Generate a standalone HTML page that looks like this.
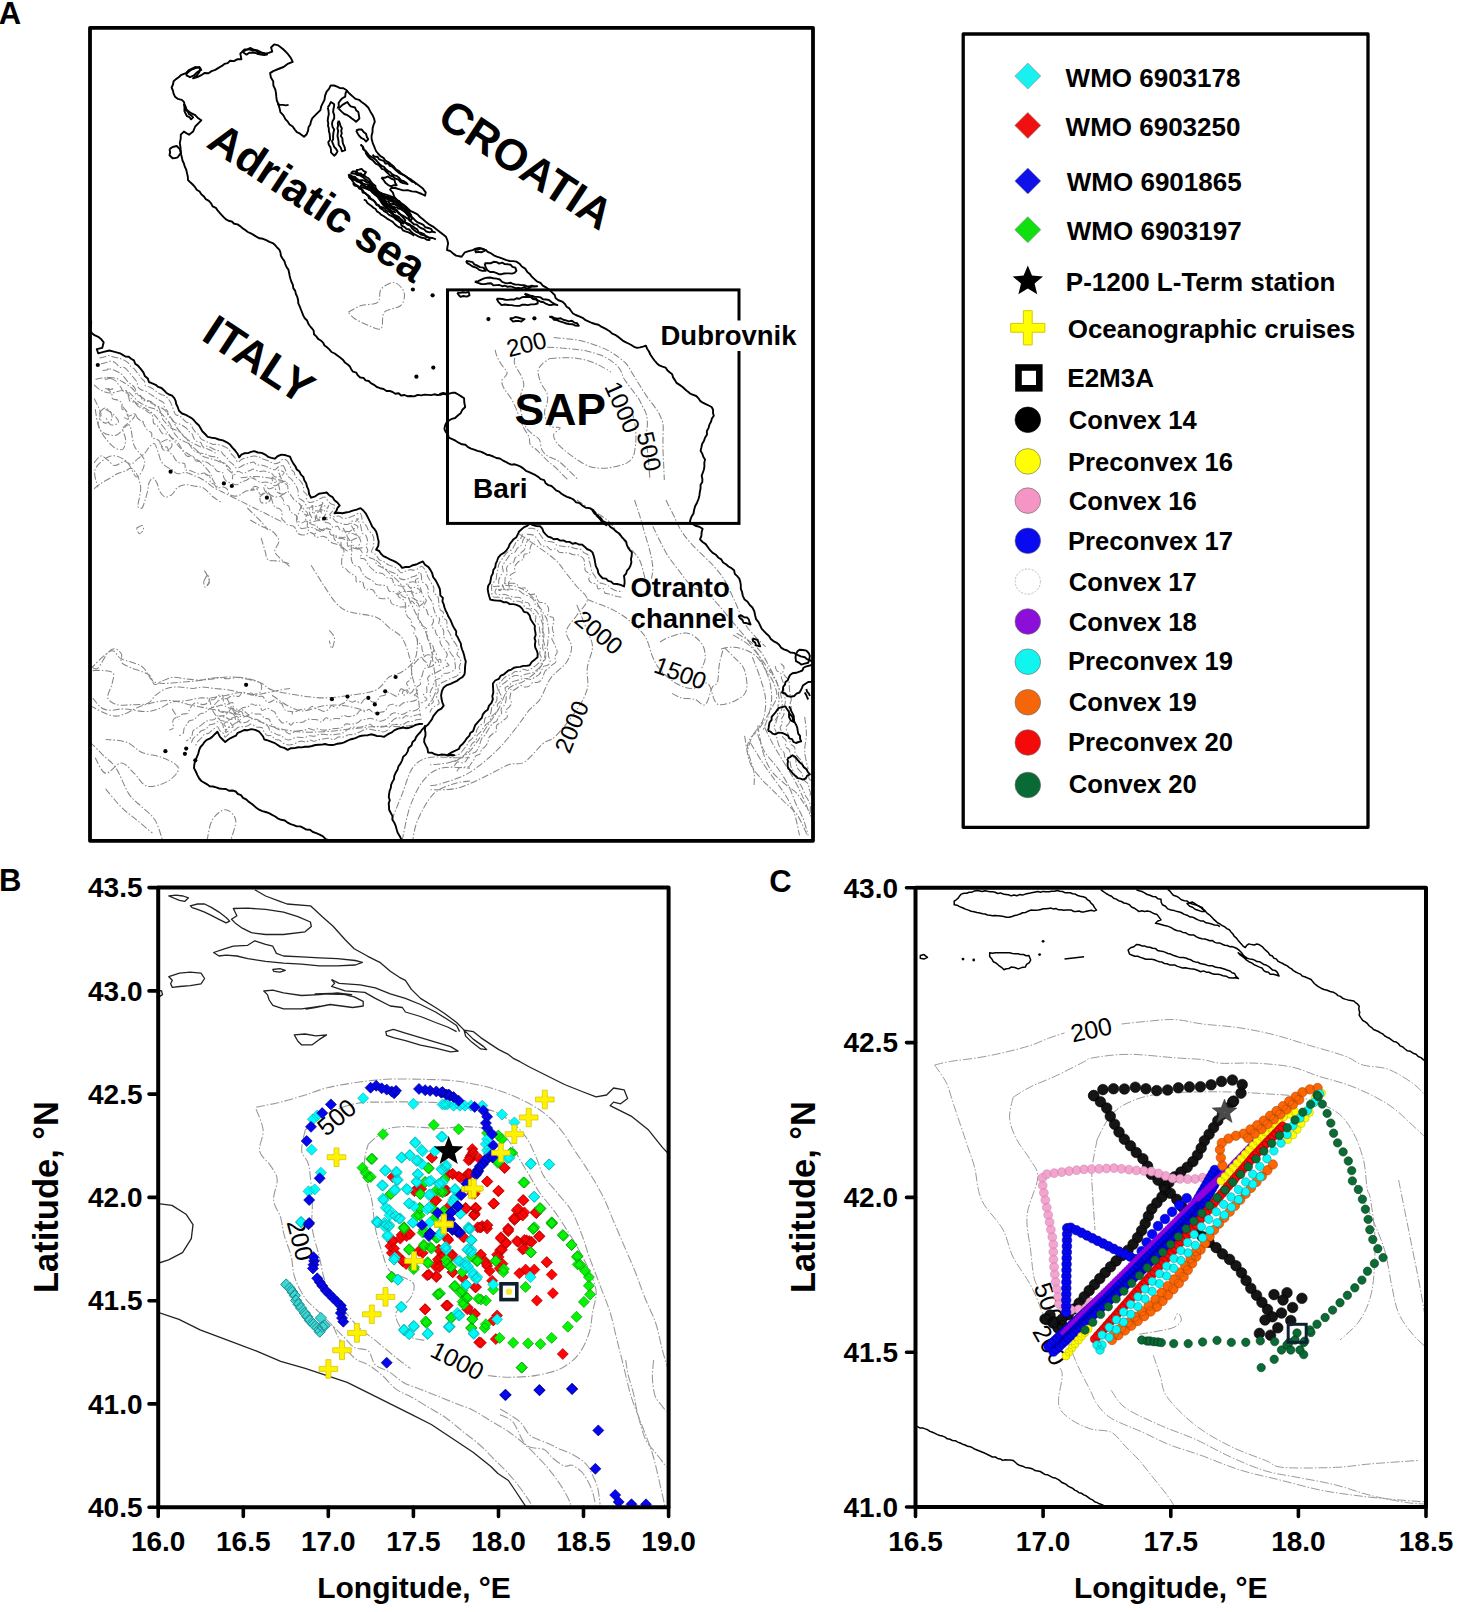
<!DOCTYPE html>
<html><head><meta charset="utf-8"><title>Figure</title>
<style>html,body{margin:0;padding:0;background:#fff;}svg{display:block;}</style>
</head><body>
<svg xmlns="http://www.w3.org/2000/svg" width="1461" height="1612" viewBox="0 0 1461 1612">
<rect width="1461" height="1612" fill="#fff"/>
<defs><clipPath id="clipA"><rect x="90" y="27.8" width="723" height="813"/></clipPath><clipPath id="clipB"><rect x="158.2" y="887.6" width="510.4" height="619.6"/></clipPath><clipPath id="clipC"><rect x="915.5" y="887.8" width="510.5" height="619.2"/></clipPath></defs>
<g clip-path="url(#clipA)"><g fill="none" stroke="#858585" stroke-width="1.05" stroke-dasharray="7,2,1.5,2" stroke-linejoin="round">
<path d="M348.3,312.1 C350.4,311 356.5,307.2 361.4,305.5 C366.3,303.9 374.5,305 377.8,302.3 C381.1,299.5 378.4,292.4 381.1,289.1 C383.8,285.8 390.4,282 394.3,282.5 C398.1,283.1 403,288.6 404.1,292.4 C405.2,296.2 404.1,302.3 400.8,305.5 C397.5,308.8 387.7,308.3 384.4,312.1 C381.1,315.9 383.8,326.4 381.1,328.5 C378.4,330.7 372.3,326.9 368,325.3 C363.6,323.6 358.1,320.9 354.8,318.7 C351.5,316.5 349.3,313.2 348.3,312.1"/>
<path d="M495.2,349.9 C495.4,350.8 495.6,352.9 496.5,355.1 C497.4,357.3 498.7,360.1 500.4,362.9 C502.1,365.7 506,369.9 506.9,372 C507.8,374.2 506.5,374.4 505.6,375.9 C504.7,377.4 501.9,379 501.7,381.1 C501.5,383.3 502.8,386.1 504.3,388.9 C505.8,391.7 508.9,394.8 510.8,398 C512.8,401.3 514.5,405 516,408.4 C517.5,411.9 518.6,415.6 519.9,418.8 C521.2,422.1 522.3,424.9 523.8,427.9 C525.3,431 527.9,434.2 529,437 C530.1,439.9 529,442.7 530.3,444.8 C531.6,447 534.9,448.3 536.8,450 C538.8,451.8 540.1,453.3 542,455.2 C544,457.2 546.4,459.8 548.5,461.8 C550.7,463.7 552.9,465 555,467 C557.2,468.9 559.4,471.3 561.5,473.5 C563.7,475.6 566.9,478.9 568,480"/>
<path d="M553.7,337.6 C556.1,337.8 563.5,338.3 568,338.9 C572.6,339.4 576.7,339.8 581,340.8 C585.4,341.8 589.7,343.2 594,344.7 C598.4,346.2 603.1,348 607,349.9 C610.9,351.9 614.2,354 617.4,356.4 C620.7,358.8 623.9,361.2 626.6,364.2 C629.2,367.3 630.9,371.2 633.1,374.6 C635.2,378.1 637.4,381.6 639.6,385 C641.7,388.5 643.7,392 646.1,395.4 C648.4,398.9 651.7,402.8 653.9,405.8 C656,408.9 657.5,410.6 659.1,413.6 C660.6,416.7 662.3,420.1 663,424 C663.6,427.9 663,432.7 663,437 C663,441.4 662.9,445.7 663,450 C663.1,454.4 663.4,458.1 663.6,463.1 C663.8,468 664.2,477.1 664.3,480"/>
<path d="M547.2,347.3 C549.6,347.4 557,347.6 561.5,348 C566.1,348.3 570.2,348.7 574.5,349.3 C578.9,349.8 583.2,350.2 587.5,351.2 C591.9,352.2 596.4,353.4 600.5,355.1 C604.7,356.8 609,359.2 612.2,361.6 C615.5,364 618.1,366.6 620,369.4 C622,372.2 622.2,375.5 623.9,378.5 C625.7,381.6 628.1,384.4 630.5,387.6 C632.8,390.9 636.3,395 638.3,398 C640.2,401.1 640.9,403.2 642.2,405.8 C643.5,408.4 645.2,410.6 646.1,413.6 C646.9,416.7 647.4,420.1 647.4,424 C647.4,427.9 646.1,432.7 646.1,437 C646.1,441.4 646.9,445.7 647.4,450 C647.8,454.4 648.2,458.1 648.7,463.1 C649.1,468 649.7,477.1 650,480"/>
<path d="M549.8,358.4 C552.9,358.3 562.8,357.6 568,357.7 C573.2,357.8 576.7,358.1 581,359 C585.4,359.9 590.1,361.4 594,362.9 C597.9,364.4 601.6,366.6 604.4,368.1 C607.3,369.6 609.9,371.4 610.9,372"/>
<path d="M631.8,411 C632.2,412.8 633.7,418.2 634.4,421.4 C635,424.7 635.4,426.9 635.7,430.5 C635.9,434.2 636.1,439.2 635.7,443.5 C635.2,447.9 634.6,453.3 633.1,456.6 C631.5,459.8 629.8,461.3 626.6,463.1 C623.3,464.8 617.9,466.1 613.5,467 C609.2,467.8 604.9,468.5 600.5,468.3 C596.2,468 591.9,467.4 587.5,465.7 C583.2,463.9 578.4,460.5 574.5,457.9 C570.6,455.2 567.2,452.6 564.1,450 C561.1,447.4 558.1,444.8 556.3,442.2 C554.6,439.6 553.1,436.8 553.7,434.4 C554.4,432.1 560.7,429.2 560.2,427.9 C559.8,426.6 553.5,428.2 551.1,426.6 C548.7,425.1 547,421.4 545.9,418.8 C544.8,416.2 544.4,413.6 544.6,411 C544.8,408.4 546.8,406 547.2,403.2 C547.7,400.4 548.1,397.2 547.2,394.1 C546.4,391.1 543.3,387.6 542,385 C540.7,382.4 540.1,380.9 539.4,378.5 C538.8,376.1 537.7,373.1 538.1,370.7 C538.6,368.3 540.1,366.3 542,364.2 C544,362.2 548.5,359.3 549.8,358.4"/>
<path d="M514.7,357.7 C514.7,358.8 513.6,361.2 514.7,364.2 C515.8,367.3 519.7,372.5 521.2,375.9 C522.7,379.4 523.8,382.2 523.8,385 C523.8,387.8 521.9,389.6 521.2,392.8 C520.6,396.1 519.7,400.4 519.9,404.5 C520.1,408.6 521.4,413.6 522.5,417.5 C523.6,421.4 524.7,425.1 526.4,427.9 C528.1,430.8 530.7,432.5 532.9,434.4 C535.1,436.4 537.9,437 539.4,439.6 C540.9,442.2 540.5,447.2 542,450 C543.5,452.9 545.9,454.8 548.5,456.6 C551.1,458.3 554.4,458.3 557.6,460.5 C560.9,462.6 564.6,466.3 568,469.6 C571.5,472.8 576.7,478.2 578.4,480"/>
<path d="M576.8,500 C579.4,501.7 587.3,507 592.5,510.5 C597.8,514 603.9,517 608.3,521 C612.6,524.9 615.3,529.7 618.7,534.1 C622.2,538.4 625.7,542.8 629.2,547.2 C632.7,551.6 637.1,555.1 639.7,560.3 C642.3,565.5 644.1,575.6 645,578.6"/>
<path d="M634.5,500 C635.4,502.6 638,510 639.7,515.7 C641.5,521.4 643.2,528 645,534.1 C646.7,540.2 648.9,546.7 650.2,552.4 C651.5,558.1 652.6,563.8 652.8,568.2 C653,572.5 651.7,576.9 651.5,578.6"/>
<path d="M665.9,500 C667.2,502.6 671.2,510.5 673.8,515.7 C676.4,521 678.6,526.7 681.7,531.5 C684.7,536.3 688.2,540.2 692.1,544.6 C696.1,548.9 701.8,554.2 705.3,557.7 C708.8,561.2 710.1,562 713.1,565.5 C716.2,569 720.1,573 723.6,578.6 C727.1,584.3 730.6,592.2 734.1,599.6 C737.6,607 741.1,617.1 744.6,623.2 C748.1,629.3 751.6,632.4 755.1,636.3 C758.6,640.2 763.8,645.1 765.6,646.8"/>
<path d="M652.8,526.2 C655,530.6 661.6,545 665.9,552.4 C670.3,559.9 674.7,565.1 679,570.8 C683.4,576.5 687.3,582.6 692.1,586.5 C697,590.4 703.5,591.3 707.9,594.4 C712.2,597.4 714.4,600.5 718.4,604.9 C722.3,609.2 727.1,615.3 731.5,620.6 C735.8,625.8 739.8,630.2 744.6,636.3 C749.4,642.4 755.9,651.2 760.3,657.3 C764.7,663.4 769,670.4 770.8,673"/>
<path d="M492.9,586.5 C496.8,586.5 509.5,584.3 516.5,586.5 C523.5,588.7 530.5,594.4 534.9,599.6 C539.2,604.9 541.4,611.9 542.7,618 C544,624.1 542.3,630.6 542.7,636.3 C543.2,642 545.8,646.8 545.3,652 C544.9,657.3 543.6,663 540.1,667.8 C536.6,672.6 529.6,677.4 524.4,680.9 C519.1,684.4 513,683.9 508.6,688.7 C504.3,693.6 501.7,703.6 498.2,709.7 C494.7,715.8 492.5,718.5 487.7,725.4 C482.9,732.4 475.4,745.5 469.3,751.7 C463.2,757.8 457.5,760 451,762.1 C444.4,764.3 433.5,764.3 430,764.8"/>
<path d="M519.1,534.1 C521.8,535.8 528.7,540.2 534.9,544.6 C541,548.9 550.6,555.5 555.8,560.3 C561.1,565.1 562.8,569 566.3,573.4 C569.8,577.8 573.3,582.1 576.8,586.5 C580.3,590.9 587.3,594.8 587.3,599.6 C587.3,604.4 580.3,610.1 576.8,615.3 C573.3,620.6 567.2,625.8 566.3,631.1 C565.4,636.3 571.6,641.6 571.6,646.8 C571.6,652 569.8,657.3 566.3,662.5 C562.8,667.8 555,672.1 550.6,678.3 C546.2,684.4 543.6,694 540.1,699.2 C536.6,704.5 534,704.5 529.6,709.7 C525.2,715 519.6,723.7 513.9,730.7 C508.2,737.7 503,744.7 495.5,751.7 C488.1,758.7 478.1,767.4 469.3,772.6 C460.6,777.9 449.7,780.9 443.1,783.1 C436.6,785.3 432.2,785.3 430,785.7"/>
<path d="M576.8,604.9 C578.6,609.2 584.7,624.1 587.3,631.1 C589.9,638.1 592.5,640.7 592.5,646.8 C592.5,652.9 588.2,660.8 587.3,667.8 C586.4,674.8 589,681.8 587.3,688.7 C585.5,695.7 582,701.9 576.8,709.7 C571.6,717.6 561.5,730.3 555.8,735.9 C550.2,741.6 548,739.4 542.7,743.8 C537.5,748.2 530.1,758.7 524.4,762.1 C518.7,765.6 515.6,762.1 508.6,764.8 C501.7,767.4 491.2,773.9 482.4,777.9 C473.7,781.8 465,786.4 456.2,788.4 C447.5,790.3 434.4,789.5 430,789.7"/>
<path d="M587.3,599.6 C591.7,601.4 606.5,606.6 613.5,610.1 C620.5,613.6 624,616.2 629.2,620.6 C634.5,625 641,630.2 645,636.3 C648.9,642.4 650.2,651.6 652.8,657.3 C655.4,663 656.8,666 660.7,670.4 C664.6,674.8 671.2,680.4 676.4,683.5 C681.7,686.6 686.9,688.7 692.1,688.7 C697.4,688.7 703.5,680.9 707.9,683.5 C712.2,686.1 712.2,702.7 718.4,704.5 C724.5,706.2 740.2,699.7 744.6,694 C748.9,688.3 746.3,676.5 744.6,670.4 C742.8,664.3 737.6,661.2 734.1,657.3 C730.6,653.4 725.4,648.6 723.6,646.8"/>
<path d="M744.6,735.9 C745.5,740.3 747.2,755.2 749.8,762.1 C752.4,769.1 756.8,773.5 760.3,777.9 C763.8,782.2 766.9,784.4 770.8,788.4 C774.7,792.3 779.5,797.1 783.9,801.5 C788.3,805.8 793.1,808.9 797,814.6 C800.9,820.3 805.7,832.1 807.5,835.6"/>
<path d="M757.7,725.4 C758.6,729.8 760.7,744.2 762.9,751.7 C765.1,759.1 767.3,764.8 770.8,770 C774.3,775.3 779.5,779.2 783.9,783.1 C788.3,787.1 793.1,789.2 797,793.6 C800.9,798 805.7,806.7 807.5,809.3"/>
<path d="M752.4,657.3 C753.8,660.8 758.1,671.3 760.3,678.3 C762.5,685.3 765.1,692.2 765.6,699.2 C766,706.2 765.1,714.1 762.9,720.2 C760.7,726.3 755.1,730.7 752.4,735.9 C749.8,741.2 748.1,749 747.2,751.7"/>
<path d="M95.2,409.2 C96.1,412.7 96.9,425.7 100.4,430 C103.9,434.4 111.2,436.1 116,435.2 C120.8,434.4 126,423.1 129,424.8 C132,426.6 131.6,439.6 134.2,445.7 C136.8,451.7 144.2,456.1 144.6,461.3 C145.1,466.5 139.9,476.9 136.8,476.9 C133.8,476.9 130.7,464.7 126.4,461.3 C122.1,457.8 116,454.8 110.8,456.1 C105.6,457.4 97.4,463.9 95.2,469.1 C93,474.3 97.4,484.2 97.8,487.3"/>
<path d="M105.6,409.2 C106.9,410.1 111.2,412.3 113.4,414.4 C115.6,416.6 119,420.5 118.6,422.2 C118.2,424 113,425.7 110.8,424.8 C108.6,424 106.5,418.3 105.6,417"/>
<path d="M90,669.2 C93.5,666.2 105.6,652.8 110.8,651 C116,649.3 116,656.2 121.2,658.8 C126.4,661.4 136.4,662.7 142,666.6 C147.7,670.5 148.5,679.6 155,682.2 C161.5,684.8 172.4,682.7 181,682.2 C189.7,681.8 198.4,680.5 207,679.6 C215.7,678.8 224.4,676.6 233.1,677 C241.7,677.5 252.6,680.1 259.1,682.2 C265.6,684.4 265.6,687.9 272.1,690 C278.6,692.2 289.4,693.9 298.1,695.2 C306.7,696.6 315.4,697.9 324.1,697.9 C332.8,697.9 341.4,696.6 350.1,695.2 C358.8,693.9 369.6,693.1 376.1,690 C382.6,687 384.8,680.1 389.1,677 C393.4,674 397.8,674.9 402.1,671.8 C406.4,668.8 412.5,664.5 415.1,658.8 C417.7,653.2 417.3,641.5 417.7,638"/>
<path d="M90,705.7 C94.3,707.4 107.3,716.1 116,716.1 C124.7,716.1 133.3,708.3 142,705.7 C150.7,703.1 159.4,700.5 168,700.5 C176.7,700.5 185.4,703.9 194,705.7 C202.7,707.4 211.4,709.1 220,710.9 C228.7,712.6 237.4,713.5 246.1,716.1 C254.7,718.7 263.4,723.9 272.1,726.5 C280.7,729.1 289.4,730.8 298.1,731.7 C306.7,732.5 315.4,732.1 324.1,731.7 C332.8,731.2 341.4,729.9 350.1,729.1 C358.8,728.2 367.4,726.9 376.1,726.5 C384.8,726 395.2,726.9 402.1,726.5 C409.1,726 415.1,724.3 417.7,723.9"/>
<path d="M311.1,565.2 C313.2,568.7 319.8,579.5 324.1,586 C328.4,592.5 332.8,599.9 337.1,604.2 C341.4,608.6 343.6,609.9 350.1,612 C356.6,614.2 369.6,614.6 376.1,617.2 C382.6,619.8 384.8,624.2 389.1,627.6 C393.4,631.1 398.6,632.8 402.1,638 C405.6,643.2 408.2,652.3 409.9,658.8 C411.7,665.3 411.2,671 412.5,677 C413.8,683.1 416.4,688.7 417.7,695.2 C419,701.8 419.9,712.6 420.3,716.1"/>
<path d="M376.1,560 C378.3,562.2 384.8,568.7 389.1,573 C393.4,577.3 397.8,579.5 402.1,586 C406.4,592.5 410.8,603.3 415.1,612 C419.5,620.7 425.1,629.4 428.1,638 C431.2,646.7 432,655.4 433.3,664 C434.6,672.7 436.8,683.1 435.9,690 C435.1,697 429.4,703.1 428.1,705.7"/>
<path d="M391.7,820.1 C393.4,815.8 398.6,802.8 402.1,794.1 C405.6,785.4 408.2,774.1 412.5,768.1 C416.9,762 421.2,759.4 428.1,757.7 C435.1,755.9 447.2,757.7 454.1,757.7 C461.1,757.7 467.4,757.7 470,757.7"/>
<path d="M402.1,840.9 C403.4,835.3 406.4,817.1 409.9,807.1 C413.4,797.1 417.7,787.6 422.9,781.1 C428.1,774.6 433.3,770.2 441.1,768.1 C449,765.9 465.2,768.1 470,768.1"/>
<path d="M470,781.1 C467.4,781.5 460.2,781.5 454.1,783.7 C448,785.8 439.4,788 433.3,794.1 C427.3,800.2 421.2,812.3 417.7,820.1 C414.3,827.9 413.4,837.4 412.5,840.9"/>
<path d="M90,742.1 C92.2,744.2 98.7,750.7 103,755.1 C107.3,759.4 111.7,761.6 116,768.1 C120.3,774.6 124.7,787.6 129,794.1 C133.3,800.6 137.7,802.8 142,807.1 C146.4,811.4 151.6,814.5 155,820.1 C158.5,825.7 161.5,837.4 162.8,840.9"/>
<path d="M105.6,788.9 C108.2,791.9 116,801.9 121.2,807.1 C126.4,812.3 131.6,815.8 136.8,820.1 C142,824.4 149.8,830.9 152.4,833.1"/>
<path d="M95.2,757.7 C96.9,760.3 101.3,772.4 105.6,773.3 C109.9,774.1 116.4,762.9 121.2,762.9 C126,762.9 129.9,769.4 134.2,773.3 C138.6,777.2 141.6,785 147.2,786.3 C152.9,787.6 162.8,784.1 168,781.1 C173.2,778 179.3,772 178.4,768.1 C177.6,764.2 168.9,760.3 162.8,757.7 C156.8,755.1 148.1,755.1 142,752.5 C136,749.9 132.5,744.2 126.4,742.1 C120.3,739.9 109.1,739.9 105.6,739.5"/>
<path d="M207,840.9 C207.9,837.4 209.2,825.3 212.2,820.1 C215.3,814.9 221.3,809.7 225.2,809.7 C229.2,809.7 234.8,814.9 235.7,820.1 C236.5,825.3 231.3,837.4 230.5,840.9"/>
<path d="M272.1,695.2 C274.7,697 282.5,703.1 287.7,705.7 C292.9,708.3 297.2,710.9 303.3,710.9 C309.3,710.9 317.2,706.5 324.1,705.7 C331,704.8 338,704.8 344.9,705.7 C351.8,706.5 362.2,710 365.7,710.9"/>
<path d="M204.4,570.4 C205.3,572.1 209.2,578.2 209.6,580.8 C210.1,583.4 207.5,585.1 207,586"/>
<path d="M329.3,630.2 C330.2,631.5 334.1,635 334.5,638 C334.9,641.1 332.8,648 331.9,648.4 C331,648.9 329.7,641.9 329.3,640.6"/>
<path d="M94.1,384.8 C95.2,385.7 98.2,388.9 101,390.2 C103.7,391.6 106.7,393 110.5,393 C114.4,393 120.8,390 124.2,390.2 C127.6,390.5 128.8,392.5 131.1,394.3 C133.3,396.2 135.2,399.1 137.9,401.2 C140.7,403.2 144.5,405.3 147.5,406.7 C150.5,408 153.2,408 155.7,409.4 C158.2,410.8 160.3,412.6 162.6,414.9 C164.8,417.2 167.3,419.9 169.4,423.1 C171.5,426.3 173,431.3 174.9,434 C176.7,436.8 178.1,437.9 180.3,439.5 C182.6,441.1 185.8,441.8 188.6,443.6 C191.3,445.4 194.5,448.4 196.8,450.5 C199.1,452.5 200,454.6 202.3,455.9 C204.5,457.3 207.7,457.8 210.5,458.7 C213.2,459.6 215.9,460.3 218.7,461.4 C221.4,462.6 224.6,463.7 226.9,465.5 C229.2,467.3 231.5,470.1 232.4,472.4 C233.3,474.6 232.4,478.1 232.4,479.2"/>
<path d="M95.5,379.3 C96.8,379.1 100.5,378.1 103.7,377.9 C106.9,377.7 111.4,377.2 114.6,377.9 C117.8,378.6 120.1,380.4 122.9,382 C125.6,383.6 128.6,385.4 131.1,387.5 C133.6,389.5 135.2,392.1 137.9,394.3 C140.7,396.6 144.5,399.4 147.5,401.2 C150.5,403 153,403.9 155.7,405.3 C158.4,406.7 161.4,407.3 163.9,409.4 C166.4,411.5 168.5,414.4 170.8,417.6 C173,420.8 175.3,425.4 177.6,428.6 C179.9,431.8 182.2,434.5 184.5,436.8 C186.7,439.1 188.8,440.7 191.3,442.3 C193.8,443.8 196.8,445.2 199.5,446.4 C202.3,447.5 205,448 207.7,449.1 C210.5,450.2 214.6,452.5 215.9,453.2"/>
<path d="M125.6,390.2 C127,392.1 130.6,398.2 133.8,401.2 C137,404.2 141.3,405.7 144.8,408 C148.2,410.3 151.4,411.9 154.3,414.9 C157.3,417.8 159.8,422.2 162.6,425.8 C165.3,429.5 168.3,433.6 170.8,436.8 C173.3,440 175.6,442.7 177.6,445 C179.7,447.3 180.8,448.6 183.1,450.5 C185.4,452.3 188.6,454.1 191.3,455.9 C194,457.8 197.2,459.6 199.5,461.4 C201.8,463.2 203.2,464.8 205,466.9 C206.8,468.9 209.1,471.5 210.5,473.7 C211.8,476 211.8,478.1 213.2,480.6 C214.6,483.1 217.8,487.4 218.7,488.8"/>
<path d="M94.1,398.4 C94.8,399.8 97.1,403.9 98.2,406.7 C99.4,409.4 101,412.1 101,414.9 C101,417.6 98.2,420.3 98.2,423.1 C98.2,425.8 99.6,428.6 101,431.3 C102.3,434 104.1,436.8 106.4,439.5 C108.7,442.3 111.9,446.1 114.6,447.7 C117.4,449.3 121,450.5 122.9,449.1 C124.7,447.7 125.6,442.9 125.6,439.5 C125.6,436.1 122.4,431.3 122.9,428.6 C123.3,425.8 126.5,424.9 128.3,423.1 C130.2,421.3 132.4,419.4 133.8,417.6 C135.2,415.8 136.1,413 136.5,412.1"/>
<path d="M94.1,462.8 C95.2,461.6 98.7,456.4 101,455.9 C103.2,455.5 105.5,458.5 107.8,460 C110.1,461.6 111.9,465.3 114.6,465.5 C117.4,465.8 121.5,461.6 124.2,461.4 C127,461.2 128.8,464.6 131.1,464.2 C133.3,463.7 135.6,460.5 137.9,458.7 C140.2,456.9 142.9,455 144.8,453.2 C146.6,451.4 147.3,449.3 148.9,447.7 C150.5,446.1 152.7,442.7 154.3,443.6 C155.9,444.5 157.3,450.2 158.4,453.2 C159.6,456.2 159.8,459.1 161.2,461.4 C162.6,463.7 164.8,465.5 166.7,466.9 C168.5,468.3 170.3,468.5 172.1,469.6 C174,470.8 175.3,473.3 177.6,473.7 C179.9,474.2 183.3,472.1 185.8,472.4 C188.3,472.6 190.4,474.2 192.7,475.1 C195,476 197.2,476.7 199.5,477.8 C201.8,479 204.1,480.4 206.4,482 C208.6,483.5 210.7,485.8 213.2,487.4 C215.7,489 219.1,490.4 221.4,491.5 C223.7,492.7 223.7,492.7 226.9,494.3 C230.1,495.9 236,498.8 240.6,501.1 C245.1,503.4 249.7,505.7 254.3,508 C258.8,510.2 263.4,512.5 268,514.8 C272.5,517.1 279.4,520.5 281.6,521.6"/>
<path d="M94.1,488.8 C95.2,487.9 98.2,485.1 101,483.3 C103.7,481.5 107.8,479.4 110.5,477.8 C113.3,476.2 114.9,474.9 117.4,473.7 C119.9,472.6 123.3,471.9 125.6,471 C127.9,470.1 129.2,467.8 131.1,468.3 C132.9,468.7 135.2,471.7 136.5,473.7 C137.9,475.8 138.6,478.1 139.3,480.6 C140,483.1 140.7,485.8 140.7,488.8 C140.7,491.8 139.7,495.4 139.3,498.4 C138.8,501.3 137.5,505 137.9,506.6 C138.4,508.2 140.9,508.9 142,508 C143.2,507 143.8,503.9 144.8,501.1 C145.7,498.4 146.8,494.5 147.5,491.5 C148.2,488.6 148,485.6 148.9,483.3 C149.8,481 151.6,477.8 153,477.8 C154.3,477.8 155.9,481 157.1,483.3 C158.2,485.6 158.4,489.3 159.8,491.5 C161.2,493.8 163.2,496.6 165.3,497 C167.3,497.5 170.1,495.9 172.1,494.3 C174.2,492.7 175.3,489 177.6,487.4 C179.9,485.8 183.1,484.9 185.8,484.7 C188.6,484.5 191.3,485.6 194,486.1 C196.8,486.5 200,486.5 202.3,487.4 C204.5,488.3 205.9,489.9 207.7,491.5 C209.6,493.1 210.9,495.2 213.2,497 C215.5,498.8 220,501.6 221.4,502.5"/>
<path d="M240.6,477.8 C242.9,477.6 249.7,476.5 254.3,476.5 C258.8,476.5 263.4,477.2 268,477.8 C272.5,478.5 278,479.4 281.6,480.6 C285.3,481.7 288.6,484 290,484.7"/>
<path d="M99.6,412.1 C100.5,411.5 103.2,408 105.1,408 C106.9,408 109.4,410.3 110.5,412.1 C111.7,414 112.6,417.2 111.9,419 C111.2,420.8 108.3,422.9 106.4,423.1 C104.6,423.3 102.1,422.2 101,420.3 C99.8,418.5 99.8,413.5 99.6,412.1"/>
<path d="M122.9,406.7 C123.5,407.6 126,410.1 127,412.1 C127.9,414.2 128.8,418.1 128.3,419 C127.9,419.9 124.9,417.8 124.2,417.6"/>
<path d="M161.2,442.3 C162.3,441.8 166.2,439.1 168,439.5 C169.9,440 172.1,443.2 172.1,445 C172.1,446.8 169.6,449.8 168,450.5 C166.4,451.1 163.7,450.5 162.6,449.1 C161.4,447.7 161.4,443.4 161.2,442.3"/>
<path d="M259.7,497 C260.7,496.3 263.4,492.9 265.2,492.9 C267,492.9 270.2,495.4 270.7,497 C271.2,498.6 269.6,501.6 268,502.5 C266.4,503.4 262.5,503.4 261.1,502.5 C259.7,501.6 260,497.9 259.7,497"/>
<path d="M247.4,508 C248.6,509.1 252,512.5 254.3,514.8 C256.6,517.1 258.8,519.1 261.1,521.6 C263.4,524.2 266.8,528.6 268,530"/>
<path d="M92.7,667.8 C93.7,667.8 95.7,670.4 98.2,667.8 C100.7,665.3 105.1,656 107.8,652.8 C110.5,649.6 112.4,648.5 114.6,648.7 C116.9,648.9 120.3,651.9 121.5,654.2 C122.6,656.4 119.9,660.1 121.5,662.4 C123.1,664.6 126.5,665.8 131.1,667.8 C135.6,669.9 145,672 148.9,674.7 C152.7,677.4 152.3,683.1 154.3,684.3 C156.4,685.4 158.2,682.7 161.2,681.5 C164.2,680.4 168,677.9 172.1,677.4 C176.2,677 181.3,678.3 185.8,678.8 C190.4,679.3 195.9,680.2 199.5,680.2 C203.2,680.2 204.3,679.3 207.7,678.8 C211.1,678.3 216.9,677.4 220,677.4 C223.2,677.4 223.5,678.8 226.9,678.8 C230.3,678.8 236,677.2 240.6,677.4 C245.1,677.7 250.8,679 254.3,680.2 C257.7,681.3 260.2,682.2 261.1,684.3 C262,686.3 261.8,690.7 259.7,692.5 C257.7,694.3 250.6,694.8 248.8,695.2"/>
<path d="M92.7,670.6 C94.6,670.6 100.3,670.1 103.7,670.6 C107.1,671 111.9,671 113.3,673.3 C114.6,675.6 112.8,680.2 111.9,684.3 C111,688.4 106.9,694.5 107.8,698 C108.7,701.4 113.5,703.7 117.4,704.8 C121.3,705.9 126,705 131.1,704.8 C136.1,704.6 143.4,705 147.5,703.4 C151.6,701.8 152.5,697.7 155.7,695.2 C158.9,692.7 162.8,689.7 166.7,688.4 C170.5,687 174.6,687 179,687 C183.3,687 188.8,688.4 192.7,688.4 C196.5,688.4 198.8,687 202.3,687 C205.7,687 209.1,687.9 213.2,688.4 C217.3,688.8 222.3,689.1 226.9,689.7 C231.5,690.4 238.3,692 240.6,692.5"/>
<path d="M92.7,698 C94.1,699.6 98,705.5 101,707.5 C103.9,709.6 106.7,710.1 110.5,710.3 C114.4,710.5 118.5,708.7 124.2,708.9 C129.9,709.1 139.1,711.6 144.8,711.6 C150.5,711.6 153.9,710.5 158.4,708.9 C163,707.3 167.6,703.4 172.1,702.1 C176.7,700.7 181.3,701.4 185.8,700.7 C190.4,700 195.4,698.4 199.5,698 C203.6,697.5 205.9,698.4 210.5,698 C215,697.5 221.9,696.1 226.9,695.2 C231.9,694.3 236,692.5 240.6,692.5 C245.1,692.5 249.7,695.2 254.3,695.2 C258.8,695.2 263.4,693.4 268,692.5 C272.5,691.6 278,690.4 281.6,689.7 C285.3,689.1 288.6,688.6 290,688.4"/>
<path d="M250.2,520 C252.2,521.1 258.8,525 262.5,526.8 C266.1,528.7 269.3,528.7 272.1,531 C274.8,533.2 278.5,537.1 278.9,540.5 C279.4,544 274.3,548.3 274.8,551.5 C275.3,554.7 279.1,557.2 281.6,559.7 C284.2,562.2 288.6,565.4 290,566.5"/>
<path d="M261.1,537.8 C261.8,540.1 264.1,547.8 265.2,551.5 C266.4,555.1 265.7,558.1 268,559.7 C270.2,561.3 275.2,560.4 278.9,561.1 C282.6,561.8 288.2,563.3 290,563.8"/>
<path d="M136.5,528.2 C137.5,527.8 140.9,525.2 142,525.5 C143.2,525.7 143.8,528.2 143.4,529.6 C142.9,531 140.4,533.9 139.3,533.7 C138.1,533.5 137,529.1 136.5,528.2"/>
<path d="M203.6,581.6 C204.3,580.5 206.8,574.8 207.7,574.8 C208.6,574.8 209.6,579.5 209.1,581.6 C208.6,583.7 205.9,587.1 205,587.1 C204.1,587.1 203.8,582.5 203.6,581.6"/>
<path d="M209.1,698 C209.8,700.2 211.4,708 213.2,711.6 C215,715.3 218.9,718.6 220,720"/>
<path d="M226.9,698 C228,700.2 231.5,708 233.7,711.6 C236,715.3 239.4,718.6 240.6,720"/>
<path d="M172.1,708.9 L179,720"/>
<path d="M660,641.9 C661.7,641.1 665.8,638.2 670.5,636.7 C675.1,635.2 682.7,632.1 687.9,633.2 C693.1,634.4 698.9,639.6 701.8,643.7 C704.7,647.7 705.3,653.6 705.3,657.6 C705.3,661.7 702.4,666.3 701.8,668.1"/>
<path d="M721,648.9 C723,648.6 728.9,646.9 733.2,647.2 C737.6,647.4 743.1,648.9 747.2,650.6 C751.2,652.4 754.7,654.7 757.6,657.6 C760.5,660.5 762,664 764.6,668.1 C767.2,672.1 771.3,677.4 773.3,682 C775.3,686.7 777.1,691.6 776.8,696 C776.5,700.3 773.6,704.1 771.6,708.2 C769.5,712.2 766.9,716.6 764.6,720.4 C762.3,724.1 759.9,727.9 757.6,730.8 C755.3,733.7 752.4,734.9 750.6,737.8 C748.9,740.7 747.2,744.5 747.2,748.3 C747.2,752 749.5,756.4 750.6,760.5 C751.8,764.5 753.6,768.6 754.1,772.7 C754.7,776.7 754.1,782.8 754.1,784.9"/>
<path d="M722.8,650.6 C722.2,653 720.1,659.4 719.3,664.6 C718.4,669.8 718.7,678.2 717.5,682 C716.4,685.8 714.3,683.5 712.3,687.3 C710.3,691 708.2,702.6 705.3,704.7 C702.4,706.7 698.9,700.6 694.9,699.5 C690.8,698.3 685,698.9 680.9,697.7 C676.9,696.5 672.2,693.4 670.5,692.5"/>
<path d="M733.2,635 C735.5,636.4 743.1,640.5 747.2,643.7 C751.2,646.9 754.7,650.1 757.6,654.1 C760.5,658.2 762.6,663.4 764.6,668.1 C766.6,672.7 768.7,676.8 769.8,682 C771,687.3 771.9,693.6 771.6,699.5 C771.3,705.3 769.5,711.7 768.1,716.9 C766.6,722.1 763.7,728.5 762.8,730.8"/>
<path d="M757.6,734.3 C758.8,737.2 761.1,745.9 764.6,751.7 C768.1,757.6 774.5,763.4 778.5,769.2 C782.6,775 786.1,780.8 789,786.6 C791.9,792.4 793.6,798.8 796,804 C798.3,809.3 800.9,812.8 802.9,818 C805,823.2 807.3,832.5 808.2,835.4"/>
<path d="M750.6,743 C752.4,745.9 757.3,754.7 761.1,760.5 C764.9,766.3 769.2,772.1 773.3,777.9 C777.4,783.7 782,789.5 785.5,795.3 C789,801.1 791.9,806.1 794.2,812.8 C796.5,819.4 798.6,831.6 799.5,835.4"/>
<path d="M764.6,727.3 C766,730.3 770.1,739 773.3,744.8 C776.5,750.6 780.3,756.4 783.8,762.2 C787.3,768 791,773.8 794.2,779.6 C797.4,785.5 800.3,791.3 802.9,797.1 C805.6,802.9 808.8,811.6 809.9,814.5"/>
<path d="M736.7,633.2 C739,634.7 746.6,638.7 750.6,641.9 C754.7,645.1 758.2,648.6 761.1,652.4 C764,656.2 765.8,660.2 768.1,664.6 C770.4,668.9 773,673.9 775,678.5 C777.1,683.2 779.1,687.5 780.3,692.5 C781.4,697.4 782.9,703.5 782,708.2 C781.2,712.8 776.2,718.3 775,720.4"/>
<path d="M804.7,716.9 C805,719.8 806.4,728.5 806.4,734.3 C806.4,740.1 804.4,745.9 804.7,751.7 C805,757.6 807.6,766.3 808.2,769.2"/>
<path d="M450.1,757.9 C450.7,757.5 452.5,756.2 453.8,755.7 C455.1,755.1 456.8,755.4 458.1,754.8 C459.4,754.2 460.4,753.1 461.5,752.1 C462.5,751 463.3,749.7 464.2,748.6 C465.1,747.4 466.1,746.3 466.9,745.1 C467.8,743.8 468.3,742.3 469.2,741.2 C470.2,740.1 471.5,739.4 472.6,738.2 C473.7,737 474.9,735.6 475.6,734.1 C476.4,732.6 476.4,730.6 477.2,729.1 C478,727.6 479.3,726.2 480.5,725.1 C481.6,724 483.4,723.8 484.2,722.7 C484.9,721.5 484.3,719.2 485.2,718.1 C486,717 488.4,717.1 489.4,716.1 C490.4,715 490.6,713.4 491,711.9 C491.4,710.5 491.3,708.8 491.9,707.5 C492.5,706.1 493.9,705.2 494.8,703.9 C495.6,702.7 496.5,701.5 496.8,700 C497.2,698.5 496.7,696.6 496.9,694.9 C497.1,693.2 498.1,691.5 498.1,689.8 C498,688.1 496.3,686 496.7,684.8 C497.1,683.6 499.5,683.5 500.6,682.5 C501.7,681.5 502.1,679.9 503.2,678.8 C504.2,677.7 505.5,676.7 506.9,675.9 C508.3,675.2 510,675 511.4,674.3 C512.8,673.6 513.9,671.9 515.3,671.5 C516.6,671.1 518.1,672.3 519.4,671.9 C520.7,671.5 521.8,669.5 523.1,669.2 C524.4,669 526,670.5 527.4,670.4 C528.8,670.3 529.9,669.6 531.2,668.8 C532.6,668.1 534,666.9 535.3,665.9 C536.5,664.9 537.9,664 539,662.7 C540,661.4 541.2,659.8 541.4,658.3 C541.5,656.7 539.9,655.2 539.7,653.6 C539.6,652 540.5,650.2 540.4,648.5 C540.2,646.9 539.1,645.4 538.8,643.8 C538.6,642.3 538.5,640.7 538.7,639.2 C538.9,637.6 540,636 540.1,634.5 C540.3,632.9 539.8,631.4 539.6,629.8 C539.4,628.2 539.5,626.5 538.8,625.1 C538.1,623.7 536,623.1 535.5,621.6 C535,620.1 536.3,617.8 535.8,616.3 C535.3,614.8 533.7,613.9 532.6,612.7 C531.6,611.5 530.9,610 529.6,609.1 C528.4,608.3 526.2,608.5 525.1,607.5 C523.9,606.5 523.8,604.1 522.7,603.1 C521.6,602.1 519.9,601.6 518.3,601.3 C516.7,601 514.9,601.8 513.4,601.2 C511.9,600.7 510.7,598.6 509.2,598.1 C507.6,597.6 506,598.5 504.2,598.3 C502.4,598.2 500.5,597.5 498.6,597.2 C496.7,596.9 494,597.8 492.9,596.5 C491.7,595.3 491.8,591.6 491.7,589.5 C491.5,587.5 491.3,585.7 492,584.1 C492.7,582.5 495.1,581.5 495.9,579.9 C496.7,578.3 496.4,576.4 496.7,574.7 C497,572.9 497.5,571.2 497.8,569.5 C498.2,567.8 498.2,566 498.8,564.3 C499.4,562.7 500.7,561.2 501.6,559.7 C502.5,558.3 503.3,557 504.3,555.7 C505.3,554.4 506.3,553.2 507.5,552.2 C508.8,551.2 510.6,550.8 511.8,549.7 C512.9,548.6 513.5,547 514.3,545.6 C515.1,544.2 515.5,542.5 516.6,541.3 C517.7,540.1 519.8,539.6 520.8,538.3 C521.8,537.1 522.2,534.5 522.5,533.7"/>
<path d="M451.9,761.4 C452.7,761.3 455.3,761.4 456.7,760.7 C458.1,760 458.9,758.2 460.1,757.3 C461.3,756.4 462.9,756 464.1,755.1 C465.3,754.1 466.2,752.8 467.2,751.5 C468.2,750.3 469.1,749.1 469.9,747.7 C470.7,746.4 471.1,744.7 472.1,743.5 C473.1,742.3 475,741.9 475.9,740.5 C476.7,739.2 476.3,736.8 477.2,735.4 C478,733.9 479.7,732.9 480.8,731.6 C481.9,730.3 482.8,728.7 483.7,727.4 C484.7,726.2 485.4,725.1 486.4,724.1 C487.4,723.1 488.9,722.5 489.8,721.4 C490.6,720.2 490.5,718.3 491.3,717.1 C492,715.9 493.2,715.3 494.3,714.2 C495.4,713 497.4,712 497.9,710.4 C498.4,708.8 497,706.3 497.4,704.7 C497.9,703.1 500.1,702.3 500.8,700.8 C501.4,699.3 501.5,697.5 501.2,695.9 C500.9,694.2 499.1,692.6 499,691 C498.9,689.3 499.4,687.5 500.5,686 C501.6,684.5 504.2,683.2 505.6,682 C507,680.9 507.7,679.9 508.8,679 C509.9,678.1 511,677.1 512.3,676.5 C513.6,675.9 515.2,675.3 516.6,675.3 C518.1,675.2 519.6,676.3 521,676.2 C522.3,676 523.5,674.9 524.8,674.5 C526.2,674 527.5,673.7 528.8,673.4 C530.2,673 531.5,673 532.9,672.5 C534.2,671.9 535.6,670.9 536.8,670 C538.1,669.1 539.3,668.2 540.2,666.9 C541,665.6 541,663.5 541.8,662.3 C542.7,661 544.6,660.6 545.2,659.2 C545.9,657.8 546,655.5 545.6,653.8 C545.3,652.1 543.4,650.6 542.9,648.9 C542.5,647.1 542.7,645.2 542.8,643.5 C542.9,641.8 543.3,640.3 543.5,638.7 C543.7,637.1 544.1,635.5 543.9,634 C543.7,632.4 542.5,630.8 542.3,629.2 C542.2,627.6 543,626 542.7,624.4 C542.5,622.8 541.5,621 540.8,619.4 C540.2,617.7 539.6,616.1 538.7,614.5 C537.8,613 536.9,611.2 535.6,610.1 C534.3,609 532.1,609.2 530.9,608.1 C529.7,606.9 529.7,604.3 528.4,603.2 C527.2,602.1 524.7,602.5 523.3,601.6 C522,600.7 521.5,598.4 520.1,597.7 C518.7,597 516.6,597.5 514.9,597.3 C513.2,597.1 511.5,596.8 509.8,596.3 C508.2,595.9 506.6,594.7 505,594.4 C503.4,594.1 501.7,594.8 500.1,594.7 C498.5,594.5 496.2,594.3 495.4,593.5 C494.7,592.7 495.1,591.2 495.6,589.9 C496.2,588.6 498.2,587.3 498.7,585.8 C499.2,584.2 498.4,582.2 498.7,580.5 C499,578.9 499.8,577.4 500.5,575.9 C501.3,574.4 502.8,573.2 503.2,571.6 C503.5,569.9 502,567.8 502.4,566.1 C502.7,564.5 504.1,563.1 505,561.8 C505.9,560.4 506.8,559.2 507.7,558 C508.6,556.7 509.3,555.2 510.5,554.2 C511.7,553.2 513.7,553.2 514.9,552.2 C516.1,551.2 516.4,549.3 517.5,548.1 C518.7,546.8 520.7,546.2 521.6,544.9 C522.5,543.5 522.4,541.5 523.1,540 C523.8,538.5 525.3,536.6 525.8,535.9"/>
<path d="M454.2,765.9 C454.8,765.2 456.1,762.4 457.7,761.9 C459.3,761.4 462.2,763.3 463.9,762.8 C465.5,762.3 466.4,760.3 467.4,758.8 C468.4,757.4 468.3,755.3 469.6,754.2 C470.9,753.1 473.8,753.3 475.2,752.3 C476.6,751.4 477.4,749.9 478.2,748.4 C479,746.9 479.4,745 480,743.4 C480.6,741.7 480.9,740 481.8,738.5 C482.7,737.1 484.3,736.1 485.3,734.7 C486.3,733.3 487,731.6 487.8,730.3 C488.7,728.9 489.3,727.8 490.2,726.7 C491,725.5 491.8,724.3 492.9,723.4 C494,722.4 495.8,722.1 496.7,721 C497.7,719.9 497.7,718.1 498.5,716.9 C499.3,715.7 501,715 501.5,713.7 C501.9,712.4 500.8,710.3 501.2,708.9 C501.6,707.6 503.3,706.8 504,705.6 C504.8,704.5 505.3,703.2 505.7,701.8 C506,700.3 506.2,698.6 506.3,697 C506.3,695.5 505.9,693.9 505.8,692.3 C505.6,690.8 504.8,688.7 505.2,687.6 C505.7,686.6 507.3,687 508.6,686 C509.8,685.1 511,682.8 512.7,681.7 C514.3,680.7 516.7,680.5 518.3,680 C520,679.5 521,679.1 522.4,678.8 C523.8,678.6 525.2,678.4 526.6,678.5 C528.1,678.6 529.7,679.7 531.1,679.4 C532.4,679.2 533.6,677.8 534.9,677 C536.2,676.2 537.8,675.6 538.9,674.6 C540,673.5 540.7,672.2 541.5,670.9 C542.2,669.5 542.2,667.5 543.4,666.5 C544.5,665.5 547.2,665.9 548.3,664.9 C549.5,663.9 550.1,661.9 550.1,660.4 C550.1,659 548.8,657.7 548.5,656.2 C548.2,654.8 548.6,653.3 548.3,651.9 C548.1,650.4 547.1,649.1 547,647.6 C547,646.2 547.6,644.7 547.8,643.1 C548,641.5 547.9,639.8 548.1,638.2 C548.3,636.6 548.8,634.9 548.9,633.3 C549,631.7 548.7,630 548.5,628.4 C548.3,626.8 547.9,625.1 547.6,623.5 C547.4,621.9 547.3,620.2 546.7,618.8 C546.2,617.3 545,616.1 544.2,614.8 C543.5,613.4 542.8,612 542,610.7 C541.2,609.4 540.5,607.8 539.4,606.8 C538.3,605.8 536.3,606 535.4,604.8 C534.4,603.7 534.5,601.2 533.7,599.9 C532.9,598.7 531.6,597.9 530.4,597.1 C529.1,596.3 527.7,595.9 526.3,595.2 C525,594.6 523.6,594 522.3,593.2 C521,592.4 520,590.9 518.7,590.4 C517.4,589.8 515.9,590.1 514.5,589.9 C513.1,589.6 511.8,589 510.4,589 C509,588.9 507.9,589.4 506,589.5 C504,589.6 499.5,589.5 498.6,589.6 C497.7,589.8 499.9,591 500.6,590.4 C501.4,589.9 502.4,587.8 503.1,586.5 C503.8,585.1 504.5,583.7 504.9,582.2 C505.2,580.7 504.8,579 505.2,577.5 C505.7,576 507.1,574.9 507.3,573.4 C507.5,571.8 506.2,569.8 506.5,568.3 C506.9,566.8 508.2,565.4 509.3,564.4 C510.4,563.4 512.4,563.4 513.4,562.3 C514.4,561.2 514.3,559.1 515.2,557.9 C516.1,556.7 517.8,556.2 518.8,555.3 C519.8,554.4 520.5,553.3 521.5,552.3 C522.5,551.3 523.9,550.7 524.6,549.5 C525.2,548.4 525.1,546.7 525.5,545.3 C525.9,544 526.2,542.6 527,541.5 C527.7,540.4 529.4,539.1 529.9,538.7"/>
<path d="M456.8,771.3 C457.3,770.7 458.5,768.5 459.6,767.8 C460.8,767.1 462.5,767.2 463.9,767 C465.4,766.8 467.3,767.4 468.5,766.8 C469.7,766.2 470.5,764.5 471.3,763.3 C472.2,762.2 473.1,761.1 473.9,759.9 C474.6,758.7 474.8,756.9 475.8,755.9 C476.8,755 479.1,755 480.1,753.9 C481,752.9 480.7,750.7 481.5,749.6 C482.3,748.4 483.8,748 484.9,746.8 C485.9,745.7 487.2,744.2 487.8,742.7 C488.5,741.1 488.2,738.9 489,737.4 C489.9,736 491.5,734.8 492.8,733.7 C494,732.7 495.8,732.4 496.4,731.1 C497,729.8 495.9,727 496.5,725.7 C497.1,724.3 498.9,723.9 500,723 C501.2,722.1 502.3,721.3 503.5,720.3 C504.7,719.2 506.9,718.4 507.3,716.8 C507.7,715.2 505.5,712.4 505.8,710.8 C506.1,709.2 508.1,708.4 509.1,707.1 C510,705.8 511.4,704.4 511.5,703 C511.7,701.5 510,700 509.9,698.5 C509.7,697.1 510.4,695.5 510.6,694 C510.8,692.5 510.7,690 510.9,689.5 C511.2,689 511.3,691 512.2,690.8 C513.1,690.7 515.1,689.4 516.4,688.5 C517.8,687.6 519,685.9 520.4,685.6 C521.8,685.4 523.5,686.9 525,686.9 C526.5,687 527.9,686.9 529.2,686.1 C530.6,685.4 531.6,683 532.9,682.4 C534.3,681.8 535.9,682.9 537.3,682.5 C538.7,682.1 540.3,681.1 541.4,679.9 C542.4,678.7 542.7,677 543.4,675.5 C544,674 544.3,672.2 545.2,671 C546.2,669.7 547.8,669.1 548.9,668 C550.1,667 551,665.8 552.2,664.8 C553.3,663.7 555.5,663.2 555.9,661.9 C556.4,660.6 554.7,658.8 554.9,657.1 C555.1,655.5 557,653.6 557.2,652 C557.3,650.4 556.3,648.8 555.7,647.3 C555.2,645.7 554.4,644.1 553.8,642.6 C553.1,641.2 551.8,639.9 551.9,638.6 C551.9,637.2 553.9,635.9 554.1,634.5 C554.2,633.2 552.9,631.9 552.7,630.5 C552.4,629.2 552.3,627.8 552.5,626.5 C552.6,625.1 553.4,623.9 553.6,622.4 C553.7,621 554.1,618.9 553.2,617.7 C552.2,616.6 548.6,616.7 547.9,615.5 C547.1,614.2 548.8,611.8 548.8,610.2 C548.7,608.6 548.3,607.2 547.5,606 C546.7,604.7 545.3,603.5 543.9,602.8 C542.6,602.2 540.5,602.9 539.3,602.2 C538.2,601.5 537.7,599.9 537,598.6 C536.3,597.3 536.5,595 535.3,594.3 C534.1,593.6 531.3,595.1 530,594.5 C528.7,593.9 528.6,592 527.8,590.9 C526.9,589.7 526.3,588.3 525,587.9 C523.8,587.4 521.7,588.7 520.2,588 C518.8,587.4 517.9,584.8 516.5,584 C515.1,583.2 513.5,583.3 511.9,583.3 C510.4,583.2 508.7,583.3 507.1,583.6 C505.5,583.9 502.5,583.8 502.5,585 C502.4,586.3 505.5,590.6 506.6,591 C507.7,591.4 508.9,588.9 509.2,587.6 C509.5,586.2 508.2,584.3 508.5,582.9 C508.8,581.5 510.6,580.7 510.9,579.4 C511.3,578.1 509.7,576.2 510.4,574.9 C511.1,573.7 514.4,573.2 515.1,572 C515.8,570.7 514.2,568.8 514.5,567.4 C514.7,566.1 515.7,564.8 516.6,563.7 C517.4,562.6 518.4,561.7 519.6,560.9 C520.7,560.1 522.7,560.1 523.5,559.1 C524.2,558 523.2,555.5 524.1,554.6 C525.1,553.6 528.3,554.1 529.3,553.1 C530.3,552.1 529.8,550.1 530.1,548.7 C530.5,547.3 530.6,545.7 531.4,544.6 C532.2,543.5 534.3,542.4 534.9,542"/>
<path d="M528.4,528.4 C529.2,528.4 531.5,528.1 533,528.4 C534.5,528.7 536.1,529.4 537.2,530.3 C538.3,531.2 538.9,532.7 539.8,534 C540.6,535.2 541.4,536.5 542.3,537.7 C543.3,538.8 544.2,540.3 545.4,541 C546.6,541.6 548.2,541.3 549.5,541.5 C550.9,541.8 552.3,541.8 553.6,542.4 C554.8,543 555.8,544.7 557,545.3 C558.3,545.9 559.8,545.7 561.1,546 C562.5,546.2 563.7,546.7 565.2,546.8 C566.7,546.9 568.7,546.4 570.3,546.7 C572,547 573.5,548.2 575.2,548.6 C576.8,549 578.7,548.5 580.2,549.2 C581.7,549.9 582.6,551.7 584,552.7 C585.4,553.8 587.7,554.1 588.5,555.3 C589.3,556.6 588.5,558.5 588.8,560 C589.2,561.6 590,563.1 590.4,564.5 C590.8,565.9 590.8,567.3 591.1,568.6 C591.4,569.9 591.7,571.2 592.3,572.4 C592.9,573.6 593.8,574.7 594.6,575.8 C595.3,577 595.8,578.2 596.6,579.3 C597.5,580.5 598.4,582.1 599.6,582.8 C600.8,583.6 602.6,583.4 604.1,583.9 C605.5,584.3 606.9,584.8 608.1,585.6 C609.4,586.3 610,587.5 611.5,588.5 C612.9,589.4 614.9,590.7 616.8,591.1 C618.7,591.6 621.8,591.3 622.8,591.4"/>
<path d="M526.9,534.3 C528.1,534.4 532.1,534.4 533.7,535.2 C535.3,535.9 535.8,537.4 536.8,538.7 C537.7,539.9 538.4,541.3 539.4,542.5 C540.3,543.8 541,545.5 542.3,546.1 C543.6,546.8 545.6,545.7 546.9,546.3 C548.3,546.9 549.2,549.2 550.6,549.7 C552.1,550.1 554.1,548.6 555.5,549 C557,549.4 557.9,551.5 559.3,552.2 C560.7,552.8 562.3,552.5 563.8,552.7 C565.4,552.8 567.1,552.6 568.6,552.9 C570.2,553.3 571.6,554.4 573.2,554.7 C574.7,555 576.2,554.1 578,554.8 C579.7,555.5 582.5,556.9 583.6,558.8 C584.7,560.8 584.4,564.4 584.7,566.4 C585.1,568.4 584.7,569.7 585.6,571 C586.5,572.3 589.5,572.7 590,574.1 C590.5,575.6 588.4,578.2 588.8,579.7 C589.1,581.2 590.8,582.6 592.1,583.3 C593.4,584 595.4,583.1 596.4,584 C597.4,584.9 597,588.1 598.1,588.8 C599.2,589.5 602,587.6 603.1,588.3 C604.3,589 603.9,592 604.9,593 C605.9,593.9 607.7,593.5 609,593.9 C610.4,594.3 611.7,594.9 613.1,595.3 C614.4,595.7 615.8,596.1 617.1,596.5 C618.5,596.8 620.6,597.1 621.3,597.2"/>
<path d="M99.4,358.1 C100.3,357.9 103.3,357.2 104.9,356.8 C106.5,356.3 107.3,355.5 108.7,355.5 C110.2,355.6 111.9,356.7 113.5,357.1 C115.1,357.5 116.7,357.5 118.4,358 C120,358.4 121.9,359.1 123.6,359.9 C125.2,360.7 127,361.8 128.2,362.9 C129.4,363.9 129.8,365.3 130.8,366.3 C131.8,367.3 133.2,368 134.2,368.9 C135.2,369.9 135.8,371.1 136.7,372.1 C137.5,373.2 138.4,374.1 139.2,375.2 C140,376.3 140.6,377.5 141.5,378.5 C142.3,379.6 143.9,380.2 144.5,381.4 C145.2,382.5 144.5,384.6 145.3,385.6 C146.1,386.5 148.1,386.4 149.5,387 C150.8,387.6 152.1,388.3 153.3,389.1 C154.6,390 155.7,391.2 157,392.1 C158.3,393 159.8,393.8 161.1,394.4 C162.5,395 164,395.2 165.2,395.9 C166.4,396.7 167.3,397.6 168.3,398.9 C169.3,400.2 170.3,402 171.1,403.6 C171.9,405.3 172.3,406.9 173.1,408.7 C173.8,410.5 174.3,413.1 175.4,414.3 C176.6,415.5 178.5,415.2 179.8,416 C181,416.7 182,418.1 183.1,419.1 C184.2,420.1 185.2,421.3 186.4,422.1 C187.6,422.9 189.5,422.9 190.5,423.9 C191.5,424.8 191.8,426.6 192.5,427.9 C193.3,429.1 194,430.4 195,431.6 C196,432.7 197.4,433.3 198.4,434.5 C199.4,435.7 199.9,437.6 201.1,438.8 C202.3,439.9 204.1,440.6 205.5,441.2 C206.9,441.9 208,442.4 209.3,442.9 C210.5,443.4 211.8,444.1 213.1,444.4 C214.4,444.6 215.5,444 217.3,444.3 C219.1,444.7 222.2,445.6 224.1,446.4 C226,447.2 227.5,447.9 228.7,449.1 C229.8,450.3 230.2,452.2 231.2,453.6 C232.3,455.1 233.8,456.2 234.9,457.6 C236,459 236.7,461.8 237.8,462.1 C239,462.4 240.4,460 241.9,459.3 C243.3,458.6 244.6,458.4 246.6,457.8 C248.6,457.3 251.9,456.3 253.9,456.1 C256,456 257.4,456.5 259,457 C260.5,457.5 262.1,458.7 263.5,459.3 C264.9,459.8 266.1,460 267.4,460.4 C268.6,460.9 269.8,461.7 271,462.2 C272.3,462.8 273.5,463.6 274.8,463.7 C276.1,463.7 277.8,463.2 279.1,462.5 C280.3,461.8 281,459.9 282.3,459.5 C283.6,459.2 285.5,459.6 286.7,460.4 C287.9,461.3 288.7,463.1 289.5,464.6 C290.3,466 290.5,467.9 291.3,469.2 C292.1,470.5 293.5,471.1 294.2,472.3 C294.9,473.5 294.7,475.5 295.5,476.6 C296.2,477.8 297.8,478.2 298.9,479.3 C300,480.3 301,481.6 301.8,482.9 C302.6,484.2 303.2,485.5 303.5,487 C303.8,488.4 303.2,490.4 303.8,491.6 C304.4,492.9 306.4,493.3 306.9,494.6 C307.4,495.8 306.3,497.9 306.7,499.2 C307.1,500.5 307.9,502 309.3,502.4 C310.7,502.7 313.3,501.8 315.2,501.2 C317,500.5 318.9,499.2 320.5,498.5 C322.1,497.8 323.6,496.7 324.8,497.1 C326,497.4 326.6,499.5 327.6,500.6 C328.7,501.8 329.8,503 331,503.8 C332.1,504.6 334.4,504.3 334.7,505.5 C335,506.6 333.8,509 333,510.6 C332.2,512.1 329.6,513.8 329.7,514.9 C329.9,515.9 332.5,516.5 334,516.7 C335.5,516.9 337.3,515.8 338.8,516.1 C340.3,516.3 341.4,518 343,518.2 C344.6,518.5 346.9,518.2 348.7,517.7 C350.6,517.2 352.3,516.3 354.1,515.5 C355.9,514.7 358.3,512.9 359.5,513 C360.8,513.1 361,514.6 361.5,516.1 C362.1,517.5 361.9,520.1 362.7,521.8 C363.5,523.5 365.6,524.7 366.6,526.2 C367.5,527.6 367.5,529.1 368.3,530.3 C369.1,531.5 370.6,532.3 371.5,533.5 C372.4,534.6 373.3,536 373.6,537.4 C374,538.8 373.8,540.3 373.7,541.9 C373.7,543.5 373.6,545.4 373.3,547 C372.9,548.7 371.2,550.7 371.6,551.9 C372.1,553.2 374.9,553.5 376.1,554.7 C377.3,556 377.7,558.3 379,559.4 C380.3,560.6 382.2,560.8 383.9,561.7 C385.5,562.7 387,564.1 388.7,564.9 C390.4,565.8 392.6,566.1 394.1,566.9 C395.7,567.6 396.7,568.7 397.9,569.6 C399.1,570.6 400,572.6 401.3,572.8 C402.5,573.1 404,571.8 405.4,571.3 C406.8,570.8 408.1,569.9 409.5,569.7 C410.9,569.5 412.6,570.2 414,570.1 C415.4,569.9 416.8,569.4 418.1,568.7 C419.4,568.1 420.5,566.1 421.6,566.2 C422.7,566.3 423.8,568.1 424.6,569.2 C425.5,570.4 425.9,571.8 426.5,573.1 C427.1,574.4 427.4,575.7 428,577 C428.6,578.2 429.4,579.3 430,580.5 C430.7,581.7 431.2,583 431.9,584.2 C432.5,585.4 433.5,586.4 433.9,587.8 C434.2,589.2 433.2,591.3 433.8,592.7 C434.4,594.2 436.9,595.1 437.7,596.5 C438.5,597.9 438.5,599.5 438.7,601.1 C438.9,602.7 438.8,604.5 439,605.9 C439.3,607.3 439.5,608.6 440.3,609.7 C441.1,610.9 443.2,611.4 443.5,612.7 C443.9,614 442.2,616.2 442.7,617.5 C443.1,618.7 445.7,619.1 446.5,620.2 C447.2,621.4 446.8,622.9 446.9,624.4 C447.1,625.9 447,627.9 447.5,629.5 C448,631 449.4,632.2 450.1,633.7 C450.8,635.1 451.1,636.8 451.8,638.2 C452.6,639.7 453.8,641.1 454.6,642.4 C455.5,643.6 456.2,644.8 456.9,646 C457.5,647.3 458.3,648.5 458.3,649.9 C458.3,651.4 456.7,653.3 457,654.7 C457.3,656.1 459.3,656.9 460,658.1 C460.6,659.4 461,660.7 460.9,662.2 C460.8,663.7 459.3,665.4 459.2,667 C459.1,668.6 460.6,670.5 460.2,672 C459.7,673.5 458,675.1 456.6,676.1 C455.1,677.1 453,677.4 451.5,678 C450,678.6 449,679.3 447.7,679.9 C446.4,680.5 445.1,681 443.8,681.7 C442.6,682.3 441.1,682.9 440.2,683.9 C439.2,684.9 438.5,686.1 438.1,687.4 C437.8,688.7 438.4,690.4 438.1,691.7 C437.7,693 436.1,694 436.1,695.2 C436.1,696.5 437.5,698 438,699.4 C438.5,700.9 439.5,702.8 439,703.9 C438.6,705 436.3,705.1 435.1,705.9 C433.9,706.7 432.8,707.5 431.9,708.6 C431,709.7 430.1,711.9 429.8,712.5"/>
<path d="M100.9,363.9 C101.8,363.7 105.1,363 106.4,362.6 C107.6,362.2 107.2,361.7 108.3,361.5 C109.3,361.3 111.2,361.1 112.5,361.4 C113.9,361.8 115.1,362.6 116.3,363.6 C117.5,364.5 118.3,366.5 119.8,367.2 C121.2,367.9 123.1,366.8 124.8,367.8 C126.5,368.7 128.2,371.2 129.7,373 C131.3,374.7 133,377 134.2,378.5 C135.4,380 136.4,380.7 137,382 C137.6,383.4 137.2,385.3 137.8,386.6 C138.5,387.9 139.7,389 141.1,389.8 C142.5,390.6 144.6,390.6 146.1,391.3 C147.7,392.1 149.1,393.5 150.4,394.4 C151.8,395.3 153,395.9 154.3,396.7 C155.5,397.5 156.3,398.4 157.8,399.4 C159.4,400.4 162.6,401.4 163.7,402.8 C164.8,404.1 163.8,406.1 164.4,407.5 C165.1,409 167,409.9 167.6,411.2 C168.2,412.5 167.4,414.3 168,415.6 C168.6,416.8 170.1,417.4 171.2,418.5 C172.3,419.7 173.3,421.6 174.8,422.6 C176.2,423.5 178,423.2 179.9,424.2 C181.8,425.1 184.7,426.9 186.3,428.1 C187.8,429.3 188,430.4 189,431.4 C190,432.4 191.5,433.1 192.3,434.2 C193.1,435.4 193.1,437.2 193.8,438.3 C194.5,439.5 195.5,440.5 196.6,441.3 C197.8,442 199.8,441.8 200.8,442.7 C201.9,443.6 201.7,446 202.8,446.6 C203.9,447.2 206.1,445.9 207.5,446.2 C209,446.4 210.3,447.4 211.6,448 C213,448.7 214.1,449.5 215.7,450.1 C217.2,450.7 219.5,450.6 220.8,451.4 C222.1,452.2 222.4,453.7 223.4,454.7 C224.3,455.7 225.6,456.3 226.6,457.4 C227.6,458.5 228.2,460.2 229.3,461.4 C230.4,462.5 231.9,463.3 233.1,464.3 C234.2,465.4 234.9,467.5 236.2,467.9 C237.4,468.3 239.2,467.3 240.6,466.8 C241.9,466.2 243.1,465.2 244.5,464.6 C245.9,464 247.4,463.8 248.9,463.4 C250.4,463 252.2,461.9 253.5,462.1 C254.9,462.4 255.7,464.5 257,465 C258.3,465.4 259.9,464.7 261.4,464.9 C262.9,465.1 264.5,465.8 265.9,466.4 C267.4,466.9 268.8,467.7 270.3,468.3 C271.8,468.8 273.4,469.9 274.8,469.7 C276.2,469.4 277.2,467.4 278.5,466.7 C279.9,466 282.4,465.8 283.1,465.5 C283.8,465.2 282.5,464.4 282.8,465 C283.1,465.5 284.3,467.3 284.9,468.6 C285.5,469.8 285.8,471.2 286.3,472.5 C286.8,473.8 287.1,475.2 288,476.3 C288.8,477.4 290.2,478 291.2,479 C292.1,480 292.9,481.1 293.7,482.2 C294.5,483.3 295.3,484.5 295.9,485.7 C296.6,487 297.4,488.1 297.8,489.5 C298.1,490.8 298,492.3 298.2,493.7 C298.4,495.2 298.3,497 299,498.2 C299.8,499.3 301.8,499.8 302.9,500.7 C304,501.7 304.8,502.9 305.5,504.1 C306.2,505.3 306.1,507.5 307.2,508 C308.4,508.4 310.6,507 312.3,506.7 C314,506.4 315.8,506.6 317.5,506.2 C319.2,505.8 321.5,504.8 322.4,504.2 C323.2,503.6 321.7,502 322.5,502.6 C323.2,503.3 325.7,507.6 326.7,508.1 C327.8,508.5 328.6,505.3 328.7,505.5 C328.8,505.7 327.6,508 327.2,509.3 C326.8,510.6 326.9,512.1 326.4,513.3 C325.9,514.6 323.8,516 324.1,516.8 C324.4,517.5 326.8,517.5 328.2,517.7 C329.6,518 331.2,517.6 332.5,518.3 C333.8,518.9 334.6,520.7 335.8,521.5 C337,522.2 338.5,522.4 339.8,522.9 C341.1,523.3 342.5,523.9 343.8,524.2 C345.2,524.4 346.8,524.9 348.1,524.4 C349.4,524 350.3,521.9 351.5,521.3 C352.8,520.8 354.6,521.7 355.7,521.3 C356.9,520.8 358.2,519.2 358.3,518.9 C358.5,518.6 356.3,518.6 356.5,519.4 C356.8,520.2 359.3,522.1 360.1,523.7 C360.9,525.3 360.9,527.5 361.4,529.1 C361.8,530.7 361.7,532.2 362.5,533.3 C363.3,534.4 365.1,534.4 366,535.8 C366.9,537.3 367.7,540.2 367.7,541.9 C367.7,543.6 366.2,544.6 366.2,546 C366.2,547.4 367.8,549.1 367.8,550.5 C367.8,551.9 365.9,553.4 366.3,554.6 C366.6,555.8 368.5,556.9 369.8,557.7 C371.2,558.6 373.3,558.5 374.4,559.6 C375.5,560.7 375.6,563.1 376.6,564.3 C377.6,565.5 379.2,566 380.7,566.8 C382.2,567.6 384.1,568.4 385.8,569.3 C387.5,570.1 389,571 390.8,571.8 C392.6,572.7 394.8,573 396.4,574.1 C398,575.3 398.7,577.8 400.3,578.7 C401.9,579.7 404.1,579.7 405.8,579.5 C407.5,579.3 409.1,578 410.8,577.4 C412.4,576.8 414.3,576.7 415.8,575.8 C417.3,574.9 419,571.9 420,572 C420.9,572.1 421.1,574.7 421.4,576.3 C421.8,577.9 421.2,580.2 422.1,581.6 C423,583.1 425.6,583.7 426.6,585.1 C427.6,586.5 428,588.3 428.3,590 C428.5,591.6 427.7,593.4 428,594.9 C428.4,596.4 429.6,597.7 430.4,599.1 C431.2,600.4 432.4,601.7 432.9,603.2 C433.4,604.7 433.1,606.5 433.4,607.9 C433.7,609.4 434.3,610.5 434.7,611.8 C435.2,613.1 435.3,614.5 436.1,615.6 C437,616.8 439.2,617.3 439.6,618.6 C440.1,619.9 438.5,622.1 438.8,623.4 C439.1,624.8 440.6,625.5 441.4,626.8 C442.2,628 443.3,629.4 443.7,631 C444.1,632.6 443.3,634.7 443.6,636.3 C444,637.8 445.1,639.1 446,640.5 C446.9,641.8 448.5,642.9 449,644.4 C449.5,645.9 448.5,648 448.9,649.6 C449.3,651.2 450.4,652.5 451.3,654 C452.2,655.4 453.7,656.7 454.3,658.2 C454.9,659.7 454.9,661.3 455,663.1 C455.1,664.9 456.1,667.4 455,669 C453.8,670.7 450.2,672.1 448.3,672.9 C446.4,673.7 444.7,672.8 443.4,673.7 C442,674.5 441.6,677 440.4,678 C439.1,679 437.1,678.8 436,679.7 C434.9,680.6 434.3,682 433.8,683.3 C433.2,684.6 433.2,686 432.7,687.3 C432.1,688.6 431,689.7 430.6,691 C430.1,692.3 429.7,693.4 430.1,695.2 C430.6,697.1 433.5,700.2 433.4,701.8 C433.3,703.4 430.8,703.9 429.5,705 C428.1,706.1 426.2,707.7 425.5,708.3"/>
<path d="M102.6,370.7 C103.5,370.5 107.2,369.7 108.1,369.4 C108.9,369 106.7,368.3 107.7,368.5 C108.6,368.6 111.6,369.3 113.8,370.1 C116,371 119,372.3 120.8,373.5 C122.6,374.8 123.3,376.2 124.5,377.6 C125.8,379.1 127.1,381.1 128.4,382.4 C129.8,383.7 131.5,384.3 132.7,385.5 C133.9,386.6 134.9,387.9 135.5,389.4 C136.1,391 135.3,393.7 136.1,394.7 C137,395.8 139.4,394.6 140.4,395.5 C141.5,396.4 141.5,399.4 142.6,400.2 C143.7,401.1 145.6,400.3 147.1,400.6 C148.5,400.8 150.1,401 151.3,401.8 C152.4,402.5 152.8,404.3 153.9,405.2 C155.1,406.1 157.1,405.7 158.3,407.2 C159.5,408.7 160.5,412.1 161.2,414.1 C162,416.1 162,417.7 162.8,419.3 C163.7,420.9 165,422.1 166.3,423.5 C167.5,424.9 168.9,426.7 170.5,427.8 C172.2,428.9 174.4,429.2 176.2,430.1 C178,430.9 180.1,432 181.3,433.1 C182.6,434.1 182.7,435.4 183.7,436.3 C184.7,437.3 186.4,437.6 187.2,438.7 C188,439.8 187.8,441.4 188.4,442.8 C189.1,444.2 190.2,445.8 191.2,447.2 C192.3,448.6 193.1,450.2 194.5,451.1 C195.9,452.1 198,452.4 199.7,452.9 C201.3,453.3 202.9,453.3 204.5,453.8 C206,454.3 207.5,455.2 209,455.7 C210.5,456.2 212.4,456.6 213.7,456.8 C215.1,457.1 215.7,456.4 216.9,457.2 C218.1,458.1 219.7,460.8 221.2,461.9 C222.6,463 224.7,462.6 225.7,463.8 C226.7,465 226.3,467.5 227.2,468.8 C228,470.1 229.4,470.8 230.6,471.8 C231.8,472.8 233,474.7 234.3,474.6 C235.5,474.5 236.5,471.5 238,471.3 C239.5,471.1 241.7,473.4 243.2,473.4 C244.8,473.4 245.9,472.1 247.3,471.5 C248.7,470.9 250.5,470.3 251.5,469.9 C252.5,469.5 251.8,468.8 253.1,469.1 C254.3,469.4 257.3,471.2 259,471.5 C260.8,471.8 262.1,470.9 263.6,471 C265,471.1 266.3,471.6 267.6,472 C268.9,472.4 270.4,472.4 271.6,473.2 C272.8,474 273.4,476.2 274.8,476.7 C276.3,477.2 278.7,477.1 280.3,476.4 C281.8,475.7 284.4,473.4 284.1,472.4 C283.7,471.4 278.9,469.6 278.3,470.3 C277.7,470.9 279.7,474.4 280.4,476.3 C281.2,478.3 281.7,480.3 282.9,481.8 C284.1,483.4 286.7,484 287.5,485.6 C288.4,487.2 287.5,489.7 288.2,491.4 C288.9,493.2 290.6,494.8 291.6,496.2 C292.6,497.6 293.1,498.8 294.2,499.9 C295.3,500.9 297,501.6 298.1,502.6 C299.3,503.6 300.4,504.7 301.1,506 C301.8,507.4 301.7,509.3 302.3,510.8 C302.9,512.2 303.6,513.8 304.8,514.5 C305.9,515.2 307.7,515.4 309,515.1 C310.3,514.7 311.4,513.2 312.6,512.5 C313.8,511.8 315,511 316.4,510.8 C317.7,510.6 319.2,511.3 320.6,511.3 C321.9,511.3 324.7,511.2 324.6,510.8 C324.4,510.5 320.2,508.7 319.8,509.1 C319.3,509.4 321.4,513.6 321.8,513 C322.1,512.4 322,506 321.7,505.5 C321.4,505 320.9,508.5 320.1,509.9 C319.4,511.3 317.4,512.4 317,513.9 C316.5,515.4 316.6,518.1 317.4,519 C318.2,519.9 320.6,518.9 321.9,519.4 C323.2,519.9 324.1,521.5 325.4,522.2 C326.6,522.8 328.3,522.6 329.5,523.4 C330.7,524.2 331.2,526.6 332.6,527.1 C333.9,527.6 336.3,525.8 337.6,526.3 C338.9,526.9 339.3,529.6 340.5,530.4 C341.7,531.2 343.3,530.9 344.8,531.1 C346.3,531.3 348,531.8 349.5,531.5 C350.9,531.1 352,529.6 353.4,529 C354.7,528.4 357,528.5 357.6,528 C358.2,527.4 358.1,526.5 357,525.7 C355.8,524.9 351.4,522.9 350.7,523.3 C350,523.6 352,526.5 352.8,528 C353.5,529.6 354.1,530.9 355.3,532.6 C356.4,534.4 358.7,537 359.6,538.6 C360.5,540.1 360.9,540.5 360.7,541.9 C360.5,543.3 358.2,545.3 358.5,547.1 C358.7,548.9 361.9,550.8 362.2,552.5 C362.4,554.3 359.6,556.6 360,557.7 C360.4,558.8 363.6,558.2 364.8,559.1 C366,560 366.4,561.9 367.3,563.2 C368.1,564.5 369,565.9 370,567 C371,568.1 372.2,569 373.4,570 C374.6,570.9 375.4,572.2 377,572.8 C378.5,573.4 381.1,572.7 382.8,573.6 C384.4,574.4 385.4,576.8 386.9,577.7 C388.5,578.5 390.9,577.5 392.1,578.6 C393.3,579.8 392.9,583.4 394.1,584.5 C395.2,585.7 397.5,585.4 399.2,585.7 C400.8,585.9 402.5,586.7 404.1,586.2 C405.6,585.8 406.8,583.7 408.3,582.9 C409.8,582.1 411.3,581.8 412.9,581.7 C414.5,581.6 417,583 417.9,582.5 C418.7,582 418.5,579.1 418.1,578.7 C417.7,578.3 415.7,579.1 415.5,580 C415.3,581 416.1,583.2 416.9,584.5 C417.8,585.8 419.6,586.6 420.4,587.9 C421.2,589.3 421.2,591 421.7,592.5 C422.3,593.9 422.9,595.3 423.7,596.7 C424.5,598.1 426.4,599.2 426.3,600.8 C426.3,602.4 423.4,604.8 423.5,606.4 C423.6,608 426,609 426.8,610.3 C427.5,611.6 427.1,613.2 428,614.3 C428.9,615.4 431.2,616 432.1,617.1 C433,618.2 433.5,619.5 433.5,621.1 C433.4,622.6 431.4,625 431.7,626.4 C431.9,627.8 434.2,628.2 435,629.5 C435.7,630.8 435.4,632.7 436.2,634.1 C437,635.5 439,636.3 439.7,637.7 C440.4,639.2 439.8,641.1 440.2,642.6 C440.7,644.2 441.6,645.5 442.4,646.8 C443.3,648.2 444.4,649.4 445.2,650.7 C446,652.1 447.3,653.2 447.3,654.8 C447.3,656.4 445.1,658.7 445.3,660.3 C445.4,661.8 447.4,663.3 448,664.2 C448.6,665.1 449.4,665.1 448.8,665.6 C448.3,666.1 446,666.2 444.6,667 C443.2,667.8 441.9,669.4 440.5,670.3 C439,671.2 437.4,671.9 435.8,672.7 C434.2,673.4 432.4,673.8 431,674.7 C429.7,675.6 428.1,676.7 427.7,678.2 C427.4,679.6 429,681.8 428.8,683.3 C428.6,684.8 427.1,685.8 426.8,687.2 C426.5,688.7 427.4,690.6 426.8,692 C426.2,693.3 423.1,694 423.1,695.2 C423.1,696.5 427.3,698 426.9,699.3 C426.5,700.7 421.6,702.7 420.6,703.3"/>
<path d="M104.8,379.5 C105.7,379.2 109.9,378.4 110.2,378.1 C110.6,377.8 106.9,377.4 106.9,377.4 C107,377.5 109.2,378 110.6,378.6 C112.1,379.1 114.5,380.1 115.7,380.9 C116.9,381.8 117,382.6 117.8,383.7 C118.7,384.7 120.1,386.2 120.9,387.4 C121.8,388.6 121.9,390 122.9,391 C123.9,392 125.9,392.3 126.8,393.3 C127.8,394.3 128.2,395.7 128.7,397 C129.2,398.3 128.8,400.2 129.8,401.1 C130.8,402 133.3,401.6 134.7,402.5 C136.1,403.4 136.9,405.5 138.2,406.4 C139.5,407.4 141,407.4 142.8,408.5 C144.6,409.5 147.5,411.9 148.9,412.7 C150.4,413.5 150.7,412.1 151.4,413 C152.1,413.8 152.7,416.2 153,417.8 C153.4,419.5 152.8,421.5 153.5,422.9 C154.3,424.2 156.4,424.8 157.5,425.9 C158.5,427.1 159,428.5 159.9,429.9 C160.8,431.2 161.4,433.1 162.8,433.8 C164.2,434.5 166.7,433.5 168.1,434.2 C169.5,434.8 170.2,436.8 171.3,437.7 C172.5,438.5 173.7,438.4 174.9,439.4 C176.2,440.5 177.5,442.2 178.6,443.8 C179.7,445.3 180.6,447.1 181.5,448.6 C182.4,450.1 183.2,451.4 184.1,452.7 C185.1,454 185.8,455.6 187.3,456.2 C188.8,456.9 192,455.6 193.4,456.4 C194.8,457.2 194.6,460.2 195.7,460.9 C196.7,461.7 198.5,460.9 199.9,461 C201.3,461 202.7,461 204,461.3 C205.3,461.6 206.6,462.1 207.8,462.8 C209,463.5 210.6,465.2 211.3,465.5 C211.9,465.8 211.4,464.4 211.9,464.7 C212.4,465.1 213.3,466.5 214.2,467.6 C215.1,468.7 215.8,470.5 217.2,471.3 C218.6,472.1 221.4,471.3 222.5,472.4 C223.6,473.5 223.2,476.3 224,477.9 C224.7,479.4 225.7,480.6 227,481.5 C228.3,482.4 230.1,482.7 231.8,483.3 C233.5,483.8 235.4,485 237,484.8 C238.5,484.6 239.8,482.8 241.2,482.1 C242.7,481.4 244.3,481.2 245.7,480.6 C247.2,479.9 248.5,478.5 250.1,478.1 C251.6,477.8 254.5,478.2 254.9,478.2 C255.3,478.2 252.3,477.8 252.5,478.1 C252.6,478.4 254.6,479.2 255.9,479.9 C257.2,480.6 258.7,482 260.3,482.3 C262,482.7 263.9,482 265.6,482.1 C267.3,482.2 268.9,482.5 270.4,483.1 C272,483.7 273.2,485.6 274.8,485.7 C276.4,485.7 278.2,484.1 280,483.4 C281.7,482.6 285.2,481.5 285.3,481.3 C285.3,481.1 281.8,482.2 280.3,482.1 C278.7,482 277.2,481.7 275.9,480.9 C274.6,480.1 272.9,477 272.4,477.1 C271.9,477.2 271.9,480.1 272.9,481.3 C273.9,482.5 277,482.8 278.1,484.2 C279.2,485.7 279.4,488.1 279.7,490 C280,491.8 279.3,493.7 279.9,495.2 C280.5,496.8 282.5,497.9 283.2,499.4 C283.9,500.8 283.1,503.1 284,504.2 C284.8,505.3 287.6,505 288.6,506 C289.6,507 289.3,509.1 289.9,510.4 C290.6,511.6 291.6,512.7 292.7,513.6 C293.8,514.6 295.9,514.7 296.7,515.9 C297.6,517.1 296.8,519.4 297.6,520.6 C298.5,521.8 300.3,522.9 301.6,523 C302.9,523 304.3,521.2 305.7,521.1 C307.2,521 308.8,522.3 310.3,522.3 C311.7,522.3 313.1,521.5 314.5,521.2 C315.9,520.9 317.4,520.8 318.8,520.5 C320.2,520.3 321.7,520 323.1,519.8 C324.5,519.6 327.6,519.8 327.4,519.4 C327.2,519 323.9,517.9 322,517.6 C320.2,517.2 317.4,517.1 316.3,517.4 C315.2,517.7 315.6,519.8 315.4,519.4 C315.2,518.9 315.5,516.2 315,514.6 C314.6,513.1 313.2,511.8 312.8,510.3 C312.4,508.7 313.3,505.7 312.7,505.5 C312.1,505.3 309.9,507.7 309.4,509 C308.9,510.3 309.2,511.8 309.6,513.4 C310,514.9 311.9,516.8 311.8,518.2 C311.7,519.6 308.8,520.7 308.9,521.8 C308.9,522.9 310.9,524 312.1,524.6 C313.4,525.2 315.2,524.6 316.3,525.4 C317.5,526.2 317.7,529 318.9,529.6 C320.1,530.3 322.2,529.3 323.8,529.1 C325.4,529 327.4,528 328.5,528.9 C329.6,529.7 329.5,533.1 330.5,534.3 C331.4,535.4 333.2,535 334.4,535.7 C335.6,536.4 336.3,538 337.7,538.4 C339,538.9 340.9,538.2 342.3,538.4 C343.7,538.7 344.6,539.7 346.1,540 C347.6,540.3 349.6,540.7 351.1,540.4 C352.7,540.1 354.1,539 355.6,538.4 C357.1,537.8 360.2,537.3 360.1,536.6 C360,536 356.7,535.1 355.2,534.6 C353.7,534 352.4,533.4 350.9,533.1 C349.3,532.8 347.3,533.5 346,532.7 C344.7,531.8 343.2,528.3 343.2,528.3 C343.2,528.2 345.4,530.8 346.1,532.3 C346.8,533.8 346.6,535.4 347.5,537.1 C348.3,538.7 350.6,541.3 351.3,542.1 C352,542.9 351.7,541.1 351.7,541.9 C351.7,542.7 351.2,545.2 351.3,546.9 C351.3,548.5 352,550.2 351.9,551.8 C351.9,553.5 351.2,555.1 351.2,556.8 C351.2,558.5 351.4,560.3 352,561.8 C352.6,563.2 353.5,564.6 354.7,565.5 C356,566.4 358.4,566.1 359.5,567.1 C360.6,568.1 360.7,570.3 361.5,571.7 C362.3,573.1 363.2,574.4 364.2,575.5 C365.2,576.7 366.5,577.6 367.8,578.4 C369.1,579.2 370.8,579.4 372.2,580.4 C373.6,581.4 374.6,583.6 376.3,584.4 C377.9,585.2 380.2,584.9 381.9,585.2 C383.7,585.5 385.5,585.2 386.7,586.1 C387.9,587.1 387.9,590.1 389.1,591 C390.3,591.9 392.6,591.1 394,591.7 C395.4,592.3 396.4,594.5 397.7,594.5 C399,594.5 400.4,592.2 401.9,591.7 C403.4,591.2 405,591.6 406.6,591.6 C408.1,591.5 409.7,591.2 411.3,591.5 C412.9,591.8 414.7,593.3 416.2,593.3 C417.8,593.2 420.7,592 420.6,591.1 C420.5,590.1 417.2,587.8 415.6,587.4 C414,587 412.2,589.1 411,588.6 C409.7,588.2 407.9,585 407.9,584.9 C408,584.7 410.6,586.5 411.2,587.7 C411.8,589 411.1,590.8 411.5,592.1 C411.8,593.4 412.8,594.4 413.3,595.7 C413.9,597 414,598.7 414.8,600 C415.6,601.4 417.4,602.5 418.2,603.8 C419,605.2 419.3,606.7 419.3,608.3 C419.4,609.8 418.5,611.7 418.3,613.3 C418.1,614.9 417.9,616.6 418.1,618 C418.3,619.5 418.9,620.8 419.6,622.1 C420.3,623.3 421.2,624.5 422.3,625.6 C423.4,626.7 425.6,627.3 426.4,628.5 C427.1,629.8 426.6,631.5 426.7,633.1 C426.9,634.6 426.8,636.3 427.3,637.8 C427.7,639.3 428.4,640.7 429.3,642 C430.2,643.2 431.9,644.2 432.6,645.5 C433.4,646.8 433.4,648.6 434,649.9 C434.6,651.3 436,652.1 436.3,653.5 C436.6,654.8 435.4,656.7 435.8,658 C436.1,659.3 437.9,660.2 438.5,661.4 C439.1,662.7 438.7,665.6 439.2,665.5 C439.6,665.5 440.9,662.2 441,661.2 C441.1,660.2 440.6,659.2 439.8,659.3 C439,659.5 437.3,660.8 436.2,661.8 C435.1,662.8 434.4,664.6 433.2,665.5 C432.1,666.4 430.6,666.8 429.1,667.3 C427.7,667.8 425.7,667.5 424.6,668.4 C423.6,669.2 423.5,670.9 423,672.2 C422.6,673.5 422.4,674.9 421.9,676.1 C421.4,677.4 420.3,678.5 420,679.8 C419.8,681.2 421,683.2 420.4,684.4 C419.9,685.7 417,686 416.6,687.3 C416.1,688.6 418,690.9 417.6,692.2 C417.2,693.5 414,694.6 414.1,695.2 C414.3,695.9 418.4,695.9 418.4,696.2 C418.5,696.5 414.9,696.8 414.2,697"/>
<path d="M107.4,390.1 C108.3,389.9 113.1,389.1 112.9,388.8 C112.7,388.5 107,388.4 106,388.4 C105,388.4 106.2,388.6 106.8,388.9 C107.3,389.1 109,389.6 109.4,390 C109.9,390.4 109.3,390.4 109.7,391 C110.1,391.6 111.3,392.3 111.8,393.5 C112.2,394.8 111.4,397.5 112.5,398.6 C113.6,399.7 116.7,399.5 118.3,400.3 C119.9,401.1 121.3,402 121.9,403.4 C122.5,404.8 121.3,407.7 122,408.9 C122.7,410.1 125.1,409.6 126.1,410.8 C127.1,412.1 126.6,415.8 128.1,416.3 C129.5,416.8 133.3,413.4 134.9,413.7 C136.4,414 136.2,416.8 137.5,418.1 C138.8,419.5 141.9,421.5 142.8,421.9 C143.7,422.2 142.9,419.9 142.9,420 C143,420.1 142.7,421.3 143,422.4 C143.4,423.4 144.3,425.1 145,426.4 C145.7,427.7 146.3,429.1 147.4,430.1 C148.4,431.2 150.7,431.6 151.5,432.9 C152.3,434.1 151.3,436.6 152.1,437.6 C152.9,438.7 154.9,438.4 156.1,438.9 C157.4,439.5 158.7,440 159.5,441.2 C160.4,442.4 160.1,445 161.1,446 C162.1,446.9 164.4,446.7 165.4,446.9 C166.4,447.1 166.5,446.4 167.2,447.2 C167.8,448 168.5,450.5 169.4,451.9 C170.4,453.3 172,454.3 173.1,455.6 C174.1,457 174.5,458.7 175.6,459.9 C176.6,461.1 177.7,462.1 179.2,462.7 C180.7,463.3 183.6,462.4 184.6,463.6 C185.7,464.7 184.6,468.4 185.6,469.6 C186.6,470.8 189.2,470.3 190.7,470.8 C192.3,471.3 193.5,472 195,472.6 C196.4,473.1 197.7,474 199.3,474.1 C200.8,474.2 202.8,472.8 204.3,473.1 C205.8,473.5 208,475.9 208.2,476.1 C208.5,476.2 206.2,474.1 205.8,473.9 C205.4,473.6 205,474.1 205.7,474.5 C206.4,474.9 209.1,475 209.8,476.3 C210.6,477.6 209.7,480.9 210.4,482.3 C211.2,483.6 213.2,483.4 214.3,484.3 C215.4,485.2 215.5,487.3 217,487.8 C218.5,488.2 221.6,486.8 223.3,487 C224.9,487.3 226.2,487.9 227.2,489.1 C228.1,490.2 227.7,492.7 228.8,493.8 C229.9,495 232.1,495.7 233.6,496 C235.2,496.3 236.6,496.1 238,495.7 C239.5,495.2 240.8,494.3 242.1,493.5 C243.5,492.7 244.7,491.4 246.1,490.9 C247.5,490.4 249.2,491.2 250.5,490.5 C251.9,489.7 252.8,486.8 254.3,486.4 C255.7,486.1 259.5,487.9 259.1,488.4 C258.7,488.8 252.9,488.8 251.7,489.1 C250.6,489.4 251.2,490.2 252.1,490.2 C253.1,490.3 255.8,488.9 257.2,489.6 C258.6,490.4 259.1,494.5 260.7,494.8 C262.2,495 265,491.1 266.6,491.1 C268.2,491.2 269,494.1 270.4,495 C271.8,495.9 273.3,496.4 274.8,496.7 C276.3,497 278,497.1 279.3,496.7 C280.7,496.3 281.8,495.2 283,494.4 C284.3,493.7 287,492.3 286.7,492.2 C286.5,492.2 283,494 281.4,494 C279.9,494 278.5,493.3 277.3,492.2 C276,491.2 275.4,488.2 274,487.6 C272.6,487.1 270.4,489.2 268.9,488.8 C267.4,488.4 266.1,485.7 265.2,485.4 C264.4,485.2 263.6,486.2 263.7,487.3 C263.8,488.4 264.8,490.8 265.9,492.1 C267,493.4 269.1,494.1 270.1,495.3 C271,496.5 271.2,497.9 271.7,499.2 C272.1,500.5 272.3,501.9 272.9,503.2 C273.5,504.5 273.9,506.1 275,507.1 C276.1,508 278.4,508.1 279.6,508.9 C280.8,509.8 281.8,510.8 282.2,512.4 C282.5,514 281.3,516.9 281.7,518.4 C282.1,520 283.6,520.6 284.5,521.7 C285.5,522.8 286,524.2 287.4,524.9 C288.8,525.6 291.6,525.2 293,525.9 C294.5,526.6 295.3,527.8 296,529 C296.8,530.3 296.7,532.3 297.7,533.3 C298.7,534.2 300.7,534.7 302.1,534.9 C303.5,535.1 304.9,534.8 306.2,534.4 C307.6,533.9 308.8,532.5 310.2,532.4 C311.6,532.4 313.3,534.8 314.6,534.1 C315.9,533.4 316.8,529 318.2,528.4 C319.5,527.9 321.2,530.8 322.6,530.7 C324,530.7 325.1,528.1 326.5,528 C327.9,527.8 330.9,529.7 330.9,529.8 C330.9,530 327.9,528.5 326.2,528.8 C324.6,529.1 322.7,531.5 321.1,531.6 C319.5,531.7 318.1,530.1 316.6,529.4 C315.1,528.8 313.6,527.9 312.1,527.5 C310.6,527.2 308.4,528 307.6,527.1 C306.8,526.3 307.7,524 307.3,522.6 C306.9,521.1 305.5,520 305.5,518.4 C305.5,516.8 307.7,514.7 307.4,513.2 C307.2,511.7 305,510.8 304.1,509.5 C303.1,508.2 302.3,505.5 301.7,505.5 C301,505.4 300.6,508 300.1,509.3 C299.6,510.6 299.3,511.9 298.7,513.1 C298.2,514.4 297.2,515.6 296.8,516.9 C296.5,518.2 296.4,519.5 296.7,520.9 C296.9,522.3 297.6,524 298.4,525.3 C299.3,526.6 300.2,528.1 301.6,528.6 C302.9,529 305.3,527.5 306.6,528.1 C307.9,528.6 308.3,530.9 309.5,531.8 C310.6,532.8 312.3,532.6 313.4,533.6 C314.5,534.5 314.8,536.9 316.2,537.4 C317.6,537.8 320,536.2 321.7,536.2 C323.3,536.1 324.7,536.5 325.9,537.2 C327.1,538 327.9,539.7 329,540.6 C330.1,541.6 331.2,542.4 332.5,543 C333.8,543.7 335.3,543.8 336.7,544.3 C338.1,544.7 339.6,544.9 340.8,545.6 C342,546.3 342.9,547.7 344.1,548.6 C345.2,549.4 346.3,551 347.7,550.9 C349.1,550.8 350.7,548.2 352.4,547.9 C354.2,547.6 356.3,549.2 358.1,549.1 C359.9,549 363.2,547.3 363.1,547.2 C363.1,547.1 359.4,548.7 357.7,548.4 C356,548.1 354.7,545.8 353,545.3 C351.4,544.9 348.6,547.1 347.7,545.9 C346.7,544.7 348,539.5 347.1,538 C346.3,536.6 344,537.6 342.5,537.4 C340.9,537.2 339,537.5 337.6,537 C336.2,536.5 334.6,534 334.1,534.4 C333.5,534.7 333.8,537.8 334.4,539.2 C335,540.6 336.8,541.3 337.9,542.5 C339,543.7 340.7,546.6 341.2,546.5 C341.6,546.3 340.9,542 340.7,541.9 C340.5,541.8 339.5,544.7 340,546.1 C340.5,547.4 343.3,548.7 343.8,550 C344.4,551.4 343.6,552.8 343.3,554.2 C343,555.6 342.2,557 341.9,558.4 C341.6,559.8 341.6,561.2 341.7,562.6 C341.7,563.9 341.4,565.6 342.1,566.7 C342.8,567.7 344.8,567.9 345.9,568.8 C347,569.7 347.6,571 348.7,571.9 C349.8,572.8 351.1,573.4 352.3,574.2 C353.5,575 355.1,575.3 355.8,576.6 C356.5,577.9 355.4,581 356.5,581.9 C357.6,582.7 361.2,581 362.4,581.8 C363.6,582.5 363.2,585 363.8,586.3 C364.5,587.6 365,589.2 366.4,589.7 C367.8,590.3 370.7,588.8 372.3,589.6 C373.9,590.3 374.7,592.9 375.8,594.3 C377,595.7 377.7,597.3 379,598 C380.4,598.8 382.1,598.7 383.8,598.8 C385.5,598.9 387.9,597.6 389.2,598.4 C390.6,599.2 390.6,602.4 391.7,603.5 C392.8,604.7 394.5,604.8 395.9,605.4 C397.3,605.9 398.8,606.6 400.1,606.9 C401.5,607.1 402.9,606.9 404.2,606.8 C405.6,606.7 407,607.4 408.2,606.5 C409.5,605.5 410.2,601.3 411.6,601.1 C412.9,601 414.8,604.9 416.3,605.6 C417.7,606.4 419,606.2 420.3,605.5 C421.6,604.8 424.3,602.3 423.9,601.6 C423.4,600.8 419.7,601.6 417.9,601 C416,600.4 414.5,598.5 412.7,598 C410.8,597.5 408.5,598.5 406.7,598.1 C404.9,597.7 403.3,597.1 401.9,595.8 C400.6,594.6 399.2,590.7 398.6,590.8 C398,590.8 397.7,594.9 398.4,596.4 C399.2,597.9 401.9,598.4 403.1,599.7 C404.2,600.9 405.1,602.2 405.4,603.7 C405.8,605.1 405.1,606.9 405.2,608.4 C405.3,609.9 405.5,611.4 406,612.9 C406.4,614.3 407.1,615.7 407.9,617 C408.8,618.2 410.7,619 411.3,620.4 C411.9,621.7 410.8,623.8 411.4,625.1 C412,626.5 414.5,627.1 414.9,628.5 C415.3,629.9 413.6,632.3 413.9,633.7 C414.2,635.2 416,636 416.6,637.4 C417.2,638.7 416.7,640.6 417.5,641.8 C418.3,643.1 420.7,643.7 421.4,645 C422.2,646.3 421.7,648.1 422.1,649.6 C422.4,651 423.5,652.1 423.7,653.7 C423.8,655.3 422.3,657.5 422.8,659 C423.3,660.5 425.7,661.4 426.7,662.7 C427.6,664.1 427.6,667.4 428.3,667.2 C429,667.1 430.3,663.7 430.8,661.8 C431.3,659.9 430.9,657.8 431.4,655.8 C432,653.9 433.8,650.2 434,650 C434.1,649.9 433.4,654.2 432.3,655 C431.2,655.7 428.8,654.4 427.4,654.7 C426,655 425.2,656.2 423.9,656.7 C422.7,657.3 421.2,657.3 420,658 C418.8,658.6 417.8,659.6 416.9,660.6 C415.9,661.6 414.9,662.8 414.1,663.9 C413.2,665.1 412,666.1 411.6,667.4 C411.2,668.7 411.6,670.4 411.6,671.9 C411.6,673.4 411.8,674.9 411.5,676.3 C411.2,677.7 410.7,678.9 409.8,680.1 C409,681.2 406.6,681.8 406.5,683.2 C406.4,684.6 409.6,687.4 409.1,688.7 C408.6,690 404.3,689.8 403.3,690.9 C402.3,691.9 402.3,695 403.1,695.2 C403.9,695.5 407.6,693.3 408.1,692.3 C408.7,691.3 406.7,689.7 406.5,689.2"/>
<path d="M421.7,719 C420.8,719.1 418.2,719.4 416.5,719.8 C414.8,720.3 413.1,721.2 411.5,721.6 C410,721.9 408.7,721.3 407.4,721.8 C406.1,722.3 404.9,723.9 403.6,724.3 C402.3,724.8 400.9,724.7 399.5,724.7 C398.1,724.7 396.7,724.2 395.2,724.4 C393.7,724.5 391.7,724.7 390.4,725.7 C389.1,726.7 388.7,729.2 387.5,730.2 C386.3,731.3 384.4,731.9 382.9,732 C381.5,732 380.3,730.8 378.9,730.5 C377.5,730.2 376,730.6 374.6,730.3 C373.2,730.1 372,729.5 370.5,729.3 C369.1,729.1 367.3,728.7 365.8,729 C364.3,729.3 363,730.2 361.7,730.9 C360.3,731.5 359,732.4 357.6,733 C356.2,733.6 354.8,734.3 353.3,734.6 C351.9,734.9 350.3,734.3 348.7,734.7 C347.1,735 345.6,736.5 343.9,736.9 C342.1,737.3 340,736.6 338.3,737 C336.6,737.5 335.3,739.5 333.7,739.7 C332,739.9 330.3,738.4 328.6,738.2 C326.9,738.1 325.3,738.7 323.6,738.9 C321.9,739.1 320.1,739.3 318.5,739.7 C317,740.1 315.8,741.1 314.4,741.2 C313,741.3 311.4,740 309.9,740.1 C308.5,740.2 307.3,741.9 305.9,742 C304.4,742.1 302.8,740.9 301.4,740.9 C300,741 298.7,741.8 297.3,742.3 C295.8,742.9 294.5,743.8 293,744.3 C291.5,744.7 289.9,745.1 288.3,744.9 C286.7,744.7 284.9,744.1 283.4,743.3 C281.9,742.5 280.7,740.7 279.3,740.1 C277.9,739.5 276.2,740.1 274.9,739.4 C273.6,738.7 273,736.5 271.7,735.8 C270.4,735.1 268.4,736 267.2,735.4 C265.9,734.8 264.9,733.3 264,732 C263.2,730.7 263.5,728.6 262.2,727.8 C260.9,726.9 258.2,727.6 256.4,727 C254.5,726.4 252.8,724.2 251.3,724.1 C249.8,723.9 248.7,725.7 247.4,726.1 C246,726.5 244.6,726.5 243.1,726.6 C241.7,726.8 240.3,726.5 238.9,727.1 C237.5,727.6 236.1,729.1 234.7,730 C233.2,731 231.8,731.5 230.3,732.7 C228.7,733.9 226.3,736.9 225.2,737.1 C224.2,737.3 224.9,734.9 224,733.9 C223.2,732.8 221.2,732.1 220.1,730.9 C219,729.7 218.6,726.9 217.4,726.7 C216.3,726.4 214.4,728.4 213,729.5 C211.7,730.5 210.6,732.1 209.1,733 C207.6,733.8 205.5,733.6 204.2,734.5 C202.8,735.4 202.1,737.2 200.9,738.5 C199.7,739.8 198.2,740.8 197.2,742.3 C196.2,743.7 195.4,746.3 195.1,747.1"/>
<path d="M420.5,714.2 C419.7,714.3 417.1,714.8 415.5,715.2 C413.8,715.6 412.1,716.6 410.6,716.7 C409,716.7 407.4,715.4 406,715.7 C404.6,716 403.5,718.1 402.1,718.4 C400.7,718.7 399,717.4 397.5,717.6 C396.1,717.8 394.7,718.8 393.5,719.7 C392.3,720.6 391.4,722.1 390.2,723.1 C389.1,724.1 387.9,725 386.5,725.7 C385.1,726.4 383.4,726.9 381.9,727.1 C380.5,727.2 379.3,726.7 377.9,726.7 C376.5,726.6 375,727.3 373.7,726.9 C372.4,726.5 371.5,724.5 370.1,724.3 C368.8,724.1 367.1,725.2 365.6,725.6 C364.1,726 362.6,726.6 361.1,726.9 C359.6,727.2 358,727.3 356.4,727.4 C354.8,727.4 353.1,726.9 351.6,727.3 C350.1,727.8 348.8,728.9 347.3,729.9 C345.9,730.8 344.5,732.1 342.9,732.8 C341.4,733.5 339.7,733.8 338,734.1 C336.3,734.4 334.5,734.7 332.8,734.8 C331.2,734.9 329.6,734.8 328,734.8 C326.3,734.7 324.7,734.3 323.1,734.3 C321.4,734.3 319.7,734.4 318.2,734.7 C316.7,735 315.4,736.1 314,736.3 C312.5,736.5 310.9,735.5 309.5,735.7 C308,735.9 306.7,737 305.3,737.3 C303.8,737.6 302.3,737.4 300.9,737.4 C299.4,737.5 298.4,737 296.4,737.4 C294.4,737.8 290.9,739.7 288.9,739.9 C286.9,740.2 285.8,739.4 284.6,738.7 C283.3,738 282.5,736.2 281.3,735.5 C280.1,734.9 278.6,735.3 277.3,734.8 C276.1,734.4 275,733.3 273.8,732.7 C272.6,732.2 271,732.3 270.1,731.3 C269.2,730.4 269.3,728.3 268.5,727.1 C267.7,725.9 266.6,724.8 265.3,723.9 C264.1,722.9 262.4,722.2 260.9,721.4 C259.4,720.7 258,719.7 256.4,719.3 C254.8,718.9 252.8,718.6 251.3,719.1 C249.7,719.5 248.4,721.3 246.9,721.9 C245.4,722.6 243.7,722.7 242,722.8 C240.4,722.9 238.6,722 236.9,722.5 C235.3,722.9 233.8,724.5 232.2,725.5 C230.7,726.5 228.7,727.5 227.5,728.5 C226.3,729.6 225.2,731.7 225.2,732.1 C225.3,732.5 228.3,731.5 228,730.9 C227.8,730.3 224.9,729.8 223.9,728.5 C222.9,727.3 223.2,724.5 222.1,723.4 C221.1,722.2 218.9,721.5 217.4,721.7 C216,721.8 215,723.5 213.6,724.1 C212.2,724.7 210.2,724.4 208.9,725.2 C207.7,726.1 207.3,728.1 206,729.1 C204.7,730 202.4,730 201,731 C199.6,732 198.7,733.7 197.4,735 C196,736.3 194.1,737.3 193,738.9 C192,740.4 191.3,743.4 190.9,744.3"/>
<path d="M419,708.3 C418.3,708.8 416.1,710.4 414.5,710.8 C412.9,711.2 410.9,710.4 409.4,710.8 C407.8,711.2 406.6,712.6 405.2,713.2 C403.8,713.9 402.4,714.6 400.8,714.5 C399.2,714.4 397.4,712.7 395.8,712.7 C394.3,712.6 392.7,713.2 391.4,714 C390.2,714.8 389.6,716.4 388.5,717.4 C387.5,718.3 386.3,719.2 385,719.8 C383.7,720.5 382.4,721.2 380.8,721.2 C379.1,721.1 377.1,720 375.3,719.5 C373.4,719.1 371.3,718.3 369.7,718.3 C368.1,718.3 367.1,719.3 365.7,719.5 C364.4,719.7 362.8,719.2 361.5,719.7 C360.3,720.2 359.3,721.9 358,722.5 C356.8,723.2 355.4,723.5 354.1,723.8 C352.7,724.1 351.4,724.2 350,724.2 C348.6,724.2 347.1,723.5 345.7,724.1 C344.3,724.7 343.2,726.9 341.8,727.6 C340.3,728.3 338.5,728.1 336.8,728.4 C335.2,728.6 333.5,728.6 331.9,728.9 C330.2,729.1 328.7,729.7 327.1,729.9 C325.6,730.1 324,730.2 322.4,730 C320.9,729.8 319.3,728.7 317.7,728.7 C316.2,728.7 314.9,730 313.4,729.9 C311.9,729.9 310.2,728.4 308.7,728.5 C307.2,728.5 305.8,729.9 304.4,730.3 C302.9,730.7 301.4,730.4 299.9,730.6 C298.4,730.8 297.1,730.9 295.4,731.5 C293.7,732 291.6,734.2 289.7,734 C287.7,733.8 285.7,730.8 283.8,730 C281.9,729.3 280,730 278.3,729.4 C276.6,728.8 274.8,727.5 273.6,726.4 C272.3,725.4 271.5,724.4 270.7,723.2 C270,722 270.1,720 269.1,719.2 C268,718.3 265.8,718.9 264.5,718.1 C263.1,717.3 262.2,714.9 260.8,714.3 C259.4,713.6 257.5,714.3 255.9,714.1 C254.3,713.9 252.7,712.8 251.3,713.1 C249.8,713.3 248.7,714.9 247.4,715.5 C246.1,716.2 244.8,716.8 243.3,716.9 C241.9,717 240.3,716.2 238.8,716.2 C237.3,716.2 235.9,716.5 234.6,717 C233.2,717.4 232,718 230.8,718.7 C229.7,719.4 228.7,720.4 227.6,721.2 C226.5,722 224.6,722.7 224.2,723.6 C223.8,724.4 223.8,725.4 225.2,726.1 C226.7,726.7 232,727.8 232.8,727.3 C233.7,726.7 231.5,723.8 230.2,722.8 C228.9,721.8 226.9,721.8 225.3,721.3 C223.6,720.9 221.4,721.1 220.1,720.1 C218.8,719.2 218.4,715.8 217.4,715.7 C216.5,715.5 215.8,718.6 214.5,719.4 C213.3,720.1 211.4,719.8 209.9,720.1 C208.4,720.5 206.9,720.8 205.7,721.5 C204.4,722.2 203.6,723.4 202.2,724.4 C200.9,725.4 199.3,726.6 197.7,727.6 C196.2,728.7 194.1,729.5 193.1,730.8 C192.2,732 192.7,733.8 192.1,735.1 C191.5,736.4 190.8,737.6 189.8,738.6 C188.8,739.6 186.6,740.6 185.9,741"/>
<path d="M416.9,699.6 C416.1,699.9 413.9,700.9 412.4,701.2 C410.8,701.6 409.2,701.6 407.6,701.9 C406,702.3 404.4,702.6 402.9,703.3 C401.4,704 400.1,706.2 398.5,706.3 C396.8,706.5 394.8,704.3 393.1,704.2 C391.4,704.1 389.7,704.4 388.4,705.6 C387,706.7 386.7,709.8 385.1,710.9 C383.6,712.1 380.9,712.1 379,712.4 C377.1,712.6 375.1,713.1 373.5,712.6 C371.8,712.1 370.4,709.5 369,709.3 C367.6,709.2 366.5,711.5 365,711.7 C363.5,711.8 361.6,710 360.2,710.4 C358.8,710.9 357.9,713.6 356.6,714.5 C355.3,715.4 353.8,715.6 352.4,715.9 C351,716.2 349.6,716.7 348,716.6 C346.5,716.5 344.7,715.1 343.2,715.4 C341.8,715.7 340.9,718 339.5,718.5 C338.1,719 336.2,718.2 334.7,718.5 C333.1,718.7 331.8,720.1 330.4,720 C328.9,719.9 327.5,717.3 326,717.7 C324.5,718 323,721.7 321.5,722 C320,722.3 318.6,720.1 317.1,719.7 C315.6,719.3 314,719.6 312.4,719.5 C310.8,719.4 309.2,718.9 307.7,719.3 C306.1,719.7 304.8,721.5 303.3,722 C301.8,722.6 300.2,722.4 298.7,722.5 C297.1,722.6 295.3,722.2 294,722.6 C292.7,723 291.9,725.2 290.8,725.1 C289.7,724.9 288.8,722.2 287.4,721.8 C286,721.5 283.8,723.3 282.4,722.9 C280.9,722.4 279.8,720.3 278.8,719.1 C277.8,717.9 277.2,716.9 276.5,715.8 C275.8,714.6 275.6,713.1 274.7,712.1 C273.8,711.2 272.3,710.7 271,710.1 C269.8,709.4 268.8,708.2 267.3,708.3 C265.8,708.3 263.4,711 262.2,710.4 C260.9,709.9 260.8,705.9 259.7,705 C258.5,704.1 256.7,705.3 255.2,705.2 C253.8,705 252.5,703.8 251.3,704.1 C250,704.4 249,706.4 247.7,707 C246.4,707.5 244.8,707 243.5,707.4 C242.2,707.8 241.1,709.2 239.7,709.4 C238.3,709.7 236.8,709 235.3,708.9 C233.9,708.8 232.2,708 231,708.7 C229.8,709.3 229.2,711.7 228.1,712.8 C227,713.9 225.8,714.9 224.3,715.4 C222.8,716 219,715.8 219.2,716.1 C219.3,716.3 223.5,716.5 225.2,717.1 C227,717.6 228.1,719.4 229.9,719.5 C231.7,719.6 234.2,717.4 235.9,717.8 C237.6,718.2 240.1,721.5 240,721.9 C240,722.2 236.8,721.2 235.8,720 C234.8,718.8 235,715.8 234,714.6 C233,713.4 231.3,713.1 229.7,712.8 C228.1,712.5 226,712.9 224.3,712.7 C222.7,712.5 220.9,712.4 219.7,711.4 C218.6,710.4 218.6,707.3 217.4,706.7 C216.3,706 214.1,706.9 212.6,707.4 C211.1,707.9 209.7,708.6 208.4,709.5 C207.1,710.4 206.2,712 204.8,712.8 C203.4,713.5 201.5,713.2 200.1,713.9 C198.8,714.7 197.7,716.4 196.6,717.3 C195.5,718.3 194.7,719.2 193.4,719.8 C192.2,720.4 190.4,720.2 189.3,720.9 C188.2,721.7 187.6,723.2 186.8,724.4 C185.9,725.6 184.8,726.9 184.1,728.4 C183.5,729.9 184,732.2 183.1,733.5 C182.1,734.7 179.2,735.6 178.4,736"/>
<path d="M414.2,688.9 C413.6,689.6 412.1,692.8 410.6,693.1 C409.2,693.5 407.1,691.8 405.5,691.2 C403.8,690.5 402,688.2 400.7,689 C399.4,689.8 399,695 397.7,696 C396.5,697 394.7,695.4 393.2,694.8 C391.6,694.2 389.8,692.3 388.4,692.4 C387,692.5 386.1,694.5 384.6,695.2 C383.1,696 380.7,695.7 379.4,696.8 C378.1,697.8 378.1,700.7 376.8,701.6 C375.6,702.4 373.3,702.2 371.9,701.7 C370.4,701.2 369.4,698.8 368.1,698.4 C366.9,698 365.4,698.6 364.2,699.4 C363,700.2 362.2,703.2 360.9,703.4 C359.6,703.7 357.6,701.2 356.1,700.9 C354.7,700.7 353.6,702.3 352.2,702.2 C350.8,702.1 348.9,700 347.5,700.1 C346.1,700.3 345.2,702.3 344,703 C342.8,703.8 341.4,704 340.2,704.9 C339,705.7 338.4,707.9 337,708 C335.5,708.1 333,705.3 331.6,705.5 C330.2,705.7 329.8,708.2 328.6,709.2 C327.4,710.1 325.8,711.2 324.4,711.4 C323,711.5 321.7,710.5 320.4,710.1 C319,709.6 317.7,709.4 316.3,708.8 C314.9,708.2 313.3,706.3 311.9,706.4 C310.6,706.5 309.5,709.1 308.2,709.5 C306.9,709.9 305.4,709 304.1,709 C302.7,709 301.4,709.3 300.1,709.7 C298.8,710.1 297.5,711.1 296.2,711.4 C294.9,711.8 292.8,711.3 292.2,711.8 C291.5,712.2 292.2,714.1 292.1,714.1 C292.1,714.1 293,712.4 291.9,711.8 C290.7,711.1 286.9,711.5 285.2,710.2 C283.5,708.8 282.8,704.8 281.6,703.6 C280.3,702.3 278.8,703.2 277.6,702.6 C276.4,702.1 275.7,700 274.3,700 C272.9,700 270.6,702.4 269.2,702.5 C267.7,702.6 266.7,701.5 265.6,700.5 C264.6,699.5 264,697.2 262.8,696.5 C261.6,695.8 259.9,696.6 258.6,696.4 C257.2,696.2 255.9,696 254.7,695.4 C253.5,694.8 252.5,693.3 251.3,693.1 C250,692.8 248.6,694 247.1,693.8 C245.7,693.7 243.8,691.8 242.5,692.2 C241.1,692.6 240.4,695.6 239.1,696.2 C237.8,696.8 236.1,695.9 234.7,695.9 C233.3,696 231.9,696.2 230.5,696.6 C229.2,697.1 228.3,698.2 226.7,698.6 C225,699 222.4,698.4 220.7,699.1 C219.1,699.7 217.9,701.2 216.6,702.5 C215.3,703.8 213,706.3 213.1,706.9 C213.2,707.5 215.8,706.6 217.1,706.3 C218.5,706 219.7,705.1 221.1,705 C222.5,705 223.9,705.6 225.2,706.1 C226.6,706.5 227.7,707.4 229.1,707.9 C230.4,708.3 232.1,707.9 233.3,708.8 C234.4,709.6 234.8,712.6 236.1,713 C237.5,713.5 240,710.9 241.3,711.4 C242.6,711.8 242.8,715.3 244,716 C245.3,716.6 248.6,715.9 248.8,715.3 C249.1,714.7 246.8,713.4 245.7,712.5 C244.7,711.6 244,710.1 242.5,709.9 C241,709.7 238.3,711.4 236.8,711.2 C235.3,711.1 234.2,710.2 233.5,708.7 C232.8,707.3 233.8,703.2 232.6,702.5 C231.4,701.8 227.9,704.9 226.4,704.7 C224.9,704.5 224.2,703 223.5,701.4 C222.9,699.9 223.5,696.4 222.5,695.4 C221.4,694.5 218.8,695 217.4,695.7 C216.1,696.3 215.7,698.7 214.4,699.4 C213.1,700.2 211.1,699.2 209.8,699.9 C208.5,700.6 207.9,702.7 206.6,703.5 C205.4,704.3 204,704.7 202.3,704.6 C200.6,704.4 198.2,702.8 196.6,702.8 C195,702.8 193.8,703.8 192.7,704.7 C191.6,705.7 190.6,707.3 189.8,708.8 C188.9,710.2 188.7,712.4 187.6,713.3 C186.4,714.2 184.1,713.6 182.7,714.1 C181.2,714.7 180.4,715.9 179,716.6 C177.6,717.3 175.5,717.4 174.4,718.4 C173.4,719.3 172.8,720.6 172.6,722.2 C172.5,723.8 174,726.6 173.5,727.9 C172.9,729.2 170,729.6 169.3,729.9"/>
<path d="M770,668.9 C770.3,669.5 771.4,671.3 771.9,672.5 C772.4,673.8 772.4,675.4 773.1,676.6 C773.7,677.8 775.1,678.7 775.8,679.9 C776.5,681 776.8,682.2 777.3,683.7 C777.8,685.2 778.7,687.1 778.9,688.8 C779.1,690.6 778.4,692.5 778.5,694.2 C778.5,696 779.4,697.8 779.3,699.5 C779.2,701.1 778.2,702.7 778.1,704.4 C777.9,706.1 778.4,707.8 778.3,709.5 C778.2,711.2 777.7,712.9 777.5,714.5 C777.2,716.1 777.3,717.5 777,719 C776.7,720.4 776.2,721.8 775.7,723.2 C775.2,724.6 774.1,726 774.1,727.3 C774.1,728.7 775.5,729.8 775.8,731.1 C776.2,732.4 776,733.9 776.2,735.2 C776.4,736.6 776.8,737.7 777.2,739.2 C777.6,740.7 777.9,742.5 778.5,744.1 C779,745.7 779.6,747.3 780.5,748.7 C781.4,750.1 783.1,751 783.9,752.6 C784.7,754.1 784.1,756.3 785.1,757.8 C786,759.2 788.8,759.8 789.8,761.2 C790.7,762.7 790.3,764.8 790.9,766.5 C791.4,768.1 792.5,769.5 793.2,771.1 C793.9,772.7 794.2,774.5 794.9,776.1 C795.7,777.6 796.9,779 797.8,780.4 C798.8,781.9 799.7,783.5 800.6,785 C801.5,786.5 802.4,788 803.1,789.6 C803.9,791.3 804.2,793.1 805,794.7 C805.7,796.3 806.8,797.7 807.7,799.2 C808.5,800.7 809.5,802.2 810,803.8 C810.4,805.5 810.4,807.5 810.4,809.2 C810.4,811 809.9,812.8 810.2,814.5 C810.5,816.1 811.4,817.6 812.1,819.2 C812.7,820.7 813.8,822.3 814.1,823.9 C814.4,825.5 813.8,827.1 813.8,828.7 C813.9,830.3 814.1,831.9 814.4,833.5 C814.8,835.1 815.6,837.4 815.9,838.2"/>
<path d="M775.3,666.2 C775.5,666.9 775.7,669.3 776.6,670.5 C777.5,671.6 779.9,672.1 780.7,673.3 C781.5,674.5 781.1,676.4 781.4,677.8 C781.8,679.3 782.6,680.5 783,681.9 C783.4,683.3 783.8,684.8 783.9,686.3 C784,687.7 783.7,689.3 783.7,690.8 C783.7,692.2 783.8,693.7 784.1,695.2 C784.4,696.6 785.1,698.1 785.3,699.5 C785.5,700.9 785.4,702.2 785.1,703.5 C784.8,704.9 783.7,706.1 783.5,707.4 C783.4,708.8 784.3,710.3 784.3,711.6 C784.3,713 783.8,714.3 783.4,715.6 C782.9,716.9 781.6,717.9 781.4,719.3 C781.2,720.6 782.5,722.4 782.3,723.7 C782.1,725.1 780.2,726 780.1,727.3 C780,728.7 781.3,730.5 781.8,732.1 C782.2,733.7 782.1,735.6 782.8,737.1 C783.5,738.5 785.7,739.2 786.1,740.8 C786.6,742.3 784.9,744.9 785.5,746.4 C786,748 788.4,748.4 789.3,749.9 C790.1,751.3 789.5,753.6 790.5,755.1 C791.5,756.5 794.4,757 795.3,758.5 C796.3,759.9 795.8,762.1 796.2,763.8 C796.7,765.5 797,767.3 797.9,768.8 C798.8,770.3 800.5,771.4 801.4,772.8 C802.3,774.3 802.6,776.3 803.2,777.8 C803.8,779.2 804.3,780.2 805.2,781.3 C806.1,782.4 807.9,783 808.5,784.2 C809.2,785.4 808.5,787.2 808.9,788.5 C809.2,789.9 810.2,790.9 810.4,792.3 C810.7,793.6 809.6,795.5 810.4,796.6 C811.1,797.8 814.1,798.1 814.8,799.3 C815.5,800.4 814.5,802.3 814.7,803.7 C814.9,805 815.6,806 816.1,807.4 C816.7,808.9 817.3,810.8 818,812.4 C818.6,814 819.7,815.6 820.1,817.3 C820.4,819 820,821 820,822.8 C819.9,824.5 819.8,826.1 819.9,827.7 C820,829.4 820.2,831 820.5,832.6 C820.8,834.2 821.6,836.6 821.8,837.4"/>
<path d="M780.7,663.5 C781.2,664.1 783.6,665.5 784,667 C784.4,668.6 782.7,671.1 783,672.7 C783.3,674.2 784.6,675.3 785.5,676.6 C786.5,677.8 788.1,678.7 788.7,680.1 C789.4,681.5 789.1,683.4 789.2,685 C789.3,686.6 789.4,688.2 789.5,689.9 C789.7,691.5 789.9,693.1 790.2,694.7 C790.5,696.3 791.3,698 791.3,699.5 C791.3,701 790.2,702.2 790.2,703.7 C790.3,705.2 791.8,706.8 791.6,708.2 C791.3,709.7 789.1,710.9 788.7,712.3 C788.3,713.7 789.1,715 789.3,716.7 C789.4,718.4 789.9,720.8 789.4,722.5 C788.8,724.3 786.2,725.3 786.1,727.3 C785.9,729.4 787.8,733 788.4,735 C789,737 789.4,737.9 789.8,739.4 C790.2,740.9 790,742.7 790.8,744 C791.6,745.3 793.9,745.7 794.6,747.2 C795.4,748.6 794.6,751.1 795.1,752.7 C795.7,754.4 797.1,755.7 798.1,757.1 C799.2,758.5 800.7,759.6 801.6,761.1 C802.5,762.6 802.5,764.5 803.5,766 C804.5,767.4 806.7,768.3 807.6,769.8 C808.4,771.3 808.3,773.5 808.6,775.1 C808.9,776.7 808.6,778.1 809.4,779.3 C810.3,780.4 813,780.6 813.5,781.9 C813.9,783.2 811.8,785.8 812.2,787.1 C812.7,788.4 815.1,788.7 815.9,789.9 C816.7,791 816.6,792.6 817.1,793.9 C817.5,795.3 817.6,796.8 818.5,797.9 C819.4,799.1 821.9,799.6 822.5,800.9 C823.1,802.2 821.8,804.2 821.9,805.6 C821.9,807.1 822.9,808.2 822.9,809.6 C822.9,811 821.6,812.8 821.9,814.1 C822.2,815.5 824.2,816.4 824.9,817.6 C825.5,818.9 825.5,820.2 825.9,821.6 C826.2,823.1 826.8,824.9 827.1,826.6 C827.4,828.2 827.5,829.9 827.6,831.6 C827.7,833.3 827.7,835.8 827.8,836.7"/>
</g>
<g fill="none" stroke="#000" stroke-width="1.9" stroke-linejoin="round">
<path d="M90,318 L91.2,321.9 91,326 90.6,329.4 91.4,332.7 94.5,335.2 98.2,336.8 101.3,339.3 103.7,342.3 102.3,347.8 96.8,349.2 98.2,353.3 103.7,351.9 109.2,350.5 112.8,351.4 116.5,352.3 120.1,353.3 122.7,354.9 125.4,356.5 128.7,356.7 131.1,358.7 133.9,360.4 135.2,363.7 137.9,365.6 140.7,368.9 143.4,372.4 144.8,375.9 147.8,378.4 148.9,382 152.3,383.3 155.7,384.8 158.2,386.9 161.5,388 163.9,390.2 166.2,392.7 169,394.5 172.1,395.7 174.3,398.1 175.6,400.8 176.2,404 177.6,406.7 179,410.8 182,413.5 185.8,414.9 188.7,416.5 191.6,418.1 194,420.3 196.2,423 198.8,425.3 200.6,428.3 202.3,431.3 205.1,434 207.7,436.8 211.4,437.7 215.1,438.1 218.7,439.5 222.9,440.4 226.9,442.3 230,444.6 232.4,447.7 235.1,450.5 237.5,453.7 239.2,457.3 241.4,454.6 244.7,453.2 248,453.1 251.1,451.9 254.3,451.1 257.8,452.5 261.7,452.9 265.2,454.6 268.1,456.8 271.4,457.9 274.8,458.7 277.9,456 281.6,454.6 285.9,455.3 290,456.6 291.5,460.1 293.3,463.4 295.5,466.5 296.8,469.5 299.5,471.6 300.9,474.6 303.3,476.9 304.3,480.2 306.2,483.2 307,486.7 308.5,489.9 309.1,494 311.1,497.7 315.3,496.3 318.9,493.8 322.8,493.1 326.7,492.5 329.2,495.2 332.5,497.1 334.5,500.3 337.4,502.5 339.7,505.5 337.5,507.8 336.4,510.8 334.5,513.3 338.4,512.7 342.3,513.3 345.8,512.5 349.3,511.9 352.7,510.7 356.7,509.7 360.5,508.1 363.3,510.5 365.7,513.3 367.5,516.7 369.2,520.2 370.9,523.7 372.2,526.6 374.3,528.9 376.1,531.5 377.2,534.9 377.9,538.4 378.7,541.9 378.2,546.1 376.1,549.7 379.2,551 381.1,553.9 383.4,556.2 386.5,557.5 389.9,559.4 393.5,560.8 396.9,562.7 399.9,564.9 402.1,567.9 405.6,567 409.3,567 412.5,565.3 416.2,564.5 419.5,562.8 422.9,561.4 425,564.8 428.5,567.1 430.7,570.4 432.3,573.5 433.1,577 435.3,579.8 437,582.9 438.5,586 439.8,588.9 440.2,592.1 440.3,595.3 442.9,597.9 442.4,601.3 443.7,604.2 444.5,607.5 445.7,610.6 447.2,613.5 448.4,616.6 450.2,619.4 451.5,622.4 452.7,625.5 454.3,628.4 456.2,631.2 456.1,634.8 457.9,637.6 459.3,640.6 460.8,643.4 461.2,646.6 462.1,649.5 463.3,652.4 464.2,655.4 464.8,658.5 465.8,661.4 465.3,664.7 465,667.9 464.9,671.2 464.5,674.4 462.4,677.1 459.6,678.7 457.1,680.8 454.1,682.2 450.6,683.8 446.9,685.1 443.7,687.4 441.9,691.2 441.1,695.2 441.5,698.8 442.3,702.3 443.7,705.7 441.4,708.6 438.1,710.4 435.7,713.2 433.3,716.1 432,719.1 430.1,721.8 428.2,724.4 425.5,726.5 424.8,729.5 425.5,732.7 425.4,735.9 424.3,738.9 424.2,742.1 425.8,745.4 427.5,748.7 428.1,752.5 431.7,752.7 435,754.3 438.5,755.1 441.6,754.5 444.8,754.7 447.9,755.5 451,755 454.1,755.1 448.4,754.3 451.7,752.3 455.3,750.7 458.8,749 460.3,745.9 462.9,743.7 465,741.1 466.8,738.2 469.3,735.9 470.3,733 473.1,731.1 474.1,728.1 475.2,725.2 477.2,722.8 479.4,720.3 481.8,717.9 482.8,714.4 484.9,711.8 487.7,709.7 488.9,705.9 491.5,702.9 492.9,699.2 492.3,696.1 493.3,692.9 493.2,689.8 493,686.7 492.9,683.5 495.2,680.5 498.8,678.9 500.8,675.6 503.7,674.5 506,672.5 508.4,670.5 511.4,669.6 513.9,667.8 517,667.1 520.2,666.9 523.3,665.9 526.5,665.9 529.6,665.2 531.7,662 534.6,659.7 537.5,657.3 537.7,653.8 536.8,650.6 535.2,647.5 534.9,644.2 535.5,641.1 534.5,638.1 535.7,635 535.3,631.9 534.7,628.9 534.9,625.8 532.7,622.5 530.6,619.2 529.6,615.3 527.4,612.7 523.9,611.8 522.1,608.6 519.7,606.3 516.5,604.9 513.3,604.1 509.8,604.1 506.8,602.2 503.4,602.2 500.3,600.7 496.9,600.6 493.6,600.3 490.3,599.6 489.2,596.2 488.3,592.7 487.7,589.1 488.2,585.8 490.1,582.9 490.7,579.7 491.3,576.4 492.9,573.4 493.3,570 495.3,567.2 495.7,563.8 497.1,560.8 498.2,557.7 500.6,554.8 503.9,552.9 506.5,550.3 508.6,547.2 509.7,544.1 511.7,541.6 513.6,539.2 516.4,537.2 517.8,534.4 519.1,531.5 521.6,529.3 524.1,527.1 527.2,525.8 529.6,523.6 533,525.1 536.4,526.1 540.1,526.2 542.3,528.7 543.5,531.9 545.7,534.3 548,536.7 551,537.5 553.8,539.3 557.3,538.9 560.1,540.6 563.5,540.4 566.3,541.9 569.6,541.9 572.5,543.7 575.8,543 578.8,544.5 582,544.6 584.6,546.7 586.9,549 590.1,550.3 592.5,552.4 593.7,555.9 594.6,559.3 595.2,562.9 595.9,566.4 597.6,569.5 598.3,573.1 600.4,576 602.7,578.2 606,578.6 608.2,580.8 611.2,581.7 613.5,583.9 617.2,584 620.7,584.9 624,586.5 624.6,583 624.5,579.5 624,576 626.1,573.7 627,570.6 629.1,568.3 630.5,565.5 631.4,562.3 631,559 631.7,555.7 631.9,552.4 629.9,550.1 628.1,547.6 626.8,544.8 626.2,541.6 624,539.3 621.5,536.6 619.3,533.5 616.1,531.5 613.5,528.8 610.6,527.2 608.6,524.5 606,522.5 603,521 599.8,519 598,515.5 594.6,513.6 592.5,510.5 595.4,512.5 596.7,515.9 600.1,517.3 602.2,520 603.5,523.4 606.5,525.3 604.2,523.2 601.6,521.4 599.9,518.7 597.2,516.2 595.1,513.2 593.3,510 589.8,508.1 585.8,507.7 582.4,505.6 579.7,503.2 576.1,502.3 573.6,499.6 570.5,498 567,496.8 564.2,495.4 561.5,493.7 559.1,491.6 556.1,490.4 553.9,488.1 551.5,486 548.3,485.1 545.7,483.3 544.2,480.1 540.9,479.2 538.6,477.1 535.6,475.2 532.4,473.7 529.2,472.2 525.9,470.8 523.2,468.4 520.6,466.6 517.7,465.4 514.8,464.3 511.3,464.6 508.4,463.4 505.7,461.8 502.7,460.3 499.8,458.5 496.4,458 493.3,456.5 490.2,455.3 486.8,454.7 483.8,453 480.7,451.7 477.4,450.9 474.2,449.7 471,448.7 468,447.1 465.4,444.7 461.9,444.3 458.6,442.7 455.5,440.7 452.2,439.1 448.8,437.7 448,434.4 445.7,431.9 444.4,428.9 445.1,425.5 446.6,422.4 449.1,420.5 451.9,418.8 455.1,418 457.5,415.8 460.6,413.3 462.4,409.7 465.2,407 464.3,402.7 464.1,398.3 461.2,396.4 458.3,394.5 455.3,392.8 452.3,392.8 449.2,393.7 446.2,394.3 443.1,394.1 440,393.9 443.1,393 446.3,393.6 443.3,393.8 440.3,394.8 437.3,395 434.2,394.3 431.2,395.1 428.1,394.9 424.6,394.6 421.2,395.4 417.7,394.9 414.3,396.4 410.8,396 407.3,396.2 404.5,395 401.2,395.5 398.6,393.2 395.3,393.8 392.6,392 389.7,390.9 386.5,391 383.6,389 380.1,388.2 376.8,387 374,384.8 370.9,383.2 368.7,381 365.5,380.4 363.5,377.9 360.2,377.5 357.9,375.4 356.3,372.7 353,371.7 351.2,369.2 349.7,366.2 347.4,364.2 344.9,362.4 342.8,359.7 340.1,357.6 337.4,355.6 334.7,353.5 331.5,352 329.3,349.4 327,347.3 324.5,345.5 323.1,342.6 320.8,340.5 318.1,338.9 316.3,336.4 314,334.2 313.7,330.8 311.9,328.3 309.9,326 308.2,323.4 307.1,320.5 304.8,318.3 303.3,315.6 302.1,312.5 300.9,309.5 299.7,306.4 298.3,303.4 298.1,300 297.3,296.9 295.9,294 295.2,290.9 293.3,288.1 292.9,284.9 291.5,282 290.5,279 289.7,275.9 289.1,272.7 288.4,269.6 286.5,267 285.3,264.1 284.4,261.1 282.5,258.5 280.9,255.8 280.5,252.5 279.3,249.7 277.1,247.5 275.1,245.1 272.7,243.1 269.4,241.9 266.2,240.2 263,238.8 259.4,238.3 256.3,236.6 253.5,234.9 250.8,233.3 247.8,232 245.2,230.1 242.6,228.2 240.2,226.1 237.5,224.4 234.2,223.8 231.8,221.5 228.5,220.8 225.7,219.1 223.4,216.8 220.6,213.8 217.8,210.7 215.9,207.9 212.6,206.4 211.1,203.3 208.9,200.8 205.8,199.2 203.9,196.4 201.3,194.3 199.6,191.5 196.7,189.7 194.9,186.9 192.7,184.5 190.3,182.3 188,180 187.8,176.5 187,173.2 186.3,169.9 184.8,166.7 183.9,163.5 182.5,160.5 181.9,157.4 181.1,154.4 180.8,151.1 180.4,147 179.8,142.9 180.7,138.9 180.8,134.7 183.9,131.6 189,134.7 193.1,131.6 195.2,126.5 199.3,122.4 201.3,120.3 198.3,118.3 195.2,115.2 191.1,113.2 187,110.1 184.9,106 183.9,101.9 181.8,99.8 177.7,98.8 175,96.7 173.6,93.7 172.9,90.5 171.6,87.5 173,84.5 173.6,81.3 176,79.1 178.7,77.2 180.8,75.2 185.9,73.1 189,70 192.1,68.5 195.2,67 200.3,68 199.3,72.1 196.6,75.6 193.1,78.3 197.4,77.1 201.3,75.2 204.4,73 208.5,73.2 211.6,71.1 215.3,69.9 218.5,67.9 221.9,65.9 224.4,63.9 227.7,63.1 230.1,60.8 234,61.1 237.5,59.1 241.4,59.3 240.3,53.6 244.5,49.5 247.7,49.2 250.6,48 254,49.8 257.8,50.5 261.3,52.3 265,53.6 268.7,52.9 272.2,51.6 271.1,47.5 274.2,44.4 278.3,45.4 281,47.4 283.5,49.5 287.6,53.6 290.7,57.7 292.7,61.8 287.6,63.9 283.5,67 278.3,69 273.2,71.1 270.1,73.1 270.9,77.5 273.2,81.3 273.4,85.6 275.3,89.5 276,93.1 276.3,96.7 276.8,100.5 278.3,103.9 279.5,108 280.4,112.1 283.4,115.4 285.5,119.3 287.8,121.7 289.6,124.5 292.7,126.5 294.8,129.6 296.9,132.2 300,133.7 304,136.8 306.7,134.2 308.1,130.6 308.5,127.3 310.3,124.5 311,121.3 312.2,118.3 316.3,114.2 320.4,110.1 321.2,106.4 322.8,103.1 324.5,99.8 325.1,95.6 326.6,91.6 329,88.8 330.7,85.4 334.1,85.5 337.1,86.7 340.1,88.1 343.4,88.3 346.3,90 348.3,92.4 350.5,94.5 352.9,96.6 355.5,98.9 359,99.8 361.6,102 365.1,104.5 368.2,107.5 370.3,111.4 372.6,115.2 374,118.3 374.8,121.8 373.5,125 372.6,128.3 372.5,132.2 371.5,136 371.7,139.3 372.6,142.6 374.8,148 376,151 378,153.5 380.4,156.1 383.5,157.9 385.5,160.7 388.6,162.3 391.2,164.5 393.8,166.6 395.9,169.3 398.9,171 401.5,173.6 404.6,175.5 407.6,177.6 411,179.6 414.2,182 418.6,185.3 422.9,188.6 425.7,192.4 425.1,195.7 421.8,194 416.4,191.8 411.9,191.4 407.6,190.2 403.1,190.4 398.9,189.1 395.1,188 391.2,188 390.1,189.7 392.9,192.6 394.1,196.5 396.7,199.5 399.5,201.8 402,204.6 405.4,206.1 408.1,208.7 410.8,211.1 414.2,212.7 417.5,214.3 420,217 422.9,219.2 426.1,222.1 429.5,224.7 433,226.6 436.1,229.1 440.5,232.4 443.2,234.6 445.9,236.7 447.3,240 448.1,243.3 447.5,246.7 447,250 450.5,251.1 453.2,253.6 456.1,255.6 461.6,256.7 464.9,252.3 468.7,251.1 472.6,250.1 475.7,248.7 479.1,247.9 482.5,248.8 485.7,250.1 488.2,252.2 491.2,253.4 493.8,255.3 496.7,256.7 499.9,257.7 503.2,258.9 506.4,260.2 509.8,261 513.1,261.1 516.4,261.6 519.5,263.7 521.8,266.5 525.2,268.6 527.3,272 529.8,273.9 531.6,276.5 533.9,278.6 536.8,281.3 540.5,282.9 542.8,285.6 545.9,287.3 550.3,290.6 552.5,292.8 554.7,295 555.6,298 558,300 562.7,301.9 564.9,304 566.6,306.7 569.3,308.4 571.1,311 573,313.5 575.8,315 579.2,316.4 582.6,317.8 585.6,320.2 588.9,321.6 592,323 595.2,324 598.5,324.7 601.3,326.7 604.3,328.2 607.1,329.7 609.8,331.3 612.2,333.7 615.2,334.8 617.8,336.6 620.2,338.6 622.7,340.6 625.5,342.1 628.4,343.5 631.3,345 634,346.8 637.1,347.9 640.1,347.4 643,346.7 645.9,345.7 647.1,348.7 649,351.5 650.3,354.5 652.3,357.5 654.5,360.5 656.8,363.2 659.4,365.4 662.5,366.6 665.6,367.6 667.3,370.2 669.6,372.3 672.2,374.2 673.1,377.4 674.9,380.1 676.6,382.9 679.6,384.9 682.6,387 685.3,389.5 687.7,391.6 690.2,393.6 693.2,394.8 696.2,396 698.5,398.3 700.2,400.9 702.8,402.7 705.8,404.1 708.7,405.5 711.6,407 713.1,409.8 713,412.9 713.8,415.8 711.9,418.5 711,421.7 709.4,424.6 708.6,427.9 706.9,431 706.9,434.7 705,437.7 703.9,441 702.1,444 701.4,447.4 700.6,450.8 702.3,453.7 703.3,456.8 705,459.6 704.3,462.9 704.4,466.3 703.9,469.5 702.8,472.7 701.7,475.7 702.4,478.9 702.3,482.1 700.5,484.9 700.6,488.1 699.9,491.7 699.4,495.4 698.5,499 697,502.7 695.1,506.2 694.1,510 693.5,513.5 691.6,516.5 690.4,519.7 689.7,523.1 692.1,523.6 695.4,525.8 699.3,526.7 702.6,528.8 701.6,532.3 701.4,535.9 700,539.3 702.6,542 705.7,544.1 707.9,547.2 710.1,550.2 712.7,552.9 716,554.8 718.4,557.7 721.3,559.4 723.1,562.5 726,564.3 728.5,566.5 731.5,568.2 734.1,570.3 734.8,573.8 737.2,576.2 739.3,578.6 740.3,581.9 740.8,585.2 740.8,588.6 742,591.8 742.8,595.8 744.6,599.6 747.6,601.8 749.7,605 752.4,607.5 754.3,611.2 755.1,615.3 756.1,619.2 758.7,622.3 760.3,625.8 761.8,628.9 764.2,631.3 766.5,633.8 769,636 770.8,638.9 773.4,641.1 776.4,642.6 779.1,644.7 781,647.6 783.9,649.4 787.3,650.5 790.3,652.5 793.9,652.9 797,654.7 800.8,656.4 804.9,657.3 807.4,659.4 810.5,660.5 813,662.5 813,662"/>
<path d="M422.9,723.9 L419.3,724 415.8,724.9 412.5,726.5 409.5,727.7 406.4,728.2 403.1,727.5 400,728.2 396.9,729.1 394.2,730.4 391.9,732.4 389,733.6 386.4,735.2 383.9,736.9 380.7,736.1 377.3,736.1 374.1,735 370.9,734.3 368,735.2 364.9,735.4 361.8,735.7 358.8,736.5 356,737.9 353.1,738.8 350.1,739.5 347.1,740.9 344.1,742.3 341,743.3 337.6,743.7 334.5,744.7 331.4,745 328.2,744.9 325.1,744 322,744.6 318.9,744.7 315.4,745 312,746 308.6,746.7 305,746.7 301.6,747.4 298.1,747.3 294.6,748.1 290.9,748.2 287.7,749.9 284.3,747.9 280.5,746.9 277.3,744.7 274.3,742.8 270.9,741.6 267.7,740.4 264.3,739.5 263.1,736.5 261.1,734 259.1,731.7 255.3,729.9 251.3,729.1 247.8,730.2 244.1,730 240.9,731.7 237.8,732.8 236,735.6 233.1,736.9 230.2,738.3 227.7,740 225.2,742.1 222.6,739.5 220,736.9 217.4,731.7 214.8,734.2 212.2,736.9 209.7,738.6 206.7,739.8 204.4,742.1 202.7,744.7 200.5,747 199.2,749.9 198.2,753.8 196.6,757.7 195.2,761 194.3,764.5 194,768.1 195.8,771.5 197.4,775.1 199.2,778.5 201.4,781 204.2,782.7 207.1,784.3 209.6,786.3 213,786.5 216.2,787.3 219.3,788.5 222.6,788.9 226,789 229,790.8 232.5,790.5 235.7,791.5 237.9,794 241,795.1 243,797.9 246.1,799.3 248.5,801.6 251.3,803.5 253.8,805.6 256.3,807.8 259.1,809.7 262.3,811.1 265.7,812 269,813.2 272.1,814.9 275.2,816.5 278,818.6 281.3,819.8 284.9,820.5 287.7,822.7 290.6,824.2 293.8,825.1 296.8,826.4 300.3,826.4 303.3,827.9 306.4,829.6 310,829.8 312.9,832 316.3,833.1 319.7,834.6 323,836.4 325.7,839.1 329.3,840.4"/>
<path d="M425.5,725.2 L424,727.8 421.8,729.9 420.1,732.5 418,734.7 416.1,737.1 414.9,740.1 412.5,742.1 411.5,745.5 408.6,747.9 407.7,751.4 406,754.4 403.2,756.8 402.1,760.3 400.6,763.4 398.5,766.3 397.5,769.7 395.7,772.7 394.3,775.9 394,779.1 392.4,781.9 391.1,784.8 390.8,788 389.6,790.9 389.1,794.1 388.8,797.2 389.8,800.3 388.7,803.4 389,806.6 389.1,809.7 390.7,812.8 392.4,815.9 392.5,819.7 394.3,822.7 395.7,825.9 396.6,829.3 397.7,832.7 399.5,835.7 402.1,840.9"/>
<path d="M361.4,185 L365.1,186.1 368.8,187.3 372.2,188.8 375.1,190.9 377.7,193.5 380,196.6 382.1,199.8 384.3,202.9 386.9,205.6 389.8,207.7 393.2,209.3 396.8,210.5 395.5,212.3 391.8,211.1 388.5,209.5 385.5,207.4 383,204.7 380.8,201.6 378.7,198.4 376.4,195.3 373.8,192.7 370.9,190.6 367.5,189 363.8,187.9 360.1,186.8 Z"/>
<path d="M350.6,175.4 L352.5,176.5 354.7,176.7 356.3,178.2 358.2,179.8 360.3,180.3 362.7,180.2 364.7,180.9 366.5,182.1 368.6,182.6 370.6,183.5 372.2,184.8 373.4,186.6 375.1,188.1 375.7,190.4 377.3,191.9 379,193.4 379.1,196 381.1,197.3 383.3,198 384.7,199.5 385.9,201.3 388.2,201.4 389.6,203.5 391.8,203.8 394,204.2 396.1,205.1 398.2,205.8 400.2,206.4 401.9,207.9 403.9,208.5 405.5,209.9 407.3,211 408.4,212.9 409.8,214.6 411.2,216.3 412.2,218.4 410.9,220.1 409,218.8 408.9,216.1 407.1,214.7 405.9,213 404.3,211.5 402.6,210.3 401,208.7 398.7,208.7 396.8,207.5 394.7,207.1 392.6,206.4 390.5,205.6 388.4,205 386.7,203.6 384.6,203.1 382.3,202.5 381.4,200.4 379.8,199 378.6,197.2 377,195.6 376,193.7 373.9,192.5 373.8,189.9 372.1,188.4 369.9,187.8 369,185.6 367.3,184.4 365.1,184.2 363,183.6 361.4,181.9 359.1,181.9 356.9,181.5 355,180 352.8,179.7 351.4,177.8 349.3,177.2 Z"/>
<path d="M352.5,171.5 L354.8,171.4 356.6,173 358.7,173.4 360.9,173.5 362.5,175.3 364.6,175.7 366.1,177.1 368,178 369.5,179.4 370.5,181.2 371.9,182.8 373.3,184.4 375.3,185.7 375.7,188 377,189.8 378.3,191.4 379.9,192.6 381.4,194 382.9,195.6 384.9,196.3 387,196.8 389.1,197.2 391.3,197.5 393.2,198.6 395.4,198.7 396.8,200.8 399,201 400.4,202.6 402,203.7 403.8,204.9 405.1,206.5 406.3,208.3 407.6,210 409.3,211.4 410,213.5 411.3,215.3 410,217 408.1,215.7 407.7,213.4 406.3,211.8 405.2,209.9 404,208.1 402.5,206.6 400.6,205.7 398.8,204.7 397.7,202.8 395.6,202.3 394,200.9 391.9,200.4 389.8,199.8 387.9,198.7 385.7,198.5 383.7,197.7 381.9,196.9 380.1,195.8 379.2,193.8 376.7,193.4 375.7,191.5 373.9,190.1 373.4,187.9 372,186.2 370.9,184.4 369.3,182.9 368.1,181.1 366.6,179.8 364.8,178.8 363.3,177.4 361.5,176.4 359.6,175.2 357.4,175.1 355.5,173.9 353.4,173.6 351.2,173.2 Z"/>
<path d="M369.8,184.2 L371.8,186.9 374,189.2 376.6,191.1 379.5,192.5 382.6,193.6 385.9,194.6 389.1,195.6 392.1,196.8 394.9,198.5 397.3,200.5 399.5,203 401.4,205.7 400.1,207.5 398.2,204.8 396,202.3 393.6,200.2 390.8,198.6 387.8,197.4 384.6,196.4 381.3,195.4 378.2,194.3 375.3,192.8 372.7,191 370.5,188.7 368.5,186 Z"/>
<path d="M327.7,107.5 L329.4,104.9 331,102 334.2,104.2 334,106.8 333.4,109.3 333.1,111.9 334.2,115.1 334.2,118.5 332.6,121 332,123.9 332.6,126.9 334.2,129.4 333.4,132.7 333.1,136 333.2,138.9 332,141.5 333.1,144.2 334.2,146.9 336.1,149 337.5,151.3 336.2,153.8 334.2,155.7 331,152.4 331,149.6 330.4,147.1 328.8,144.8 328.3,142.1 330.1,139.7 329.9,137.1 329.7,134.1 328.9,131.3 328.8,128.3 328,125.8 328.3,123.2 327.7,120.7 328.1,117.4 328.8,114.1 328.5,110.8 327.7,107.5"/>
<path d="M338.6,108.6 L341.9,105.3 344.6,103.6 347.4,102 348.9,104.3 350.7,106.4 355,107.5 356.1,110.2 358.3,111.9 358.9,115.2 359.4,118.5 356.1,121.8 354,120.1 351.8,118.5 349.7,116.7 347.4,115.2 344.3,114 341.9,111.9 338.6,108.6"/>
<path d="M338.6,120.7 L339.8,123.2 340.5,125.9 341.9,128.3 341.2,130.8 341.8,133.5 340.8,136 342.4,138.3 342.5,141 343,143.7 344.5,146.8 345.2,150.2 341.9,151.3 340.8,147.8 338.6,144.8 338.6,141.8 338.1,138.9 337.5,136 337.8,133.4 338.2,130.9 337.4,128.3 338.1,125.8 337.8,123.2 338.6,120.7"/>
<path d="M356.1,130.5 L358.8,129.5 361.6,129.4 363.6,131.9 366,133.8 366.8,136.7 368.2,139.3 366,141.5 364.2,139.3 361.6,138.2 359.3,136 357.6,133.4 356.1,130.5"/>
<path d="M360.5,144.8 L362.9,146.5 363.9,149.4 366,151.3 367.6,153.3 369.1,155.5 371.5,156.8 373.9,158.3 376.1,160.1 378,162.3 379.7,164.2 381.7,165.8 384,166.9 385.7,168.9 387.7,170.8 390.2,172 392,174.2 394.5,175.4 397,176.2 399.1,177.7 400.7,180.1 403.2,180.9 405.6,182.3 407.6,184.2 403.2,183.1 400.5,182 398.4,179.7 395.6,178.7 393.1,176.7 390.1,175.6 387.9,173.2 386,171.5 384.3,169.7 381.8,168.8 380.2,166.7 378.5,164.8 376,163.9 374.3,162 372.6,160.1 369.8,158.4 367.8,156.1 366,153.5 365.4,150.9 363.1,149.2 362.6,146.5 360.5,144.8"/>
<path d="M372.6,154.6 L374.3,156.7 377.4,156.6 378.9,159.1 381.3,160.1 383.8,160.9 385.3,163.5 388.3,163.3 389.7,165.9 392.3,166.7 394.5,168.8 396.8,171 399.1,173.1 402.1,174.3 405,175.8 407.4,177.7 409.8,179.8 411.8,181.6 414.4,182.4 416.4,184.2"/>
<path d="M348.5,174.3 L351.2,175.9 353.6,177.9 356.1,179.8 358.7,181.6 361.1,183.6 363.6,185.4 366,187.5 368,189.3 370.6,190.4 372.4,192.6 374.8,194 377.6,195.6 379.4,198.2 381.3,200.6 383.2,202.3 385.1,204 385.9,206.6 387.9,208.3 390.3,209.9 391.9,212.5 393.9,214.6 396.7,215.9 399.1,217.2 400.6,219.8 402.9,221.3 405.4,222.5 407.4,224.7 410.4,225.7 412,228.2 414.2,230.2 416.2,231.8 418.8,232.8 420.8,234.6 423.8,235.2 426.7,236.4 429.5,237.8 429.5,240 426.8,239.7 424.5,238.1 421.8,237.8 418.8,236.6 415.9,235 413.1,233.5 411.1,231.6 409.2,229.5 406.3,228.8 404.3,226.9 401.6,225.6 400.5,222.4 398.1,220.7 395.6,219.2 393.7,217.2 391.2,215.9 388.7,214.7 386.8,212.7 384.5,211.5 382.7,209.6 381,207.8 379.1,206.1 376.7,205 375.5,202.5 373.7,200.8 371.5,199.5 368.9,198.2 368.1,195.2 365.7,193.8 363.8,191.8 362.1,189.4 359.4,188 357.6,185.7 355,184.2 353.2,182 351.6,179.7 349.6,177.6 348.5,174.3"/>
<path d="M369.3,186.4 L371.8,187.9 374.1,189.8 376.9,190.8 378.6,193.1 381.6,193.7 383.2,196.1 385.7,197.3 387.7,199.3 389.9,200.8 392.7,201.7 394.5,203.9 397.2,204.9 399,207 400.8,209.2 403.2,210.5 406,212 408.2,214.3 410.8,216 413.1,218.1 415.3,220.5 417.7,222.4 420.8,223.6 423.4,224.9 425.4,227.3 428.4,228 431,228.8 432.5,231.4 435,232.4 432.3,231.7 429.5,232.4 426.3,231.5 423.8,229.1 420.8,228 418.6,226.5 416.8,224.6 413.9,224.3 412,222.5 409.8,220.8 408,218.7 405.6,217.4 403.2,215.9 400.8,214.6 398.4,213.3 397.1,210.4 394.5,209.4 392.3,207.8 390.6,205.4 387.5,205 385.7,202.8 383.9,200.7 381.7,199.1 379.6,197.3 376.9,196.2 374.3,194.3 372.9,191.4 370.6,189.3 369.3,186.4"/>
<path d="M383.5,201.7 L386,202.7 387.7,204.9 390.1,206.1 392.5,207.5 394.8,208.9 396.7,211 398.9,212.7 400.5,214.6 402.2,216.5 403.8,218.4 405.4,220.3 403.2,223.6 400.8,222.1 398.6,220.3 396.7,218.1 394.7,215.7 392.1,214 390.1,211.6 388.5,209.5 386.8,207.5 384.6,206.1 383.5,201.7"/>
<path d="M356.1,169.9 L358.9,169.7 361.6,168.9 363.5,170.9 366,172.1 363.8,175.4 361.1,174.8 358.3,174.3 356.1,169.9"/>
<path d="M381.3,177.6 L384.7,177.8 387.9,176.5 391,178.5 394.5,179.8 395.1,182.7 396.7,185.3 393.8,185.1 391.2,186.4 388.2,185.1 385.7,183.1 383.7,180.2 381.3,177.6"/>
<path d="M363.8,199.5 L366.1,200.7 367.4,203.1 369.4,204.6 371.5,206.1 373.4,207.7 375.6,209 376.9,211.4 379.1,212.7 381,214.7 383.5,216 385.7,217.6 387.9,219.2 390.4,220.5 392.8,221.8 394.6,224 396.7,225.8 398.8,227.3 401.5,227.9 403,230.4 405.4,231.3 408.6,232.3 411.5,233.8 414.2,235.7"/>
<path d="M352.9,183.1 L354.5,185.5 357.6,186.2 359.4,188.6 361.9,189.6 362.7,192.5 365.5,193.1 367.1,195.1 369.5,196.3 370.7,198.6 373,199.9 374.8,201.7 376.2,204.1 378.9,205.2 379.9,208 382.4,209.4"/>
<path d="M347.4,90 L345.6,93 345.2,96.6 342.4,98.2 340.3,100.5 338.6,103.1 338.8,106 337.5,108.6"/>
<path d="M484.6,263.2 L487.7,263.3 490.7,263.3 493.6,261.8 496.7,262.1 499.2,263.6 502.2,262.7 504.8,264.1 507.6,264.3 510.5,264.7 512.5,266.9 515.3,267.6 516.4,270.9 514.5,272.8 512,273.6 509.3,273.4 506.7,273.4 504.1,273.5 501.5,274.2 498.9,274.2 496.1,272.8 493.2,271.9 490.1,272 487.4,270.3 485.7,267.6 484.6,263.2"/>
<path d="M466,261 L469.3,261.4 472.6,262.1 474.3,264.4 476.9,265.4 480,267.1 483.5,267.6 485.7,270.9 482.3,270.9 479.1,269.8 476.2,267.6 472.6,266.5 470,264.7 467.1,263.2 466,261"/>
<path d="M474.8,281.8 L478.2,281.2 481.3,279.7 484.1,278.4 487,277.7 490.1,277.5 493.3,278.2 496.7,278.6 499.8,279.5 502.1,281.8 504.8,282.9 507.5,283.4 510.5,282.7 513.1,284 515.8,284.6 518.6,284.6 521.3,285.1 524,285.1 526.6,286.2 529.2,286.4 531.9,285.6 534.5,286.6 537.2,286.2 534.5,286.3 531.9,286.5 529.5,287.9 526.8,288.7 524,287.1 521.3,288.4 518.6,287.9 515.8,288.3 513.1,287.1 510.4,286.4 507.6,286.8 505,285.6 502.1,286.2 499.5,285 496.7,285.1 493.6,285.4 491,283.2 487.9,283.5 484.6,284.1 481.3,284 478.1,282.9 474.8,281.8"/>
<path d="M474.8,250.1 L478.1,249.5 481.3,248.4 485.7,250.1 481.3,252.3 478.6,251.9 475.9,252.3 474.8,250.1"/>
<path d="M380,206.6 L382.6,207.3 384.7,208.7 386.5,210.8 389.1,211.6 391.3,212.9 393.1,214.8 395.4,216.1 397.6,217.4 400,218.5 402,220.1 403.8,222.2 406.3,223 408.8,223.9 410.8,225.3 413.1,226.5 415,228.2 417.2,229.4 418.5,232.2 421.1,232.9 424,234.2 426.1,236.9 429.3,237.8 432.7,238 435.9,239.4"/>
<path d="M169.5,149.1 L172.6,147 176.7,146 179.8,149.1 180.8,153.2 179.2,155.2 177.7,157.3 175.2,158.1 172.6,158.3 169.5,155.3 170.1,152.2 169.5,149.1"/>
<path d="M242.4,51.6 L245,50.6 247.5,49.5 250.2,49.6 252.7,50.5 255.6,50.4 258.1,52.2 260.9,52.6 264.1,53.1 267,54.6 264,55.1 260.9,54.6 258.1,54.1 255.5,53 252.7,52.6 249.3,52.8 246.5,54.6 244.4,53.2 242.4,51.6"/>
<path d="M185.9,75.2 L187.8,72.5 190.3,70.5 193.1,69 196.1,67.8 199.3,67 201.3,70 198.6,71.3 196.2,73.1 193.5,75.7 190,77.2 185.9,75.2"/>
<path d="M183.9,103.9 L185.6,106.8 185.9,110.1 187.9,111.8 189,114.2 191.3,115.4 193.1,117.3 191.1,119.3 189.4,117.2 187,116.2 185.7,113.7 184.4,111.1 184.5,107.5 183.9,103.9"/>
<path d="M277.3,104.4 L280.1,104.7 282.9,104.9 285.8,105.4 288.6,104.9"/>
<path d="M496.6,298.6 L499.6,298.8 502.5,299 505.5,299.7 508.4,299.9 511.4,299.4 514.2,299.6 516.6,298.2 519.5,298.7 521.9,297.3 524.6,296.9 527.5,297 530.4,297 533.2,298.2 536.1,298.6 537.5,300.8 537.7,303.5 534.5,304.4 531.1,304.4 527.8,305.1 525.1,304.6 522.4,304.7 519.6,305.9 516.9,305.9 514.2,305.6 511.4,305.1 508.1,305 504.8,304.5 501.6,305.1 498.3,301.8 496.6,298.6"/>
<path d="M524.6,293.6 L527.2,294.4 529.7,295.4 532.3,296 534.9,296.9 537.7,296.9 540.7,297.4 543.2,299.4 546.3,299.5 549.2,300.2 551.7,302.2 554.4,303.9 557.4,305.1 554.1,304.4 550.8,305.1 548.2,304.7 545.8,303.7 543.6,302.3 541,301.8 538.4,300.7 535.9,299.5 533,299.1 530.8,297.1 527.8,296.9 524.6,293.6"/>
<path d="M549.2,316.6 L552.1,316.7 554.8,318.3 557.7,318.7 560.7,318.3 563.2,319.8 566,320.4 568.7,321.4 571.9,320.7 574.3,322.6 577.1,323.2 578.8,325.7 575.4,325.6 572.3,324.2 568.9,324 566.4,323.5 564,322.6 561.5,321.9 559.1,321.2 556.7,320 554.1,319.9 552.1,317.6 549.2,316.6"/>
<path d="M509.8,318.3 L512.5,318.3 515.2,317 518,317.5 521.2,318.5 524.6,319.1 521.3,321.6 518.5,320.9 515.8,321 513.1,321.6 509.8,318.3"/>
<path d="M457.2,292.8 L460.1,292.9 462.9,292.3 465.9,292.6 468.7,292 469.5,295.3 466.7,296.6 463.4,296 460.5,296.9 458.7,295 457.2,292.8"/>
<path d="M796,654.1 L797.3,651.6 799.5,649.8 803,650 806.4,650.6 808.6,653 809.9,655.9 809.2,659.4 808.2,662.8 804.7,663.6 801.2,664.6 798.7,662.6 796,661.1 795.5,657.6 796,654.1"/>
<path d="M813.1,664.6 L809.8,665.5 806.4,666.3 803.7,667.5 802.3,670.5 799.5,671.6 796.1,672.8 792.5,673.3 790.1,675 788.8,677.5 787.8,680.3 785.5,682 784.9,684.7 783.1,687 783,689.9 782,692.5 785.1,693.5 787.3,696 790.7,696.7 794.2,696 796.5,693.7 799.5,692.5 800.8,690.3 802,687.9 802.9,685.5 805.5,683.7 808.2,682 810.9,681.9 813.1,680.3"/>
<path d="M768.1,730.8 L768.6,728 769,725.1 769.6,722.3 771.6,719.9 771.6,716.9 773.4,714.8 775.3,712.7 776.9,710.4 778.5,708.2 782,707.1 785.5,706.4 786.6,708.7 788.2,710.7 789.3,713 790.8,715 792.5,716.9 793,719.9 794.7,722.4 796.2,725 797.3,727.8 797.7,730.8 798.2,733.6 800,735.9 800.1,738.8 801.2,741.3 798.5,742 796,743 793.4,741.9 792.1,739.2 789.2,738.4 788,735.6 785.5,734.3 782.2,732.9 778.5,732.6 775,734.3 772.5,733.6 770.6,731.6 768.1,730.8"/>
<path d="M787.3,758.7 L790,757.2 792.5,755.2 795.4,757 797.4,759.6 799.5,762.2 802.1,764.2 803.8,767.2 806.4,769.2 807.9,772 809.9,774.4 807.2,775.6 805.7,778.5 802.9,779.6 800.6,778.6 797.9,778.1 796,776.2 793.3,774.2 791.3,771.5 789,769.2 787.7,766.7 787.6,764 788,761.3 787.3,758.7"/>
<path d="M738.4,615.8 L741.5,615.5 744.2,617.3 747.2,617.5 748.9,619.6 749.5,622.1 750.6,624.5 747.2,623.3 743.7,622.8 742.4,620.1 740.1,618.2 738.4,615.8"/>
<path d="M752.4,638.4 L755.1,639.2 757.6,640.2 758.9,643.3 760.2,646.3 755.9,645.4 755.3,642.8 753,641 752.4,638.4"/>
<path d="M789,706.4 L790.5,708.6 791.3,711.1 792.5,713.4 793.8,716.2 793.9,719.2 794.2,722.1 790.7,720.4 789.1,717.1 789,713.4"/>
<path d="M806.4,689 L807,691.6 808.9,693.6 809.9,696"/>
<path d="M804.7,692.5 L806.1,694.7 807.1,697.1 808.2,699.5"/>
</g>
<g fill="#000">
<circle cx="246.1" cy="684.8" r="2.1"/>
<circle cx="331.9" cy="699.2" r="2.1"/>
<circle cx="347.5" cy="696.6" r="2.1"/>
<circle cx="368.3" cy="697.9" r="2.1"/>
<circle cx="374.8" cy="704.4" r="2.1"/>
<circle cx="377.4" cy="713.5" r="2.1"/>
<circle cx="385.2" cy="691.3" r="2.1"/>
<circle cx="395.6" cy="677" r="2.1"/>
<circle cx="165.4" cy="751.2" r="2.1"/>
<circle cx="184.9" cy="753.8" r="2.1"/>
<circle cx="186.2" cy="748.6" r="2.1"/>
<circle cx="195.3" cy="760.3" r="2.1"/>
<circle cx="97.8" cy="365" r="2.1"/>
<circle cx="416.4" cy="376.7" r="2.1"/>
<circle cx="433.3" cy="367.6" r="2.1"/>
<circle cx="231.8" cy="486" r="2.1"/>
<circle cx="223.9" cy="483.4" r="2.1"/>
<circle cx="324.1" cy="518.5" r="2.1"/>
<circle cx="170.6" cy="471.7" r="2.1"/>
<circle cx="266.9" cy="497.7" r="2.1"/>
<circle cx="488.4" cy="319.1" r="2.1"/>
<circle cx="534.4" cy="318.3" r="2.1"/>
<circle cx="432.6" cy="295.3" r="2.1"/>
<circle cx="412.9" cy="289.5" r="2.1"/>
</g>
<rect x="447.5" y="289.9" width="291.5" height="233.5" fill="none" stroke="#000" stroke-width="3"/>
<rect x="658" y="320.5" width="142" height="30.5" fill="#fff"/>
<g font-family="'Liberation Sans', Arial, sans-serif" font-weight="bold" fill="#000">
<text x="660.5" y="345" font-size="27.5">Dubrovnik</text>
<text x="514.5" y="425.3" font-size="44.5">SAP</text>
<text x="473.1" y="498.2" font-size="28">Bari</text>
<text x="630.4" y="596.7" font-size="27.5">Otranto</text>
<text x="630.6" y="627.5" font-size="27.5">channel</text>
<text transform="translate(205.1,146.3) rotate(33.4)" font-size="44">Adriatic sea</text>
<text transform="translate(435.4,122.9) rotate(33.4)" font-size="44">CROATIA</text>
<text transform="translate(199.9,338.9) rotate(33.4)" font-size="44.5">ITALY</text>
</g>
<g font-family="'Liberation Sans', Arial, sans-serif" font-size="24" fill="#000">
<text transform="translate(526.4,344.1) rotate(-14)" x="0" y="8.5" text-anchor="middle">200</text>
<text transform="translate(622.7,407.1) rotate(66)" x="0" y="8.5" text-anchor="middle">1000</text>
<text transform="translate(649.3,451.4) rotate(77)" x="0" y="8.5" text-anchor="middle">500</text>
<text transform="translate(599,632.4) rotate(40)" x="0" y="8.5" text-anchor="middle">2000</text>
<text transform="translate(680.4,673) rotate(20)" x="0" y="8.5" text-anchor="middle">1500</text>
<text transform="translate(571.6,726.8) rotate(-68)" x="0" y="8.5" text-anchor="middle">2000</text>
</g></g>
<g clip-path="url(#clipB)"><g fill="none" stroke="#9a9a9a" stroke-width="1.1" stroke-dasharray="9,2,1.5,2">
<path d="M256.1,1107.3 C260.2,1106.4 272.5,1104.1 280.7,1102.1 C288.8,1100 297.6,1097.4 305.2,1095 C312.8,1092.7 318,1090.1 326.2,1088 C334.4,1086 344.3,1084.2 354.2,1082.8 C364.2,1081.3 374.7,1079.9 385.8,1079.3 C396.9,1078.7 409.2,1079 420.8,1079.3 C432.5,1079.6 444.2,1079.6 455.9,1081 C467.6,1082.5 480.4,1085.1 490.9,1088 C501.4,1091 510.2,1094.5 519,1098.5 C527.7,1102.6 536.5,1107.3 543.5,1112.6 C550.5,1117.8 555.8,1123.7 561,1130.1 C566.3,1136.5 570.4,1144.1 575,1151.1 C579.7,1158.1 584.4,1164.5 589,1172.1 C593.7,1179.7 599,1188.5 603.1,1196.7 C607.2,1204.9 610.1,1213 613.6,1221.2 C617.1,1229.4 620.6,1237.6 624.1,1245.7 C627.6,1253.9 631.1,1261.5 634.6,1270.3 C638.1,1279 641.6,1289.5 645.1,1298.3 C648.6,1307.1 652.7,1314.1 655.6,1322.8 C658.6,1331.6 660.2,1342.1 662.6,1350.9 C665,1359.6 668.8,1371.3 670,1375.4"/>
<path d="M256.1,1109.1 C257.3,1112.6 262.5,1123.1 263.1,1130.1 C263.7,1137.1 258.5,1145.3 259.6,1151.1 C260.8,1157 267.2,1160.5 270.1,1165.1 C273.1,1169.8 276.6,1173.3 277.2,1179.2 C277.7,1185 273.1,1193.8 273.6,1200.2 C274.2,1206.6 278.9,1211.9 280.7,1217.7 C282.4,1223.5 282.4,1228.8 284.2,1235.2 C285.9,1241.6 289.4,1249.2 291.2,1256.2 C292.9,1263.3 292.3,1270.3 294.7,1277.3 C297,1284.3 301.1,1292.5 305.2,1298.3 C309.3,1304.1 314.5,1307.6 319.2,1312.3 C323.9,1317 329.1,1322.2 333.2,1326.3 C337.3,1330.4 340.2,1333.3 343.7,1336.9 C347.2,1340.4 350.2,1345 354.2,1347.4 C358.3,1349.7 364.8,1347.9 368.3,1350.9 C371.8,1353.8 371.8,1361.4 375.3,1364.9 C378.8,1368.4 384.6,1369 389.3,1371.9 C394,1374.8 398.1,1379.5 403.3,1382.4 C408.6,1385.3 415,1387.1 420.8,1389.4 C426.7,1391.8 432.5,1394.1 438.4,1396.4 C444.2,1398.8 450,1401.1 455.9,1403.4 C461.7,1405.8 467.6,1407.5 473.4,1410.4 C479.2,1413.4 485.1,1417.5 490.9,1421 C496.8,1424.5 502.6,1427.4 508.4,1431.5 C514.3,1435.6 520.1,1440.2 526,1445.5 C531.8,1450.7 538.2,1457.2 543.5,1463 C548.7,1468.9 553.4,1474.7 557.5,1480.5 C561.6,1486.4 565.4,1492.8 568,1498.1 C570.6,1503.3 572.4,1509.7 573.3,1512.1"/>
<path d="M305.2,1130.1 C308.1,1127.8 314.5,1120.5 322.7,1116.1 C330.9,1111.7 343.7,1106.1 354.2,1103.8 C364.8,1101.5 374.7,1102.3 385.8,1102.1 C396.9,1101.8 409.2,1101.8 420.8,1102.1 C432.5,1102.3 444.8,1102.6 455.9,1103.8 C467,1105 478.7,1106.4 487.4,1109.1 C496.2,1111.7 502,1114.9 508.4,1119.6 C514.9,1124.2 521.3,1130.7 526,1137.1 C530.6,1143.5 533.6,1151.7 536.5,1158.1 C539.4,1164.5 540,1169.8 543.5,1175.6 C547,1181.5 552.8,1187.3 557.5,1193.2 C562.2,1199 567.4,1203.7 571.5,1210.7 C575.6,1217.7 579.1,1227.6 582,1235.2 C585,1242.8 586.1,1248.1 589,1256.2 C592,1264.4 596.1,1274.9 599.6,1284.3 C603.1,1293.6 607.2,1303 610.1,1312.3 C613,1321.7 614.7,1331 617.1,1340.4 C619.4,1349.7 621.8,1359 624.1,1368.4 C626.4,1377.7 628.2,1387.1 631.1,1396.4 C634,1405.8 638.1,1415.1 641.6,1424.5 C645.1,1433.8 649.2,1443.2 652.1,1452.5 C655,1461.8 656.8,1470.6 659.1,1480.5 C661.5,1490.5 665,1506.8 666.1,1512.1"/>
<path d="M305.2,1130.1 C304.6,1133.6 301.1,1145.3 301.7,1151.1 C302.3,1157 306.9,1157 308.7,1165.1 C310.4,1173.3 311.6,1189.7 312.2,1200.2 C312.8,1210.7 311,1218.9 312.2,1228.2 C313.4,1237.6 316.9,1246.9 319.2,1256.2 C321.5,1265.6 322.7,1276.1 326.2,1284.3 C329.7,1292.5 335,1298.3 340.2,1305.3 C345.5,1312.3 351.9,1320.5 357.8,1326.3 C363.6,1332.2 368.9,1335.1 375.3,1340.4 C381.7,1345.6 390.5,1353.2 396.3,1357.9 C402.1,1362.6 408,1366.6 410.3,1368.4"/>
<path d="M368.3,1144.1 C371.2,1141.8 379.9,1133 385.8,1130.1 C391.6,1127.2 394.6,1126.9 403.3,1126.6 C412.1,1126.3 427.8,1128.3 438.4,1128.3 C448.9,1128.3 457.6,1126.3 466.4,1126.6 C475.2,1126.9 483.9,1127.8 490.9,1130.1 C497.9,1132.4 503.8,1135.9 508.4,1140.6 C513.1,1145.3 515.5,1152.3 519,1158.1 C522.5,1164 526,1169.8 529.5,1175.6 C533,1181.5 535.9,1187.3 540,1193.2 C544.1,1199 549.3,1204.3 554,1210.7 C558.7,1217.1 563.9,1225.3 568,1231.7 C572.1,1238.1 575,1242.8 578.5,1249.2 C582,1255.7 586.1,1263.3 589,1270.3 C592,1277.3 595.5,1284.3 596.1,1291.3 C596.6,1298.3 593.7,1305.3 592.6,1312.3 C591.4,1319.3 591.4,1326.3 589,1333.3 C586.7,1340.4 583.2,1348.5 578.5,1354.4 C573.9,1360.2 568,1364.9 561,1368.4 C554,1371.9 545.2,1373.9 536.5,1375.4 C527.7,1376.9 516.6,1377.2 508.4,1377.2 C500.3,1377.2 490.9,1375.7 487.4,1375.4"/>
<path d="M424.3,1340.4 C422,1339.8 414.4,1339.2 410.3,1336.9 C406.2,1334.5 402.1,1330.4 399.8,1326.3 C397.5,1322.2 394.6,1317 396.3,1312.3 C398.1,1307.6 407.4,1303 410.3,1298.3 C413.2,1293.6 415,1287.8 413.8,1284.3 C412.7,1280.8 407.4,1279.6 403.3,1277.3 C399.2,1274.9 392.8,1274.4 389.3,1270.3 C385.8,1266.2 384.6,1259.8 382.3,1252.7 C379.9,1245.7 377,1237 375.3,1228.2 C373.5,1219.5 373.5,1208.9 371.8,1200.2 C370,1191.4 365.9,1182.7 364.8,1175.6 C363.6,1168.6 364.2,1163.4 364.8,1158.1 C365.3,1152.9 367.7,1146.4 368.3,1144.1"/>
<path d="M333.2,1326.3 C334.4,1328.7 336.7,1335.1 340.2,1340.4 C343.7,1345.6 349.6,1353.8 354.2,1357.9 C358.9,1362 363.6,1362 368.3,1364.9 C372.9,1367.8 377.6,1371.3 382.3,1375.4 C387,1379.5 391.6,1385.9 396.3,1389.4 C401,1392.9 405.1,1393.5 410.3,1396.4 C415.6,1399.3 422,1403.4 427.8,1406.9 C433.7,1410.4 439.5,1413.4 445.4,1417.5 C451.2,1421.5 457,1426.8 462.9,1431.5 C468.7,1436.1 475.2,1440.8 480.4,1445.5 C485.7,1450.2 489.8,1454.8 494.4,1459.5 C499.1,1464.2 503.8,1468.3 508.4,1473.5 C513.1,1478.8 517.8,1484.6 522.5,1491 C527.1,1497.5 534.1,1508.6 536.5,1512.1"/>
<path d="M500,1408.9 C501.9,1410 508.1,1413.5 511.6,1415.9 C515.1,1418.2 518,1419.7 520.9,1422.8 C523.9,1425.9 526.4,1431.8 529.1,1434.5 C531.8,1437.2 533.9,1437.6 537.2,1439.1 C540.5,1440.7 545.4,1442.2 548.9,1443.8 C552.4,1445.3 554.7,1446.9 558.2,1448.4 C561.7,1450 565.9,1451.1 569.8,1453.1 C573.7,1455 578.3,1457.7 581.5,1460.1 C584.6,1462.4 586.5,1464.3 588.4,1467 C590.4,1469.8 591.5,1472.9 593.1,1476.4 C594.6,1479.8 596.6,1483.3 597.7,1488 C598.9,1492.6 599.7,1501.6 600.1,1504.3"/>
<path d="M500,1414.7 C501.9,1415.7 508.7,1418 511.6,1420.5 C514.5,1423 515.5,1426.3 517.5,1429.8 C519.4,1433.3 521.1,1438.5 523.3,1441.5 C525.4,1444.4 526.8,1445.9 530.3,1447.3 C533.7,1448.6 540.5,1447.9 544.2,1449.6 C547.9,1451.3 549.1,1455 552.4,1457.7 C555.7,1460.5 560.7,1464.6 564,1465.9 C567.3,1467.1 569.2,1464.3 572.1,1465.3 C575.1,1466.3 578.7,1468.9 581.5,1471.7 C584.2,1474.5 586.5,1478.5 588.4,1482.2 C590.4,1485.9 591.9,1490.1 593.1,1493.8 C594.3,1497.5 595,1502.5 595.4,1504.3"/>
<path d="M625.7,1360 C626.1,1362.3 626.6,1368.1 628,1374 C629.4,1379.8 632.3,1388.5 633.8,1394.9 C635.4,1401.3 635.4,1405 637.3,1412.4 C639.2,1419.7 642.3,1432.3 645.4,1439.1 C648.6,1445.9 652.4,1448.4 655.9,1453.1 C659.4,1457.7 664.6,1464.7 666.4,1467"/>
<path d="M653.6,1360 C653.4,1362.9 652.2,1371.6 652.4,1377.5 C652.6,1383.3 653.4,1390.4 654.8,1394.9 C656.1,1399.4 658.6,1401.5 660.6,1404.2 C662.5,1406.9 665.4,1410 666.4,1411.2"/>
</g>
<g fill="none" stroke="#222" stroke-width="1.3" stroke-linejoin="round">
<path d="M254.8,889.7 L265.6,896 279.9,901.3 287.1,904 310.4,905.8 310.5,905.8 322.6,917.1 333.1,926.2 345.2,939.7 354.2,948.7 367.8,956.3 379.8,962.3 390.3,971.3 399.4,977.3 405.4,980.4 411.4,989.4 420.5,998.4 435.5,1007.5 444.6,1013.5 450.6,1018 456.6,1022.5 464.1,1030.1 473.2,1031.6 480.7,1037.6 489.7,1043.6 498.8,1049.6 507.8,1054.1 513.8,1058.7 520,1061.7 529.5,1067 543.5,1074 564.5,1084.5 582,1091.5 596.1,1096.8 606.6,1095 613.6,1088 624.1,1089.8 627.6,1098.5 620.6,1103.8 613.6,1102.1 610.1,1105.6 631.1,1116.1 648.6,1130.1 662.6,1147.6 670,1155.3"/>
<path d="M190.3,905.8 L197.5,904 204.6,904 211.8,907.6 219,912.1 226.1,917.5 229.7,921.1 226.1,922.9 219,919.3 211.8,915.7 204.6,912.1 197.5,909.4 192.1,907.6 Z"/>
<path d="M233.3,908.5 L247.7,908.2 265.6,909.4 283.5,912.1 297.9,916.6 310.4,922 311.3,926.5 305,931.8 283.5,934.5 265.6,934.5 251.3,932.7 242.3,928.2 235.1,922.9 231.5,919.3 236.9,915.7 Z"/>
<path d="M213.6,952.5 L224.4,948.9 233.3,946.2 247.7,945.3 254.8,940.8 265.6,944.4 272.8,946.2 276.4,953.4 283.5,956 301.5,956.9 319.4,957.8 337.3,958.7 355.3,960.5 362.4,962.3 355.3,965 337.3,965.9 319.4,965.9 301.5,964.1 283.5,963.2 265.6,961.4 247.7,958.7 236.9,956 226.1,955.1 219,956 Z"/>
<path d="M272.8,969.5 L279.9,968.6 285.3,970.4 279.9,972.2 273.7,971.3 Z"/>
<path d="M168.8,976.7 L179.5,973.1 190.3,972.2 201,973.1 204.6,978.5 201,983.8 190.3,985.6 179.5,986.5 172.3,987.4 170.6,983.8 172.3,980.3 Z"/>
<path d="M263.8,991 L272.8,990.1 283.5,992.8 301.5,995.5 319.4,994.6 337.3,992.8 351.7,994.6 315.1,993.9 337.6,993.2 354.2,996.9 363.2,1001.4 363.2,1006 352.7,1007.5 330.1,1004.5 315.1,1007.5 306,1009 319.4,1006.3 301.5,1008.9 283.5,1008.9 272.8,1005.4 269.2,1000 267.4,994.6 Z"/>
<path d="M331.6,979.6 L339.2,983.4 360.2,984.9 375.3,987.9 390.3,993.9 405.4,998.4 420.5,1004.5 435.5,1012 447.6,1019.5 456.6,1025.5 459.6,1031.6"/>
<path d="M331.6,979.6 L334.6,983.4 331.6,986.4 345.2,990.9 364.8,992.4 375.3,998.4 390.3,1006 402.4,1007.5 405.4,1012 420.5,1016.5 435.5,1022.5 447.6,1027 456.6,1031.6"/>
<path d="M294.3,1034.9 L305,1034 315.8,1035.8 326.6,1034.9 319.4,1039.4 312.2,1044.8 301.5,1044.8 297.9,1041.2 Z"/>
<path d="M385.8,1031.6 L393.4,1029.3 405.4,1033.1 420.5,1037.6 435.5,1042.1 450.6,1046.6 458.1,1051.1 450.6,1051.9 435.5,1048.1 420.5,1045.1 405.4,1040.6 393.4,1037.6 386.6,1035.3 Z"/>
<path d="M464.1,1030.1 L473.2,1039.1 483.7,1046.6 486.7,1049.6 480.7,1048.9 471.7,1042.1 465.6,1036.1 Z"/>
<path d="M168.8,896 L175.9,895.1 183.1,896 188.5,897.8 184.9,901.3 179.5,900.4 Z"/>
<path d="M158,990.1 L161.6,991 162.5,994.6 159.8,996.4 158,995.5"/>
<path d="M158,1203.7 L172,1205.4 186,1214.2 193,1224.7 191.3,1238.7 182.5,1252.7 168.5,1259.8 158,1263.3"/>
<path d="M158,1312.3 L179,1319.3 200.1,1329.8 228.1,1340.4 256.1,1350.9 280.7,1361.4 305.2,1368.4 326.2,1375.4 347.2,1382.4 368.3,1392.9 389.3,1403.4 410.3,1413.9 431.3,1424.5 452.4,1438.5 473.4,1452.5 490.9,1466.5 497.9,1473.5 508.4,1480.5 515.5,1491 522.5,1501.6 529.5,1512.1"/>
</g>
<g font-family="'Liberation Sans', Arial, sans-serif" font-size="25" fill="#000">
<text transform="translate(336.5,1117) rotate(-40)" x="0" y="9" text-anchor="middle">500</text>
<text transform="translate(300.5,1240) rotate(75)" x="0" y="9" text-anchor="middle">200</text>
<text transform="translate(457.5,1360.4) rotate(27)" x="0" y="9" text-anchor="middle">1000</text>
</g>
<path d="M432,1152.3 l5.5,5.5 l-5.5,5.5 l-5.5,-5.5 z M416.5,1184.5 l5.5,5.5 l-5.5,5.5 l-5.5,-5.5 z M435.1,1195.7 l5.5,5.5 l-5.5,5.5 l-5.5,-5.5 z M445,1185.8 l5.5,5.5 l-5.5,5.5 l-5.5,-5.5 z M448.7,1168.4 l5.5,5.5 l-5.5,5.5 l-5.5,-5.5 z M472.3,1143.6 l5.5,5.5 l-5.5,5.5 l-5.5,-5.5 z M471,1149.8 l5.5,5.5 l-5.5,5.5 l-5.5,-5.5 z M468.5,1154.8 l5.5,5.5 l-5.5,5.5 l-5.5,-5.5 z M479.7,1153.5 l5.5,5.5 l-5.5,5.5 l-5.5,-5.5 z M452.4,1168.4 l5.5,5.5 l-5.5,5.5 l-5.5,-5.5 z M458.6,1170.9 l5.5,5.5 l-5.5,5.5 l-5.5,-5.5 z M464.8,1172.1 l5.5,5.5 l-5.5,5.5 l-5.5,-5.5 z M468.5,1168.4 l5.5,5.5 l-5.5,5.5 l-5.5,-5.5 z M487.1,1175.9 l5.5,5.5 l-5.5,5.5 l-5.5,-5.5 z M498.3,1185.8 l5.5,5.5 l-5.5,5.5 l-5.5,-5.5 z M474.7,1188.3 l5.5,5.5 l-5.5,5.5 l-5.5,-5.5 z M445,1184.5 l5.5,5.5 l-5.5,5.5 l-5.5,-5.5 z M493.3,1198.2 l5.5,5.5 l-5.5,5.5 l-5.5,-5.5 z M466.1,1203.2 l5.5,5.5 l-5.5,5.5 l-5.5,-5.5 z M476,1203.2 l5.5,5.5 l-5.5,5.5 l-5.5,-5.5 z M474.7,1208.1 l5.5,5.5 l-5.5,5.5 l-5.5,-5.5 z M523.1,1194.5 l5.5,5.5 l-5.5,5.5 l-5.5,-5.5 z M518.2,1203.2 l5.5,5.5 l-5.5,5.5 l-5.5,-5.5 z M524.4,1206.9 l5.5,5.5 l-5.5,5.5 l-5.5,-5.5 z M515.7,1213.1 l5.5,5.5 l-5.5,5.5 l-5.5,-5.5 z M535.5,1206.9 l5.5,5.5 l-5.5,5.5 l-5.5,-5.5 z M482.2,1220.5 l5.5,5.5 l-5.5,5.5 l-5.5,-5.5 z M487.1,1223 l5.5,5.5 l-5.5,5.5 l-5.5,-5.5 z M508.2,1223 l5.5,5.5 l-5.5,5.5 l-5.5,-5.5 z M504.5,1162.2 l5.5,5.5 l-5.5,5.5 l-5.5,-5.5 z M391.7,1235.6 l5.5,5.5 l-5.5,5.5 l-5.5,-5.5 z M394.1,1243 l5.5,5.5 l-5.5,5.5 l-5.5,-5.5 z M397.9,1250.5 l5.5,5.5 l-5.5,5.5 l-5.5,-5.5 z M402.8,1255.4 l5.5,5.5 l-5.5,5.5 l-5.5,-5.5 z M409,1228.1 l5.5,5.5 l-5.5,5.5 l-5.5,-5.5 z M406.6,1230.6 l5.5,5.5 l-5.5,5.5 l-5.5,-5.5 z M400.3,1233.1 l5.5,5.5 l-5.5,5.5 l-5.5,-5.5 z M435.1,1260.4 l5.5,5.5 l-5.5,5.5 l-5.5,-5.5 z M428.9,1269.1 l5.5,5.5 l-5.5,5.5 l-5.5,-5.5 z M436.3,1271.6 l5.5,5.5 l-5.5,5.5 l-5.5,-5.5 z M425.2,1303.8 l5.5,5.5 l-5.5,5.5 l-5.5,-5.5 z M446.3,1300.1 l5.5,5.5 l-5.5,5.5 l-5.5,-5.5 z M438.8,1244.3 l5.5,5.5 l-5.5,5.5 l-5.5,-5.5 z M441.3,1251.7 l5.5,5.5 l-5.5,5.5 l-5.5,-5.5 z M419,1245.5 l5.5,5.5 l-5.5,5.5 l-5.5,-5.5 z M480.9,1221.9 l5.5,5.5 l-5.5,5.5 l-5.5,-5.5 z M487.1,1219.5 l5.5,5.5 l-5.5,5.5 l-5.5,-5.5 z M508.2,1225.7 l5.5,5.5 l-5.5,5.5 l-5.5,-5.5 z M500.8,1233.1 l5.5,5.5 l-5.5,5.5 l-5.5,-5.5 z M505.8,1238.1 l5.5,5.5 l-5.5,5.5 l-5.5,-5.5 z M502,1244.3 l5.5,5.5 l-5.5,5.5 l-5.5,-5.5 z M497.1,1249.2 l5.5,5.5 l-5.5,5.5 l-5.5,-5.5 z M516.9,1235.6 l5.5,5.5 l-5.5,5.5 l-5.5,-5.5 z M524.4,1234.4 l5.5,5.5 l-5.5,5.5 l-5.5,-5.5 z M529.3,1235.6 l5.5,5.5 l-5.5,5.5 l-5.5,-5.5 z M539.3,1230.6 l5.5,5.5 l-5.5,5.5 l-5.5,-5.5 z M524.4,1243 l5.5,5.5 l-5.5,5.5 l-5.5,-5.5 z M480.9,1249.2 l5.5,5.5 l-5.5,5.5 l-5.5,-5.5 z M484.7,1255.4 l5.5,5.5 l-5.5,5.5 l-5.5,-5.5 z M487.1,1260.4 l5.5,5.5 l-5.5,5.5 l-5.5,-5.5 z M489.6,1265.4 l5.5,5.5 l-5.5,5.5 l-5.5,-5.5 z M452.4,1249.2 l5.5,5.5 l-5.5,5.5 l-5.5,-5.5 z M463.6,1231.9 l5.5,5.5 l-5.5,5.5 l-5.5,-5.5 z M447.4,1233.1 l5.5,5.5 l-5.5,5.5 l-5.5,-5.5 z M440,1260.4 l5.5,5.5 l-5.5,5.5 l-5.5,-5.5 z M452.4,1266.6 l5.5,5.5 l-5.5,5.5 l-5.5,-5.5 z M462.3,1271.6 l5.5,5.5 l-5.5,5.5 l-5.5,-5.5 z M476,1281.5 l5.5,5.5 l-5.5,5.5 l-5.5,-5.5 z M492.1,1275.3 l5.5,5.5 l-5.5,5.5 l-5.5,-5.5 z M519.4,1267.8 l5.5,5.5 l-5.5,5.5 l-5.5,-5.5 z M525.6,1264.1 l5.5,5.5 l-5.5,5.5 l-5.5,-5.5 z M534.3,1264.1 l5.5,5.5 l-5.5,5.5 l-5.5,-5.5 z M546.7,1256.7 l5.5,5.5 l-5.5,5.5 l-5.5,-5.5 z M551.7,1269.1 l5.5,5.5 l-5.5,5.5 l-5.5,-5.5 z M552.9,1287.7 l5.5,5.5 l-5.5,5.5 l-5.5,-5.5 z M536.8,1295.1 l5.5,5.5 l-5.5,5.5 l-5.5,-5.5 z M447.4,1300.1 l5.5,5.5 l-5.5,5.5 l-5.5,-5.5 z M467.3,1303.8 l5.5,5.5 l-5.5,5.5 l-5.5,-5.5 z M474.7,1308.8 l5.5,5.5 l-5.5,5.5 l-5.5,-5.5 z M497.1,1310 l5.5,5.5 l-5.5,5.5 l-5.5,-5.5 z M493.3,1315 l5.5,5.5 l-5.5,5.5 l-5.5,-5.5 z M480.9,1337.3 l5.5,5.5 l-5.5,5.5 l-5.5,-5.5 z M495.8,1333.6 l5.5,5.5 l-5.5,5.5 l-5.5,-5.5 z M562.8,1348.5 l5.5,5.5 l-5.5,5.5 l-5.5,-5.5 z M442.5,1249.2 l5.5,5.5 l-5.5,5.5 l-5.5,-5.5 z M514.4,1214.5 l5.5,5.5 l-5.5,5.5 l-5.5,-5.5 z M499.6,1262.9 l5.5,5.5 l-5.5,5.5 l-5.5,-5.5 z M431.7,1151.8 l5.5,5.5 l-5.5,5.5 l-5.5,-5.5 z M473.1,1148.1 l5.5,5.5 l-5.5,5.5 l-5.5,-5.5 z M470.1,1154.1 l5.5,5.5 l-5.5,5.5 l-5.5,-5.5 z M452.8,1168.4 l5.5,5.5 l-5.5,5.5 l-5.5,-5.5 z M460.3,1172.1 l5.5,5.5 l-5.5,5.5 l-5.5,-5.5 z M467.9,1168.4 l5.5,5.5 l-5.5,5.5 l-5.5,-5.5 z M414.4,1185.7 l5.5,5.5 l-5.5,5.5 l-5.5,-5.5 z M421.2,1183.4 l5.5,5.5 l-5.5,5.5 l-5.5,-5.5 z M446.8,1184.9 l5.5,5.5 l-5.5,5.5 l-5.5,-5.5 z M436.3,1194.7 l5.5,5.5 l-5.5,5.5 l-5.5,-5.5 z M449.8,1200 l5.5,5.5 l-5.5,5.5 l-5.5,-5.5 z M465.6,1202.3 l5.5,5.5 l-5.5,5.5 l-5.5,-5.5 z M475.4,1202.3 l5.5,5.5 l-5.5,5.5 l-5.5,-5.5 z M473.9,1209.8 l5.5,5.5 l-5.5,5.5 l-5.5,-5.5 z M477.7,1221.8 l5.5,5.5 l-5.5,5.5 l-5.5,-5.5 z M393.3,1235.4 l5.5,5.5 l-5.5,5.5 l-5.5,-5.5 z M390.3,1240.7 l5.5,5.5 l-5.5,5.5 l-5.5,-5.5 z M391.8,1247.4 l5.5,5.5 l-5.5,5.5 l-5.5,-5.5 z M409.9,1228.6 l5.5,5.5 l-5.5,5.5 l-5.5,-5.5 z M401.6,1229.4 l5.5,5.5 l-5.5,5.5 l-5.5,-5.5 z M439.3,1244.4 l5.5,5.5 l-5.5,5.5 l-5.5,-5.5 z M449.8,1248.2 l5.5,5.5 l-5.5,5.5 l-5.5,-5.5 z M462.6,1230.9 l5.5,5.5 l-5.5,5.5 l-5.5,-5.5 z M448.3,1234.6 l5.5,5.5 l-5.5,5.5 l-5.5,-5.5 z M392.6,1171.4 l5.5,5.5 l-5.5,5.5 l-5.5,-5.5 z M422.7,1247.4 l5.5,5.5 l-5.5,5.5 l-5.5,-5.5 z M504.6,1162.6 l5.5,5.5 l-5.5,5.5 l-5.5,-5.5 z M487.3,1176.1 l5.5,5.5 l-5.5,5.5 l-5.5,-5.5 z M498.6,1185.2 l5.5,5.5 l-5.5,5.5 l-5.5,-5.5 z M494.1,1198 l5.5,5.5 l-5.5,5.5 l-5.5,-5.5 z M523.5,1194.9 l5.5,5.5 l-5.5,5.5 l-5.5,-5.5 z M476,1202.5 l5.5,5.5 l-5.5,5.5 l-5.5,-5.5 z M474.5,1209.3 l5.5,5.5 l-5.5,5.5 l-5.5,-5.5 z M516.7,1204.7 l5.5,5.5 l-5.5,5.5 l-5.5,-5.5 z M522.7,1210 l5.5,5.5 l-5.5,5.5 l-5.5,-5.5 z M513.7,1213 l5.5,5.5 l-5.5,5.5 l-5.5,-5.5 z M479.8,1222 l5.5,5.5 l-5.5,5.5 l-5.5,-5.5 z M487.3,1219.8 l5.5,5.5 l-5.5,5.5 l-5.5,-5.5 z M508.4,1224.3 l5.5,5.5 l-5.5,5.5 l-5.5,-5.5 z M500.9,1231.8 l5.5,5.5 l-5.5,5.5 l-5.5,-5.5 z M506.1,1237.1 l5.5,5.5 l-5.5,5.5 l-5.5,-5.5 z M518.2,1236.4 l5.5,5.5 l-5.5,5.5 l-5.5,-5.5 z M526.5,1234.8 l5.5,5.5 l-5.5,5.5 l-5.5,-5.5 z M531.7,1236.4 l5.5,5.5 l-5.5,5.5 l-5.5,-5.5 z M539.3,1231.1 l5.5,5.5 l-5.5,5.5 l-5.5,-5.5 z M522.7,1243.9 l5.5,5.5 l-5.5,5.5 l-5.5,-5.5 z M500.1,1244.6 l5.5,5.5 l-5.5,5.5 l-5.5,-5.5 z M498.6,1251.4 l5.5,5.5 l-5.5,5.5 l-5.5,-5.5 z M480.5,1249.2 l5.5,5.5 l-5.5,5.5 l-5.5,-5.5 z M486.6,1258.2 l5.5,5.5 l-5.5,5.5 l-5.5,-5.5 z M502.4,1258.2 l5.5,5.5 l-5.5,5.5 l-5.5,-5.5 z M546.8,1256.7 l5.5,5.5 l-5.5,5.5 l-5.5,-5.5 z M536.3,1207.7 l5.5,5.5 l-5.5,5.5 l-5.5,-5.5 z M470,1168.6 l5.5,5.5 l-5.5,5.5 l-5.5,-5.5 z M472.3,1188.2 l5.5,5.5 l-5.5,5.5 l-5.5,-5.5 z M470,1152 l5.5,5.5 l-5.5,5.5 l-5.5,-5.5 z M473,1146.8 l5.5,5.5 l-5.5,5.5 l-5.5,-5.5 z M402.4,1255.5 l5.5,5.5 l-5.5,5.5 l-5.5,-5.5 z M406.1,1258.5 l5.5,5.5 l-5.5,5.5 l-5.5,-5.5 z M427.2,1269.8 l5.5,5.5 l-5.5,5.5 l-5.5,-5.5 z M436.3,1270.6 l5.5,5.5 l-5.5,5.5 l-5.5,-5.5 z M439.3,1261.5 l5.5,5.5 l-5.5,5.5 l-5.5,-5.5 z M437.8,1254 l5.5,5.5 l-5.5,5.5 l-5.5,-5.5 z M452.8,1266.8 l5.5,5.5 l-5.5,5.5 l-5.5,-5.5 z M462.6,1272.1 l5.5,5.5 l-5.5,5.5 l-5.5,-5.5 z M475.4,1281.9 l5.5,5.5 l-5.5,5.5 l-5.5,-5.5 z M425,1303.7 l5.5,5.5 l-5.5,5.5 l-5.5,-5.5 z M447.5,1299.9 l5.5,5.5 l-5.5,5.5 l-5.5,-5.5 z M467.9,1302.2 l5.5,5.5 l-5.5,5.5 l-5.5,-5.5 z M474.7,1308.2 l5.5,5.5 l-5.5,5.5 l-5.5,-5.5 z M479.2,1336.8 l5.5,5.5 l-5.5,5.5 l-5.5,-5.5 z M451.3,1251 l5.5,5.5 l-5.5,5.5 l-5.5,-5.5 z" fill="#FF0505" stroke="#B00000" stroke-width="0.7"/>
<path d="M433.8,1119.4 l5.5,5.5 l-5.5,5.5 l-5.5,-5.5 z M383,1128.7 l5.5,5.5 l-5.5,5.5 l-5.5,-5.5 z M371.2,1153.5 l5.5,5.5 l-5.5,5.5 l-5.5,-5.5 z M362.5,1162.2 l5.5,5.5 l-5.5,5.5 l-5.5,-5.5 z M365.6,1167.2 l5.5,5.5 l-5.5,5.5 l-5.5,-5.5 z M368.1,1172.1 l5.5,5.5 l-5.5,5.5 l-5.5,-5.5 z M428.3,1162.2 l5.5,5.5 l-5.5,5.5 l-5.5,-5.5 z M425.2,1176.5 l5.5,5.5 l-5.5,5.5 l-5.5,-5.5 z M391,1188.3 l5.5,5.5 l-5.5,5.5 l-5.5,-5.5 z M420.2,1188.3 l5.5,5.5 l-5.5,5.5 l-5.5,-5.5 z M440,1185.8 l5.5,5.5 l-5.5,5.5 l-5.5,-5.5 z M420.2,1203.2 l5.5,5.5 l-5.5,5.5 l-5.5,-5.5 z M432.6,1203.2 l5.5,5.5 l-5.5,5.5 l-5.5,-5.5 z M404.1,1221.8 l5.5,5.5 l-5.5,5.5 l-5.5,-5.5 z M416.5,1210.6 l5.5,5.5 l-5.5,5.5 l-5.5,-5.5 z M458.6,1123.8 l5.5,5.5 l-5.5,5.5 l-5.5,-5.5 z M487.1,1127.5 l5.5,5.5 l-5.5,5.5 l-5.5,-5.5 z M498.3,1130 l5.5,5.5 l-5.5,5.5 l-5.5,-5.5 z M502,1133.7 l5.5,5.5 l-5.5,5.5 l-5.5,-5.5 z M510.7,1147.3 l5.5,5.5 l-5.5,5.5 l-5.5,-5.5 z M498.3,1156 l5.5,5.5 l-5.5,5.5 l-5.5,-5.5 z M524.4,1177.1 l5.5,5.5 l-5.5,5.5 l-5.5,-5.5 z M443.7,1174.6 l5.5,5.5 l-5.5,5.5 l-5.5,-5.5 z M442.5,1187 l5.5,5.5 l-5.5,5.5 l-5.5,-5.5 z M443.7,1205.6 l5.5,5.5 l-5.5,5.5 l-5.5,-5.5 z M540.5,1203.2 l5.5,5.5 l-5.5,5.5 l-5.5,-5.5 z M551.7,1216.8 l5.5,5.5 l-5.5,5.5 l-5.5,-5.5 z M534.3,1221.8 l5.5,5.5 l-5.5,5.5 l-5.5,-5.5 z M404.1,1223.2 l5.5,5.5 l-5.5,5.5 l-5.5,-5.5 z M409,1244.3 l5.5,5.5 l-5.5,5.5 l-5.5,-5.5 z M423.9,1239.3 l5.5,5.5 l-5.5,5.5 l-5.5,-5.5 z M431.4,1243 l5.5,5.5 l-5.5,5.5 l-5.5,-5.5 z M427.6,1256.7 l5.5,5.5 l-5.5,5.5 l-5.5,-5.5 z M414,1261.6 l5.5,5.5 l-5.5,5.5 l-5.5,-5.5 z M391.7,1271.6 l5.5,5.5 l-5.5,5.5 l-5.5,-5.5 z M437.6,1288.9 l5.5,5.5 l-5.5,5.5 l-5.5,-5.5 z M426.4,1317.5 l5.5,5.5 l-5.5,5.5 l-5.5,-5.5 z M423.9,1224.4 l5.5,5.5 l-5.5,5.5 l-5.5,-5.5 z M437.6,1231.9 l5.5,5.5 l-5.5,5.5 l-5.5,-5.5 z M551.7,1218.2 l5.5,5.5 l-5.5,5.5 l-5.5,-5.5 z M533.1,1223.2 l5.5,5.5 l-5.5,5.5 l-5.5,-5.5 z M562.8,1229.4 l5.5,5.5 l-5.5,5.5 l-5.5,-5.5 z M571.5,1239.3 l5.5,5.5 l-5.5,5.5 l-5.5,-5.5 z M577.7,1250.5 l5.5,5.5 l-5.5,5.5 l-5.5,-5.5 z M580.2,1259.2 l5.5,5.5 l-5.5,5.5 l-5.5,-5.5 z M585.2,1265.4 l5.5,5.5 l-5.5,5.5 l-5.5,-5.5 z M588.9,1271.6 l5.5,5.5 l-5.5,5.5 l-5.5,-5.5 z M588.9,1280.3 l5.5,5.5 l-5.5,5.5 l-5.5,-5.5 z M590.1,1288.9 l5.5,5.5 l-5.5,5.5 l-5.5,-5.5 z M583.9,1296.4 l5.5,5.5 l-5.5,5.5 l-5.5,-5.5 z M576.5,1311.3 l5.5,5.5 l-5.5,5.5 l-5.5,-5.5 z M567.8,1321.2 l5.5,5.5 l-5.5,5.5 l-5.5,-5.5 z M551.7,1332.4 l5.5,5.5 l-5.5,5.5 l-5.5,-5.5 z M540.5,1338.6 l5.5,5.5 l-5.5,5.5 l-5.5,-5.5 z M528.1,1337.9 l5.5,5.5 l-5.5,5.5 l-5.5,-5.5 z M513.2,1337.3 l5.5,5.5 l-5.5,5.5 l-5.5,-5.5 z M499.6,1332.4 l5.5,5.5 l-5.5,5.5 l-5.5,-5.5 z M521.9,1362.1 l5.5,5.5 l-5.5,5.5 l-5.5,-5.5 z M530.6,1246.8 l5.5,5.5 l-5.5,5.5 l-5.5,-5.5 z M503.3,1266.6 l5.5,5.5 l-5.5,5.5 l-5.5,-5.5 z M495.8,1255.4 l5.5,5.5 l-5.5,5.5 l-5.5,-5.5 z M525.6,1281.5 l5.5,5.5 l-5.5,5.5 l-5.5,-5.5 z M477.2,1255.4 l5.5,5.5 l-5.5,5.5 l-5.5,-5.5 z M446.2,1254.2 l5.5,5.5 l-5.5,5.5 l-5.5,-5.5 z M451.2,1261.6 l5.5,5.5 l-5.5,5.5 l-5.5,-5.5 z M462.3,1266.6 l5.5,5.5 l-5.5,5.5 l-5.5,-5.5 z M454.9,1280.3 l5.5,5.5 l-5.5,5.5 l-5.5,-5.5 z M462.3,1285.2 l5.5,5.5 l-5.5,5.5 l-5.5,-5.5 z M467.3,1292.7 l5.5,5.5 l-5.5,5.5 l-5.5,-5.5 z M463.6,1298.9 l5.5,5.5 l-5.5,5.5 l-5.5,-5.5 z M440,1287.7 l5.5,5.5 l-5.5,5.5 l-5.5,-5.5 z M480.9,1293.9 l5.5,5.5 l-5.5,5.5 l-5.5,-5.5 z M485.9,1295.1 l5.5,5.5 l-5.5,5.5 l-5.5,-5.5 z M451.2,1312.5 l5.5,5.5 l-5.5,5.5 l-5.5,-5.5 z M472.3,1313.8 l5.5,5.5 l-5.5,5.5 l-5.5,-5.5 z M471,1322.4 l5.5,5.5 l-5.5,5.5 l-5.5,-5.5 z M484.7,1322.4 l5.5,5.5 l-5.5,5.5 l-5.5,-5.5 z M485.9,1318.7 l5.5,5.5 l-5.5,5.5 l-5.5,-5.5 z M493.3,1284 l5.5,5.5 l-5.5,5.5 l-5.5,-5.5 z M521.5,1362.1 l5.5,5.5 l-5.5,5.5 l-5.5,-5.5 z M372.3,1153.3 l5.5,5.5 l-5.5,5.5 l-5.5,-5.5 z M370.8,1171.4 l5.5,5.5 l-5.5,5.5 l-5.5,-5.5 z M390.3,1188.7 l5.5,5.5 l-5.5,5.5 l-5.5,-5.5 z M428.7,1163.1 l5.5,5.5 l-5.5,5.5 l-5.5,-5.5 z M425,1176.7 l5.5,5.5 l-5.5,5.5 l-5.5,-5.5 z M444.5,1173.7 l5.5,5.5 l-5.5,5.5 l-5.5,-5.5 z M420.4,1188.7 l5.5,5.5 l-5.5,5.5 l-5.5,-5.5 z M442.3,1185.7 l5.5,5.5 l-5.5,5.5 l-5.5,-5.5 z M435.5,1185.7 l5.5,5.5 l-5.5,5.5 l-5.5,-5.5 z M419.7,1202.3 l5.5,5.5 l-5.5,5.5 l-5.5,-5.5 z M431.7,1202.3 l5.5,5.5 l-5.5,5.5 l-5.5,-5.5 z M419.7,1209.8 l5.5,5.5 l-5.5,5.5 l-5.5,-5.5 z M434,1213.6 l5.5,5.5 l-5.5,5.5 l-5.5,-5.5 z M443,1206.8 l5.5,5.5 l-5.5,5.5 l-5.5,-5.5 z M403.9,1221.8 l5.5,5.5 l-5.5,5.5 l-5.5,-5.5 z M422.7,1227.1 l5.5,5.5 l-5.5,5.5 l-5.5,-5.5 z M436.3,1232.4 l5.5,5.5 l-5.5,5.5 l-5.5,-5.5 z M409.2,1243.7 l5.5,5.5 l-5.5,5.5 l-5.5,-5.5 z M424.2,1240.7 l5.5,5.5 l-5.5,5.5 l-5.5,-5.5 z M430.2,1241.4 l5.5,5.5 l-5.5,5.5 l-5.5,-5.5 z M471.6,1251.2 l5.5,5.5 l-5.5,5.5 l-5.5,-5.5 z M512.2,1147.5 l5.5,5.5 l-5.5,5.5 l-5.5,-5.5 z M497.9,1157.3 l5.5,5.5 l-5.5,5.5 l-5.5,-5.5 z M523.5,1176.9 l5.5,5.5 l-5.5,5.5 l-5.5,-5.5 z M540,1202.5 l5.5,5.5 l-5.5,5.5 l-5.5,-5.5 z M552.1,1217.5 l5.5,5.5 l-5.5,5.5 l-5.5,-5.5 z M533.2,1223.6 l5.5,5.5 l-5.5,5.5 l-5.5,-5.5 z M563.4,1230.3 l5.5,5.5 l-5.5,5.5 l-5.5,-5.5 z M571.6,1239.4 l5.5,5.5 l-5.5,5.5 l-5.5,-5.5 z M531,1246.9 l5.5,5.5 l-5.5,5.5 l-5.5,-5.5 z M477.5,1255.2 l5.5,5.5 l-5.5,5.5 l-5.5,-5.5 z M495.6,1255.2 l5.5,5.5 l-5.5,5.5 l-5.5,-5.5 z M576.9,1251.4 l5.5,5.5 l-5.5,5.5 l-5.5,-5.5 z M577.7,1258.9 l5.5,5.5 l-5.5,5.5 l-5.5,-5.5 z M503.9,1263.5 l5.5,5.5 l-5.5,5.5 l-5.5,-5.5 z M391.8,1271.3 l5.5,5.5 l-5.5,5.5 l-5.5,-5.5 z M413.7,1263.8 l5.5,5.5 l-5.5,5.5 l-5.5,-5.5 z M428,1257.8 l5.5,5.5 l-5.5,5.5 l-5.5,-5.5 z M447.5,1258.5 l5.5,5.5 l-5.5,5.5 l-5.5,-5.5 z M450.6,1261.5 l5.5,5.5 l-5.5,5.5 l-5.5,-5.5 z M438.5,1288.7 l5.5,5.5 l-5.5,5.5 l-5.5,-5.5 z M454.3,1281.1 l5.5,5.5 l-5.5,5.5 l-5.5,-5.5 z M460.3,1287.1 l5.5,5.5 l-5.5,5.5 l-5.5,-5.5 z M466.4,1291.7 l5.5,5.5 l-5.5,5.5 l-5.5,-5.5 z M462.6,1296.2 l5.5,5.5 l-5.5,5.5 l-5.5,-5.5 z M451.3,1312 l5.5,5.5 l-5.5,5.5 l-5.5,-5.5 z M425.7,1315.8 l5.5,5.5 l-5.5,5.5 l-5.5,-5.5 z M472.4,1313.5 l5.5,5.5 l-5.5,5.5 l-5.5,-5.5 z M471.6,1322.5 l5.5,5.5 l-5.5,5.5 l-5.5,-5.5 z M476.9,1255.5 l5.5,5.5 l-5.5,5.5 l-5.5,-5.5 z M478.4,1293.2 l5.5,5.5 l-5.5,5.5 l-5.5,-5.5 z" fill="#05F505" stroke="#0A9A0A" stroke-width="0.7"/>
<path d="M363.1,1092.7 l5.5,5.5 l-5.5,5.5 l-5.5,-5.5 z M413.4,1098.3 l5.5,5.5 l-5.5,5.5 l-5.5,-5.5 z M445,1098.9 l5.5,5.5 l-5.5,5.5 l-5.5,-5.5 z M317.2,1110.1 l5.5,5.5 l-5.5,5.5 l-5.5,-5.5 z M312.9,1113.8 l5.5,5.5 l-5.5,5.5 l-5.5,-5.5 z M311.6,1144.2 l5.5,5.5 l-5.5,5.5 l-5.5,-5.5 z M320.9,1167.2 l5.5,5.5 l-5.5,5.5 l-5.5,-5.5 z M314.7,1183.9 l5.5,5.5 l-5.5,5.5 l-5.5,-5.5 z M308.5,1185.8 l5.5,5.5 l-5.5,5.5 l-5.5,-5.5 z M301.1,1216.2 l5.5,5.5 l-5.5,5.5 l-5.5,-5.5 z M441.3,1131.2 l5.5,5.5 l-5.5,5.5 l-5.5,-5.5 z M415.2,1136.8 l5.5,5.5 l-5.5,5.5 l-5.5,-5.5 z M421.4,1144.2 l5.5,5.5 l-5.5,5.5 l-5.5,-5.5 z M401.6,1152.3 l5.5,5.5 l-5.5,5.5 l-5.5,-5.5 z M409.7,1149.8 l5.5,5.5 l-5.5,5.5 l-5.5,-5.5 z M417.7,1154.8 l5.5,5.5 l-5.5,5.5 l-5.5,-5.5 z M385.5,1165.3 l5.5,5.5 l-5.5,5.5 l-5.5,-5.5 z M396.6,1167.2 l5.5,5.5 l-5.5,5.5 l-5.5,-5.5 z M396.6,1174.6 l5.5,5.5 l-5.5,5.5 l-5.5,-5.5 z M417.7,1168.4 l5.5,5.5 l-5.5,5.5 l-5.5,-5.5 z M383,1180.2 l5.5,5.5 l-5.5,5.5 l-5.5,-5.5 z M394.1,1184.5 l5.5,5.5 l-5.5,5.5 l-5.5,-5.5 z M406.6,1183.3 l5.5,5.5 l-5.5,5.5 l-5.5,-5.5 z M416.5,1175.9 l5.5,5.5 l-5.5,5.5 l-5.5,-5.5 z M428.9,1175.9 l5.5,5.5 l-5.5,5.5 l-5.5,-5.5 z M438.8,1178.3 l5.5,5.5 l-5.5,5.5 l-5.5,-5.5 z M383,1193.2 l5.5,5.5 l-5.5,5.5 l-5.5,-5.5 z M389.2,1204.4 l5.5,5.5 l-5.5,5.5 l-5.5,-5.5 z M395.4,1210.6 l5.5,5.5 l-5.5,5.5 l-5.5,-5.5 z M409,1198.2 l5.5,5.5 l-5.5,5.5 l-5.5,-5.5 z M414,1200.7 l5.5,5.5 l-5.5,5.5 l-5.5,-5.5 z M428.9,1201.9 l5.5,5.5 l-5.5,5.5 l-5.5,-5.5 z M376.8,1216.8 l5.5,5.5 l-5.5,5.5 l-5.5,-5.5 z M386.7,1219.3 l5.5,5.5 l-5.5,5.5 l-5.5,-5.5 z M399.1,1213.1 l5.5,5.5 l-5.5,5.5 l-5.5,-5.5 z M412.8,1216.8 l5.5,5.5 l-5.5,5.5 l-5.5,-5.5 z M428.9,1189.5 l5.5,5.5 l-5.5,5.5 l-5.5,-5.5 z M441.3,1163.5 l5.5,5.5 l-5.5,5.5 l-5.5,-5.5 z M442.5,1098.9 l5.5,5.5 l-5.5,5.5 l-5.5,-5.5 z M447.4,1098.9 l5.5,5.5 l-5.5,5.5 l-5.5,-5.5 z M453.6,1100.2 l5.5,5.5 l-5.5,5.5 l-5.5,-5.5 z M459.9,1100.2 l5.5,5.5 l-5.5,5.5 l-5.5,-5.5 z M464.8,1100.2 l5.5,5.5 l-5.5,5.5 l-5.5,-5.5 z M471,1100.2 l5.5,5.5 l-5.5,5.5 l-5.5,-5.5 z M482.2,1100.2 l5.5,5.5 l-5.5,5.5 l-5.5,-5.5 z M502,1108.9 l5.5,5.5 l-5.5,5.5 l-5.5,-5.5 z M514.4,1116.9 l5.5,5.5 l-5.5,5.5 l-5.5,-5.5 z M442.5,1131.2 l5.5,5.5 l-5.5,5.5 l-5.5,-5.5 z M487.1,1133.7 l5.5,5.5 l-5.5,5.5 l-5.5,-5.5 z M485.9,1138.6 l5.5,5.5 l-5.5,5.5 l-5.5,-5.5 z M487.1,1144.8 l5.5,5.5 l-5.5,5.5 l-5.5,-5.5 z M489.6,1149.8 l5.5,5.5 l-5.5,5.5 l-5.5,-5.5 z M509.5,1152.3 l5.5,5.5 l-5.5,5.5 l-5.5,-5.5 z M530.6,1158.5 l5.5,5.5 l-5.5,5.5 l-5.5,-5.5 z M549.2,1159.1 l5.5,5.5 l-5.5,5.5 l-5.5,-5.5 z M446.2,1159.7 l5.5,5.5 l-5.5,5.5 l-5.5,-5.5 z M442.5,1164.7 l5.5,5.5 l-5.5,5.5 l-5.5,-5.5 z M442.5,1177.1 l5.5,5.5 l-5.5,5.5 l-5.5,-5.5 z M454.9,1184.5 l5.5,5.5 l-5.5,5.5 l-5.5,-5.5 z M454.9,1192 l5.5,5.5 l-5.5,5.5 l-5.5,-5.5 z M452.4,1197 l5.5,5.5 l-5.5,5.5 l-5.5,-5.5 z M534.3,1191.4 l5.5,5.5 l-5.5,5.5 l-5.5,-5.5 z M459.9,1208.1 l5.5,5.5 l-5.5,5.5 l-5.5,-5.5 z M468.5,1221.8 l5.5,5.5 l-5.5,5.5 l-5.5,-5.5 z M301.1,1217 l5.5,5.5 l-5.5,5.5 l-5.5,-5.5 z M378,1217 l5.5,5.5 l-5.5,5.5 l-5.5,-5.5 z M384.2,1220.7 l5.5,5.5 l-5.5,5.5 l-5.5,-5.5 z M389.2,1219.5 l5.5,5.5 l-5.5,5.5 l-5.5,-5.5 z M387.9,1229.4 l5.5,5.5 l-5.5,5.5 l-5.5,-5.5 z M394.1,1254.2 l5.5,5.5 l-5.5,5.5 l-5.5,-5.5 z M397.9,1274.1 l5.5,5.5 l-5.5,5.5 l-5.5,-5.5 z M401.6,1301.3 l5.5,5.5 l-5.5,5.5 l-5.5,-5.5 z M404.1,1324.9 l5.5,5.5 l-5.5,5.5 l-5.5,-5.5 z M409,1328.6 l5.5,5.5 l-5.5,5.5 l-5.5,-5.5 z M414,1321.2 l5.5,5.5 l-5.5,5.5 l-5.5,-5.5 z M427.6,1328.6 l5.5,5.5 l-5.5,5.5 l-5.5,-5.5 z M441.3,1219.5 l5.5,5.5 l-5.5,5.5 l-5.5,-5.5 z M446.3,1244.3 l5.5,5.5 l-5.5,5.5 l-5.5,-5.5 z M448.7,1321.2 l5.5,5.5 l-5.5,5.5 l-5.5,-5.5 z M468.5,1223.2 l5.5,5.5 l-5.5,5.5 l-5.5,-5.5 z M471,1234.4 l5.5,5.5 l-5.5,5.5 l-5.5,-5.5 z M445,1241.8 l5.5,5.5 l-5.5,5.5 l-5.5,-5.5 z M467.3,1244.3 l5.5,5.5 l-5.5,5.5 l-5.5,-5.5 z M471,1246.8 l5.5,5.5 l-5.5,5.5 l-5.5,-5.5 z M459.9,1255.4 l5.5,5.5 l-5.5,5.5 l-5.5,-5.5 z M464.8,1260.4 l5.5,5.5 l-5.5,5.5 l-5.5,-5.5 z M472.3,1266.6 l5.5,5.5 l-5.5,5.5 l-5.5,-5.5 z M477.2,1271.6 l5.5,5.5 l-5.5,5.5 l-5.5,-5.5 z M466.1,1279 l5.5,5.5 l-5.5,5.5 l-5.5,-5.5 z M493.3,1279 l5.5,5.5 l-5.5,5.5 l-5.5,-5.5 z M530.6,1271.6 l5.5,5.5 l-5.5,5.5 l-5.5,-5.5 z M458.6,1310 l5.5,5.5 l-5.5,5.5 l-5.5,-5.5 z M449.9,1321.2 l5.5,5.5 l-5.5,5.5 l-5.5,-5.5 z M473.5,1327.4 l5.5,5.5 l-5.5,5.5 l-5.5,-5.5 z M497.1,1313.8 l5.5,5.5 l-5.5,5.5 l-5.5,-5.5 z M440,1229.4 l5.5,5.5 l-5.5,5.5 l-5.5,-5.5 z M415.2,1137.5 l5.5,5.5 l-5.5,5.5 l-5.5,-5.5 z M422.7,1145.8 l5.5,5.5 l-5.5,5.5 l-5.5,-5.5 z M401.6,1151.8 l5.5,5.5 l-5.5,5.5 l-5.5,-5.5 z M409.9,1149.6 l5.5,5.5 l-5.5,5.5 l-5.5,-5.5 z M416.7,1155.6 l5.5,5.5 l-5.5,5.5 l-5.5,-5.5 z M422,1158.6 l5.5,5.5 l-5.5,5.5 l-5.5,-5.5 z M434.8,1145.8 l5.5,5.5 l-5.5,5.5 l-5.5,-5.5 z M385.1,1164.6 l5.5,5.5 l-5.5,5.5 l-5.5,-5.5 z M396.4,1166.1 l5.5,5.5 l-5.5,5.5 l-5.5,-5.5 z M397.9,1174.4 l5.5,5.5 l-5.5,5.5 l-5.5,-5.5 z M418.2,1169.1 l5.5,5.5 l-5.5,5.5 l-5.5,-5.5 z M446,1161.6 l5.5,5.5 l-5.5,5.5 l-5.5,-5.5 z M382,1179.7 l5.5,5.5 l-5.5,5.5 l-5.5,-5.5 z M395.6,1184.2 l5.5,5.5 l-5.5,5.5 l-5.5,-5.5 z M407.6,1184.2 l5.5,5.5 l-5.5,5.5 l-5.5,-5.5 z M416.7,1176.7 l5.5,5.5 l-5.5,5.5 l-5.5,-5.5 z M431,1175.2 l5.5,5.5 l-5.5,5.5 l-5.5,-5.5 z M440,1178.2 l5.5,5.5 l-5.5,5.5 l-5.5,-5.5 z M430.2,1188.7 l5.5,5.5 l-5.5,5.5 l-5.5,-5.5 z M455.1,1183.4 l5.5,5.5 l-5.5,5.5 l-5.5,-5.5 z M453.6,1194 l5.5,5.5 l-5.5,5.5 l-5.5,-5.5 z M383.6,1194.7 l5.5,5.5 l-5.5,5.5 l-5.5,-5.5 z M385.8,1202.3 l5.5,5.5 l-5.5,5.5 l-5.5,-5.5 z M389.6,1209.8 l5.5,5.5 l-5.5,5.5 l-5.5,-5.5 z M395.6,1210.5 l5.5,5.5 l-5.5,5.5 l-5.5,-5.5 z M400.1,1212.8 l5.5,5.5 l-5.5,5.5 l-5.5,-5.5 z M376.8,1215.8 l5.5,5.5 l-5.5,5.5 l-5.5,-5.5 z M384.3,1217.3 l5.5,5.5 l-5.5,5.5 l-5.5,-5.5 z M388.8,1221.1 l5.5,5.5 l-5.5,5.5 l-5.5,-5.5 z M387.3,1230.9 l5.5,5.5 l-5.5,5.5 l-5.5,-5.5 z M409.2,1197.7 l5.5,5.5 l-5.5,5.5 l-5.5,-5.5 z M412.9,1217.3 l5.5,5.5 l-5.5,5.5 l-5.5,-5.5 z M427.2,1203.8 l5.5,5.5 l-5.5,5.5 l-5.5,-5.5 z M429.5,1217.3 l5.5,5.5 l-5.5,5.5 l-5.5,-5.5 z M460.3,1208.3 l5.5,5.5 l-5.5,5.5 l-5.5,-5.5 z M469.4,1223.3 l5.5,5.5 l-5.5,5.5 l-5.5,-5.5 z M471.6,1234.6 l5.5,5.5 l-5.5,5.5 l-5.5,-5.5 z M446,1241.4 l5.5,5.5 l-5.5,5.5 l-5.5,-5.5 z M467.9,1243.7 l5.5,5.5 l-5.5,5.5 l-5.5,-5.5 z M440.8,1227.1 l5.5,5.5 l-5.5,5.5 l-5.5,-5.5 z M394.8,1252 l5.5,5.5 l-5.5,5.5 l-5.5,-5.5 z M488.8,1148.3 l5.5,5.5 l-5.5,5.5 l-5.5,-5.5 z M507.6,1152.8 l5.5,5.5 l-5.5,5.5 l-5.5,-5.5 z M531,1158.1 l5.5,5.5 l-5.5,5.5 l-5.5,-5.5 z M549.1,1158.8 l5.5,5.5 l-5.5,5.5 l-5.5,-5.5 z M534,1191.2 l5.5,5.5 l-5.5,5.5 l-5.5,-5.5 z M470,1223.6 l5.5,5.5 l-5.5,5.5 l-5.5,-5.5 z M471.5,1234.8 l5.5,5.5 l-5.5,5.5 l-5.5,-5.5 z M471.5,1244.6 l5.5,5.5 l-5.5,5.5 l-5.5,-5.5 z M394.1,1254 l5.5,5.5 l-5.5,5.5 l-5.5,-5.5 z M397.9,1274.3 l5.5,5.5 l-5.5,5.5 l-5.5,-5.5 z M400.9,1301.5 l5.5,5.5 l-5.5,5.5 l-5.5,-5.5 z M403.9,1324 l5.5,5.5 l-5.5,5.5 l-5.5,-5.5 z M409.2,1328.6 l5.5,5.5 l-5.5,5.5 l-5.5,-5.5 z M413.7,1320.3 l5.5,5.5 l-5.5,5.5 l-5.5,-5.5 z M428,1327.8 l5.5,5.5 l-5.5,5.5 l-5.5,-5.5 z M449.1,1321.8 l5.5,5.5 l-5.5,5.5 l-5.5,-5.5 z M459.6,1309.7 l5.5,5.5 l-5.5,5.5 l-5.5,-5.5 z M457.3,1307.5 l5.5,5.5 l-5.5,5.5 l-5.5,-5.5 z M466.4,1279.6 l5.5,5.5 l-5.5,5.5 l-5.5,-5.5 z M473.9,1328.6 l5.5,5.5 l-5.5,5.5 l-5.5,-5.5 z M458.1,1255.5 l5.5,5.5 l-5.5,5.5 l-5.5,-5.5 z M464.9,1257 l5.5,5.5 l-5.5,5.5 l-5.5,-5.5 z M473.1,1269.8 l5.5,5.5 l-5.5,5.5 l-5.5,-5.5 z M476.2,1273.6 l5.5,5.5 l-5.5,5.5 l-5.5,-5.5 z M467.9,1260.8 l5.5,5.5 l-5.5,5.5 l-5.5,-5.5 z" fill="#00FBFB" stroke="#10B0B0" stroke-width="0.7"/>
<path d="M286.2,1278.9 l5.6,5.6 l-5.6,5.6 l-5.6,-5.6 z M289.9,1282.6 l5.6,5.6 l-5.6,5.6 l-5.6,-5.6 z M292.4,1286.4 l5.6,5.6 l-5.6,5.6 l-5.6,-5.6 z M294.9,1290.1 l5.6,5.6 l-5.6,5.6 l-5.6,-5.6 z M296.1,1295 l5.6,5.6 l-5.6,5.6 l-5.6,-5.6 z M298.6,1298.8 l5.6,5.6 l-5.6,5.6 l-5.6,-5.6 z M301.1,1302.5 l5.6,5.6 l-5.6,5.6 l-5.6,-5.6 z M304.8,1307.5 l5.6,5.6 l-5.6,5.6 l-5.6,-5.6 z M307.3,1311.2 l5.6,5.6 l-5.6,5.6 l-5.6,-5.6 z M309.8,1314.9 l5.6,5.6 l-5.6,5.6 l-5.6,-5.6 z M313.5,1318.6 l5.6,5.6 l-5.6,5.6 l-5.6,-5.6 z M317.2,1322.3 l5.6,5.6 l-5.6,5.6 l-5.6,-5.6 z M319.7,1326.1 l5.6,5.6 l-5.6,5.6 l-5.6,-5.6 z M322.2,1321.1 l5.6,5.6 l-5.6,5.6 l-5.6,-5.6 z M320.9,1312.4 l5.6,5.6 l-5.6,5.6 l-5.6,-5.6 z M324.7,1319.9 l5.6,5.6 l-5.6,5.6 l-5.6,-5.6 z" fill="#3ED6D6" stroke="#1E8E8E" stroke-width="1.0"/>
<path d="M370.6,1082.2 l5.5,5.5 l-5.5,5.5 l-5.5,-5.5 z M376.2,1080.3 l5.5,5.5 l-5.5,5.5 l-5.5,-5.5 z M381.7,1082.8 l5.5,5.5 l-5.5,5.5 l-5.5,-5.5 z M386.7,1084.1 l5.5,5.5 l-5.5,5.5 l-5.5,-5.5 z M391.7,1085.9 l5.5,5.5 l-5.5,5.5 l-5.5,-5.5 z M396,1085.3 l5.5,5.5 l-5.5,5.5 l-5.5,-5.5 z M394.1,1087.8 l5.5,5.5 l-5.5,5.5 l-5.5,-5.5 z M419,1083.4 l5.5,5.5 l-5.5,5.5 l-5.5,-5.5 z M425.2,1084.7 l5.5,5.5 l-5.5,5.5 l-5.5,-5.5 z M430.1,1085.3 l5.5,5.5 l-5.5,5.5 l-5.5,-5.5 z M436.3,1085.9 l5.5,5.5 l-5.5,5.5 l-5.5,-5.5 z M441.3,1087.2 l5.5,5.5 l-5.5,5.5 l-5.5,-5.5 z M446.3,1089 l5.5,5.5 l-5.5,5.5 l-5.5,-5.5 z M450,1090.3 l5.5,5.5 l-5.5,5.5 l-5.5,-5.5 z M330.9,1098.9 l5.5,5.5 l-5.5,5.5 l-5.5,-5.5 z M322.2,1107.6 l5.5,5.5 l-5.5,5.5 l-5.5,-5.5 z M311,1121.3 l5.5,5.5 l-5.5,5.5 l-5.5,-5.5 z M306.7,1135.5 l5.5,5.5 l-5.5,5.5 l-5.5,-5.5 z M319.7,1172.8 l5.5,5.5 l-5.5,5.5 l-5.5,-5.5 z M309.2,1194.5 l5.5,5.5 l-5.5,5.5 l-5.5,-5.5 z M309.2,1217.4 l5.5,5.5 l-5.5,5.5 l-5.5,-5.5 z M442.5,1086.5 l5.5,5.5 l-5.5,5.5 l-5.5,-5.5 z M448.7,1089 l5.5,5.5 l-5.5,5.5 l-5.5,-5.5 z M453.6,1091.5 l5.5,5.5 l-5.5,5.5 l-5.5,-5.5 z M458.6,1095.2 l5.5,5.5 l-5.5,5.5 l-5.5,-5.5 z M474.7,1101.4 l5.5,5.5 l-5.5,5.5 l-5.5,-5.5 z M483.4,1105.1 l5.5,5.5 l-5.5,5.5 l-5.5,-5.5 z M487.1,1111.3 l5.5,5.5 l-5.5,5.5 l-5.5,-5.5 z M485.9,1117.6 l5.5,5.5 l-5.5,5.5 l-5.5,-5.5 z M487.1,1122.5 l5.5,5.5 l-5.5,5.5 l-5.5,-5.5 z M492.1,1128.7 l5.5,5.5 l-5.5,5.5 l-5.5,-5.5 z M493.3,1139.9 l5.5,5.5 l-5.5,5.5 l-5.5,-5.5 z M490.9,1149.8 l5.5,5.5 l-5.5,5.5 l-5.5,-5.5 z M484.7,1154.8 l5.5,5.5 l-5.5,5.5 l-5.5,-5.5 z M479.7,1161 l5.5,5.5 l-5.5,5.5 l-5.5,-5.5 z M477.2,1167.2 l5.5,5.5 l-5.5,5.5 l-5.5,-5.5 z M467.3,1178.3 l5.5,5.5 l-5.5,5.5 l-5.5,-5.5 z M461.1,1189.5 l5.5,5.5 l-5.5,5.5 l-5.5,-5.5 z M457.4,1200.7 l5.5,5.5 l-5.5,5.5 l-5.5,-5.5 z M451.2,1206.9 l5.5,5.5 l-5.5,5.5 l-5.5,-5.5 z M449.9,1214.3 l5.5,5.5 l-5.5,5.5 l-5.5,-5.5 z M454.9,1221.8 l5.5,5.5 l-5.5,5.5 l-5.5,-5.5 z M308.5,1218.8 l5.5,5.5 l-5.5,5.5 l-5.5,-5.5 z M313.5,1251.7 l5.5,5.5 l-5.5,5.5 l-5.5,-5.5 z M314.1,1255.4 l5.5,5.5 l-5.5,5.5 l-5.5,-5.5 z M313.5,1259.2 l5.5,5.5 l-5.5,5.5 l-5.5,-5.5 z M312.9,1262.9 l5.5,5.5 l-5.5,5.5 l-5.5,-5.5 z M317.2,1272.8 l5.5,5.5 l-5.5,5.5 l-5.5,-5.5 z M319.7,1276.5 l5.5,5.5 l-5.5,5.5 l-5.5,-5.5 z M322.2,1280.3 l5.5,5.5 l-5.5,5.5 l-5.5,-5.5 z M325.9,1285.2 l5.5,5.5 l-5.5,5.5 l-5.5,-5.5 z M329.6,1288.9 l5.5,5.5 l-5.5,5.5 l-5.5,-5.5 z M333.3,1292.7 l5.5,5.5 l-5.5,5.5 l-5.5,-5.5 z M337.1,1296.4 l5.5,5.5 l-5.5,5.5 l-5.5,-5.5 z M340.8,1300.1 l5.5,5.5 l-5.5,5.5 l-5.5,-5.5 z M342,1303.8 l5.5,5.5 l-5.5,5.5 l-5.5,-5.5 z M340.8,1307.6 l5.5,5.5 l-5.5,5.5 l-5.5,-5.5 z M342,1312.5 l5.5,5.5 l-5.5,5.5 l-5.5,-5.5 z M343.3,1316.2 l5.5,5.5 l-5.5,5.5 l-5.5,-5.5 z M386.7,1357.2 l5.5,5.5 l-5.5,5.5 l-5.5,-5.5 z M430.1,1228.1 l5.5,5.5 l-5.5,5.5 l-5.5,-5.5 z M428.9,1230.6 l5.5,5.5 l-5.5,5.5 l-5.5,-5.5 z M452.4,1224.4 l5.5,5.5 l-5.5,5.5 l-5.5,-5.5 z M457.4,1225.7 l5.5,5.5 l-5.5,5.5 l-5.5,-5.5 z M459.9,1226.9 l5.5,5.5 l-5.5,5.5 l-5.5,-5.5 z M505.1,1389.4 l5.5,5.5 l-5.5,5.5 l-5.5,-5.5 z M539.3,1384.5 l5.5,5.5 l-5.5,5.5 l-5.5,-5.5 z M572.1,1383.2 l5.5,5.5 l-5.5,5.5 l-5.5,-5.5 z M447.4,1220.7 l5.5,5.5 l-5.5,5.5 l-5.5,-5.5 z M505.8,1389.4 l5.5,5.5 l-5.5,5.5 l-5.5,-5.5 z M539.6,1384.8 l5.5,5.5 l-5.5,5.5 l-5.5,-5.5 z M572.1,1383.6 l5.5,5.5 l-5.5,5.5 l-5.5,-5.5 z M598.3,1424.9 l5.5,5.5 l-5.5,5.5 l-5.5,-5.5 z M595.4,1463.3 l5.5,5.5 l-5.5,5.5 l-5.5,-5.5 z M615.2,1489.5 l5.5,5.5 l-5.5,5.5 l-5.5,-5.5 z M618.7,1496.5 l5.5,5.5 l-5.5,5.5 l-5.5,-5.5 z M631.5,1498.8 l5.5,5.5 l-5.5,5.5 l-5.5,-5.5 z M646,1498.8 l5.5,5.5 l-5.5,5.5 l-5.5,-5.5 z M477.7,1164.6 l5.5,5.5 l-5.5,5.5 l-5.5,-5.5 z M466.4,1178.2 l5.5,5.5 l-5.5,5.5 l-5.5,-5.5 z M461.1,1189.5 l5.5,5.5 l-5.5,5.5 l-5.5,-5.5 z M458.1,1200.8 l5.5,5.5 l-5.5,5.5 l-5.5,-5.5 z M451.3,1206.8 l5.5,5.5 l-5.5,5.5 l-5.5,-5.5 z M449.1,1212.8 l5.5,5.5 l-5.5,5.5 l-5.5,-5.5 z M437.8,1207.5 l5.5,5.5 l-5.5,5.5 l-5.5,-5.5 z M452.8,1222.6 l5.5,5.5 l-5.5,5.5 l-5.5,-5.5 z M457.3,1226.4 l5.5,5.5 l-5.5,5.5 l-5.5,-5.5 z M430.2,1227.9 l5.5,5.5 l-5.5,5.5 l-5.5,-5.5 z M422,1219.6 l5.5,5.5 l-5.5,5.5 l-5.5,-5.5 z M487.3,1153.5 l5.5,5.5 l-5.5,5.5 l-5.5,-5.5 z M482.8,1158.8 l5.5,5.5 l-5.5,5.5 l-5.5,-5.5 z M478.3,1165.6 l5.5,5.5 l-5.5,5.5 l-5.5,-5.5 z M476,1169.3 l5.5,5.5 l-5.5,5.5 l-5.5,-5.5 z M492.6,1152 l5.5,5.5 l-5.5,5.5 l-5.5,-5.5 z" fill="#0505F0" stroke="#00008A" stroke-width="0.7"/>
<path d="M334,1147.9 L339,1147.9 339,1154.7 345.8,1154.7 345.8,1159.7 339,1159.7 339,1166.5 334,1166.5 334,1159.7 327.2,1159.7 327.2,1154.7 334,1154.7 Z" fill="#FFF200" stroke="#D0C000" stroke-width="0.7"/>
<path d="M542.3,1090.2 L547.3,1090.2 547.3,1097 554.1,1097 554.1,1102 547.3,1102 547.3,1108.8 542.3,1108.8 542.3,1102 535.5,1102 535.5,1097 542.3,1097 Z" fill="#FFF200" stroke="#D0C000" stroke-width="0.7"/>
<path d="M526.2,1108.2 L531.2,1108.2 531.2,1115 538,1115 538,1120 531.2,1120 531.2,1126.8 526.2,1126.8 526.2,1120 519.4,1120 519.4,1115 526.2,1115 Z" fill="#FFF200" stroke="#D0C000" stroke-width="0.7"/>
<path d="M511.9,1124.9 L516.9,1124.9 516.9,1131.7 523.7,1131.7 523.7,1136.7 516.9,1136.7 516.9,1143.5 511.9,1143.5 511.9,1136.7 505.1,1136.7 505.1,1131.7 511.9,1131.7 Z" fill="#FFF200" stroke="#D0C000" stroke-width="0.7"/>
<path d="M498.3,1143.5 L503.3,1143.5 503.3,1150.3 510.1,1150.3 510.1,1155.3 503.3,1155.3 503.3,1162.1 498.3,1162.1 498.3,1155.3 491.5,1155.3 491.5,1150.3 498.3,1150.3 Z" fill="#FFF200" stroke="#D0C000" stroke-width="0.7"/>
<path d="M469.1,1180.1 L474.1,1180.1 474.1,1186.9 480.9,1186.9 480.9,1191.9 474.1,1191.9 474.1,1198.7 469.1,1198.7 469.1,1191.9 462.3,1191.9 462.3,1186.9 469.1,1186.9 Z" fill="#FFF200" stroke="#D0C000" stroke-width="0.7"/>
<path d="M441.2,1214.2 L446.2,1214.2 446.2,1221 453,1221 453,1226 446.2,1226 446.2,1232.8 441.2,1232.8 441.2,1226 434.4,1226 434.4,1221 441.2,1221 Z" fill="#FFF200" stroke="#D0C000" stroke-width="0.7"/>
<path d="M383,1287.6 L388,1287.6 388,1294.4 394.8,1294.4 394.8,1299.4 388,1299.4 388,1306.2 383,1306.2 383,1299.4 376.2,1299.4 376.2,1294.4 383,1294.4 Z" fill="#FFF200" stroke="#D0C000" stroke-width="0.7"/>
<path d="M369.3,1305 L374.3,1305 374.3,1311.8 381.1,1311.8 381.1,1316.8 374.3,1316.8 374.3,1323.6 369.3,1323.6 369.3,1316.8 362.5,1316.8 362.5,1311.8 369.3,1311.8 Z" fill="#FFF200" stroke="#D0C000" stroke-width="0.7"/>
<path d="M354.4,1323.6 L359.4,1323.6 359.4,1330.4 366.2,1330.4 366.2,1335.4 359.4,1335.4 359.4,1342.2 354.4,1342.2 354.4,1335.4 347.6,1335.4 347.6,1330.4 354.4,1330.4 Z" fill="#FFF200" stroke="#D0C000" stroke-width="0.7"/>
<path d="M339.5,1341 L344.5,1341 344.5,1347.8 351.3,1347.8 351.3,1352.8 344.5,1352.8 344.5,1359.6 339.5,1359.6 339.5,1352.8 332.7,1352.8 332.7,1347.8 339.5,1347.8 Z" fill="#FFF200" stroke="#D0C000" stroke-width="0.7"/>
<path d="M325.9,1359.6 L330.9,1359.6 330.9,1366.4 337.7,1366.4 337.7,1371.4 330.9,1371.4 330.9,1378.2 325.9,1378.2 325.9,1371.4 319.1,1371.4 319.1,1366.4 325.9,1366.4 Z" fill="#FFF200" stroke="#D0C000" stroke-width="0.7"/>
<path d="M411.5,1251.6 L416.5,1251.6 416.5,1258.4 423.3,1258.4 423.3,1263.4 416.5,1263.4 416.5,1270.2 411.5,1270.2 411.5,1263.4 404.7,1263.4 404.7,1258.4 411.5,1258.4 Z" fill="#FFF200" stroke="#D0C000" stroke-width="0.7"/>
<path d="M441.3,1215.7 L446.3,1215.7 446.3,1222.5 453.1,1222.5 453.1,1227.5 446.3,1227.5 446.3,1234.3 441.3,1234.3 441.3,1227.5 434.5,1227.5 434.5,1222.5 441.3,1222.5 Z" fill="#FFF200" stroke="#D0C000" stroke-width="0.7"/>
<path d="M441.3,1215 L446.3,1215 446.3,1221.8 453.1,1221.8 453.1,1226.8 446.3,1226.8 446.3,1233.6 441.3,1233.6 441.3,1226.8 434.5,1226.8 434.5,1221.8 441.3,1221.8 Z" fill="#FFF200" stroke="#D0C000" stroke-width="0.7"/>
<path d="M468.4,1179.6 L473.4,1179.6 473.4,1186.4 480.2,1186.4 480.2,1191.4 473.4,1191.4 473.4,1198.2 468.4,1198.2 468.4,1191.4 461.6,1191.4 461.6,1186.4 468.4,1186.4 Z" fill="#FFF200" stroke="#D0C000" stroke-width="0.7"/>
<path d="M471.3,1179.1 L476.3,1179.1 476.3,1185.9 483.1,1185.9 483.1,1190.9 476.3,1190.9 476.3,1197.7 471.3,1197.7 471.3,1190.9 464.5,1190.9 464.5,1185.9 471.3,1185.9 Z" fill="#FFF200" stroke="#D0C000" stroke-width="0.7"/>
<path d="M448.7,1135.9 L452.5,1146.1 463.4,1146.6 454.9,1153.4 457.8,1163.9 448.7,1157.9 439.6,1163.9 442.5,1153.4 434,1146.6 444.9,1146.1 Z" fill="#000" stroke="none" stroke-width="0.5"/>
<rect x="501" y="1283.8" width="15.8" height="15.8" fill="#FFFFFF" stroke="#0F1E2E" stroke-width="3.6"/>
<circle cx="508.9" cy="1291.7" r="3.2" fill="#F5EC30"/></g>
<g clip-path="url(#clipC)"><g fill="none" stroke="#9a9a9a" stroke-width="1" stroke-dasharray="9,2,1.5,2">
<path d="M934.6,1065 C937.2,1064.4 943.5,1062.6 950.6,1061.4 C957.7,1060.2 968.4,1059.3 977.3,1057.8 C986.2,1056.4 995.1,1054.6 1004,1052.5 C1012.9,1050.4 1023.3,1047.8 1030.7,1045.4 C1038.1,1043 1042.8,1040.3 1048.5,1038.3 C1054.1,1036.2 1061.8,1033.8 1064.5,1032.9"/>
<path d="M1121.4,1024 C1125.6,1023.6 1137.4,1022.1 1146.3,1021.4 C1155.3,1020.6 1165.6,1019.1 1175,1019.6 C1184.4,1020 1192.1,1022.7 1202.6,1024 C1213.1,1025.4 1226.3,1025.8 1238.2,1027.6 C1250,1029.4 1261.9,1031.7 1273.8,1034.7 C1285.6,1037.7 1297.5,1041.8 1309.4,1045.4 C1321.2,1048.9 1336.1,1052.8 1345,1056.1 C1353.9,1059.3 1355.6,1062.8 1362.8,1065 C1369.9,1067.2 1379.8,1066.2 1388.1,1069.2 C1396.4,1072.3 1406.1,1078.6 1412.6,1083.2 C1419.1,1087.9 1424.6,1094.9 1427,1097.3"/>
<path d="M934.6,1065 C936.6,1068 943.4,1076.7 946.5,1083.2 C949.6,1089.8 951.1,1097.3 953.5,1104.3 C955.9,1111.3 958.2,1118.3 960.6,1125.3 C963,1132.3 965.3,1139.3 967.6,1146.3 C969.9,1153.3 972.3,1158.5 974.6,1167.4 C976.9,1176.4 976.9,1189.7 981.6,1200 C986.3,1210.3 997.4,1219.6 1002.6,1229.1 C1007.9,1238.6 1008.4,1247.8 1013.1,1257.1 C1017.8,1266.4 1025.9,1276.3 1030.6,1285.1 C1035.3,1293.9 1038.6,1303 1041.2,1309.7 C1043.8,1316.4 1045.2,1322.5 1046,1325"/>
<path d="M1060,1368 C1060.4,1369.4 1062.4,1370.2 1062.2,1376.3 C1062,1382.3 1057.5,1397.3 1058.7,1404.3 C1059.9,1411.3 1064,1414.2 1069.2,1418.3 C1074.5,1422.4 1083.2,1426.5 1090.2,1428.8 C1097.2,1431.1 1105.5,1429.4 1111.3,1432.3 C1117.1,1435.2 1120.6,1441.6 1125.3,1446.3 C1130,1451 1134.6,1455.1 1139.3,1460.4 C1144,1465.7 1148.6,1472.1 1153.3,1477.9 C1158,1483.7 1163.8,1490.7 1167.3,1495.4 C1170.8,1500.1 1173.1,1504.2 1174.3,1505.9"/>
<path d="M1013.1,1097.3 C1016,1095.5 1023.6,1090.3 1030.6,1086.8 C1037.6,1083.3 1046.4,1080.3 1055.2,1076.2 C1064,1072.1 1076.9,1065.3 1083.2,1062.2 C1089.5,1059.1 1085.4,1059.1 1093,1057.8 C1100.6,1056.5 1114.9,1054.3 1128.6,1054.3 C1142.3,1054.3 1162.7,1056.9 1175,1057.8 C1187.3,1058.7 1195,1058.7 1202.6,1059.6 C1210.2,1060.5 1211.5,1062.6 1220.4,1063.2 C1229.3,1063.8 1244.1,1062.6 1256,1063.2 C1267.9,1063.8 1281.3,1064.9 1291.6,1067 C1301.9,1069.1 1307.8,1072.7 1318,1076 C1328.2,1079.3 1341.3,1082.1 1353,1086.8 C1364.7,1091.5 1378.1,1097.9 1388,1104.3 C1397.9,1110.7 1406.1,1119.5 1412.6,1125.3 C1419.1,1131.1 1424.6,1136.7 1427,1139"/>
<path d="M1013.1,1097.3 C1012.5,1100.8 1009,1111.3 1009.6,1118.3 C1010.2,1125.3 1013.1,1132.3 1016.6,1139.3 C1020.1,1146.3 1027.1,1153.9 1030.6,1160.3 C1034.1,1166.7 1038.3,1168.8 1037.7,1177.9 C1037.1,1187 1028.3,1203 1027.1,1215 C1025.9,1227 1029.4,1239.6 1030.6,1250.1 C1031.8,1260.6 1032.6,1271.4 1034.2,1278.1 C1035.8,1284.8 1039,1288 1040,1290"/>
<path d="M1062,1325 C1064.4,1331.2 1071.5,1351.3 1076.2,1362.2 C1080.9,1373.1 1086.7,1383.3 1090.2,1390.3 C1093.7,1397.3 1093.7,1399.6 1097.2,1404.3 C1100.7,1409 1103.7,1413.6 1111.3,1418.3 C1118.9,1423 1133,1427.8 1142.8,1432.3 C1152.6,1436.8 1160.5,1441.2 1170,1445 C1179.5,1448.8 1188.3,1450.8 1200,1455 C1211.7,1459.2 1226.7,1465.8 1240,1470 C1253.3,1474.2 1266.7,1476.7 1280,1480 C1293.3,1483.3 1306.7,1487.3 1320,1490 C1333.3,1492.7 1346.7,1494.3 1360,1496 C1373.3,1497.7 1388.8,1499 1400,1500 C1411.2,1501 1422.5,1501.7 1427,1502"/>
<path d="M1097.2,1139.3 C1099.5,1135.2 1105.5,1121.2 1111.3,1114.8 C1117.1,1108.4 1124.1,1104.3 1132.3,1100.8 C1140.5,1097.3 1149.8,1095.3 1160.3,1093.8 C1170.8,1092.3 1183.7,1092.3 1195.4,1092 C1207.1,1091.7 1218.7,1091.7 1230.4,1092 C1242.1,1092.3 1253.8,1092.9 1265.5,1093.8 C1277.2,1094.7 1288.8,1094.4 1300.5,1097.3 C1312.2,1100.2 1326.8,1105.5 1335.5,1111.3 C1344.2,1117.1 1348.3,1124.1 1353,1132.3 C1357.7,1140.5 1361.2,1150.9 1363.6,1160.3 C1365.9,1169.7 1365.9,1181.8 1367.1,1188.4 C1368.3,1195 1369.3,1191.4 1370.6,1200 C1371.9,1208.6 1374.8,1225 1375,1240 C1375.2,1255 1374.5,1276.7 1372,1290 C1369.5,1303.3 1365.3,1311.7 1360,1320 C1354.7,1328.3 1343.3,1336.7 1340,1340"/>
<path d="M1097.2,1139.3 C1096.3,1144.4 1092.7,1159.9 1092,1170 C1091.3,1180.1 1092.5,1190 1093,1200 C1093.5,1210 1094.7,1225 1095,1230"/>
<path d="M1111.2,1390.3 C1113.6,1393.2 1117.1,1401.9 1125.3,1407.8 C1133.4,1413.6 1148.6,1420.1 1160.3,1425.3 C1172,1430.6 1183.7,1434.1 1195.4,1439.3 C1207,1444.6 1218.7,1451.6 1230.4,1456.9 C1242.1,1462.1 1253.8,1467.4 1265.4,1470.9 C1277.1,1474.4 1288.8,1475.5 1300.5,1477.9 C1312.2,1480.2 1323.9,1482 1335.5,1484.9 C1347.2,1487.8 1358.9,1492.5 1370.6,1495.4 C1382.3,1498.3 1396.2,1500.9 1405.6,1502.4 C1415,1503.9 1423.4,1503.9 1427,1504.2"/>
<path d="M1153.3,1355.2 C1154.5,1358.7 1158,1369.2 1160.3,1376.2 C1162.6,1383.3 1161.5,1389.1 1167.3,1397.3 C1173.2,1405.5 1184.8,1417.1 1195.4,1425.3 C1205.9,1433.5 1218.7,1440.5 1230.4,1446.3 C1242.1,1452.2 1256.7,1456.9 1265.4,1460.4 C1274.2,1463.9 1271.3,1466.2 1283,1467.4 C1294.6,1468.5 1320.9,1467.9 1335.5,1467.4 C1350.1,1466.8 1356.6,1465 1370.6,1463.9 C1384.6,1462.7 1411.5,1460.9 1419.6,1460.4"/>
<path d="M1398.6,1180 C1399.8,1185.8 1403.3,1203.4 1405.6,1215 C1408,1226.7 1410.3,1238.4 1412.6,1250.1 C1415,1261.8 1417.2,1272.3 1419.6,1285.1 C1422,1298 1425.8,1320.2 1427,1327.2"/>
<path d="M1353.1,1180 C1356,1185.8 1365.3,1203.4 1370.6,1215 C1375.8,1226.7 1381.1,1238.4 1384.6,1250.1 C1388.1,1261.8 1389.3,1274.6 1391.6,1285.1 C1393.9,1295.6 1395.1,1305 1398.6,1313.2 C1402.1,1321.3 1407.9,1328.4 1412.6,1334.2 C1417.4,1340 1424.6,1345.9 1427,1348.2"/>
<path d="M1139.3,1334.2 C1142.8,1333.6 1154.5,1331.9 1160.3,1330.7 C1166.2,1329.5 1170.8,1328.9 1174.3,1327.2 C1177.8,1325.4 1180.8,1322.5 1181.3,1320.2 C1181.9,1317.8 1179,1313.2 1177.8,1313.2 C1176.7,1313.2 1174.9,1319 1174.3,1320.2"/>
</g>
<g fill="none" stroke="#000" stroke-width="1.5" stroke-linejoin="round">
<path d="M954.2,901.2 L956.2,899.8 958.2,898.1 959.6,896 961.3,894.1 963.9,893.2 966.7,893.3 969.2,892.2 972,892.2 974.6,890.9 977.3,890.6 979.8,890.9 982.3,891.5 985,890.7 987.5,891.3 990,891.7 992.6,891.8 995.1,892.3 997.6,893.5 1000.6,892.9 1003.1,894 1005.8,894.4 1008.5,894.8 1011.1,895.9 1013.9,895 1016.9,895.7 1019.6,894.6 1022.6,895.1 1025.3,894.1 1027.9,893.6 1030.4,893.1 1032.9,892.5 1035.4,892 1037.9,891.5 1040.6,892.2 1043.1,891.4 1046,891.8 1048.9,891.7 1051.7,891.2 1054.6,891.3 1057.4,890.6 1059.9,891.2 1062.5,891.5 1064.9,892.7 1067.5,892.7 1070.2,892.7 1072.6,893.7 1075.2,894.1 1077.7,895.5 1080.4,896.2 1083.2,896.8 1085.8,897.7 1087.4,899.7 1089.6,901 1091,903.2 1093,904.8 1094.6,907.6 1096.5,910.1 1094.1,911.1 1091.4,910.2 1089,910.7 1086.5,911.2 1084.1,911.9 1081.5,912 1079,911 1076.4,911.4 1073.8,911.5 1071.4,910.1 1068.8,910.1 1066.3,910.1 1063.7,910.2 1061.2,909.7 1058.6,909.8 1056.2,908.6 1053.5,909.1 1051.1,908.1 1048.5,908.4 1045.9,908.7 1043.4,908.8 1040.9,909.4 1038.4,910 1035.8,910.3 1033.3,910.3 1030.7,910.1 1028.1,911.2 1025.5,912.5 1022.7,912.8 1020.1,914 1017.4,914.9 1014.7,915.5 1012,916.5 1009.3,917.3 1006.4,917.2 1003.6,916.6 1000.8,916.1 997.9,915.8 995.1,915.5 992.5,915.8 990,915.3 987.5,915 985.1,914 982.6,913.7 979.8,913 976.9,912.5 974.1,911.7 971.1,911.3 968.4,910.1 965.4,909.1 962.5,907.7 959.5,906.6 957,905.2 954.2,904.8 954.2,901.2 Z"/>
<path d="M1100.8,889.7 L1103.4,891.7 1106.1,893.5 1109,895.2 1111.6,896.3 1113.6,898.3 1116.3,899.1 1118.6,900.7 1121.4,901.5 1123.9,903 1126.8,903.6 1129.5,904.8 1131.5,907 1134.3,908.2 1136.8,909.8 1139.1,911.6 1141.8,910.7 1144.6,911.5 1147.3,911 1149.8,911.4 1152.1,912.6 1154.4,913.8 1156.9,914.4 1159,917.1 1161,919.9 1157.9,921 1155.5,923.3 1158.3,923.8 1161,924.5 1163.7,925.3 1166.7,925.9 1169.5,926.9 1172.1,928.1 1174.7,929.8 1177.4,930.8 1180.3,931.1 1182.9,932.4 1185.8,932.8 1188.3,934.5 1191.1,934.9 1194,935.1 1196.5,936.9 1199.2,938 1201.9,938.8 1204.8,939 1207.3,939.7 1209.8,940.8 1212.5,940.6 1214.8,942.4 1217.3,943.1 1220,943.1 1222.3,944.2 1224.7,945.2 1227.3,945.5 1229.6,946.7 1232.2,946.6 1234.6,947.5 1237.3,948.8 1239.6,950.7 1241.7,952.8 1243.2,955 1245,956.7 1247.1,958.2"/>
<path d="M1136.4,889.7 L1139.1,890.8 1142,891.5 1144.6,892.8 1147.2,894.5 1150,895.2 1152.7,896.5 1155.7,896.8 1158.1,898.8 1161,899.3 1161.2,902.2 1162.4,904.8 1165.5,906.3 1167.8,908.9 1171,910 1174.3,910.6 1177.4,911.6 1181.1,912.5 1184.3,914.4 1187.1,915.2 1189.7,916.8 1192.7,917.2 1195.3,918.5 1198,919.9 1200.6,920.9 1203.5,921.1 1206,922.8 1208.9,923.2 1211.6,924 1214.4,925 1217.4,925.2 1220,926.7"/>
<path d="M1167.8,889.7 L1170,891.2 1171.6,893.2 1173.3,895.2 1176.3,896.2 1178.9,897.7 1181.3,899.8 1184.3,900.7 1187.2,901.1 1189.6,903.1 1192.4,904 1195.2,904.8 1197.9,905.6 1200.3,907 1202.4,909 1204.8,910.3 1206.7,912.9 1209.4,914.8 1211.6,917.1 1213.5,919.1 1215.5,920.9 1217.5,922.8 1220,924 1222.2,925.6 1224.7,926.7 1226.8,928.6 1229.3,929.7 1231,931.9 1232.9,934 1234.3,936.4 1236.5,938.2 1238.2,940.4 1239.8,942.3 1241.5,944.2 1243.1,946.1 1245.3,947.5 1246.7,945.4 1248.9,943.9 1251.5,944.6 1254.2,945 1256.9,944 1259.5,944.8 1262.2,946.6 1264.3,949 1266.7,951.1 1268.5,952.8 1269.8,955 1272.4,956 1273.8,958.2 1276.3,958.9 1278,961.3 1280.3,962.4 1282.7,963.5 1284.9,964.8 1287.3,965.9 1289.3,967.6 1291.6,968.9 1293.4,970.7 1295.7,972 1298,973.1 1300.4,974.1 1302.2,976 1305.3,977 1308.2,978.3 1311.1,979.5 1312.7,981.6 1314.3,983.5 1316.3,985.1 1318.3,986.7 1321.1,988.2 1324,989.5 1327.2,990.2 1330.1,991.5 1333.3,992.2 1336.1,993.8 1338,995.6 1340.5,996.4 1342.5,998.2 1345,999.1 1347.9,999.9 1350.9,1000.4 1353.9,1000.9 1355.6,1002.7 1357.7,1004.2 1359.2,1006.2 1358.8,1009.2 1359.7,1012.2 1359.2,1015.1 1360.9,1017.9 1362.8,1020.5 1365.3,1021.9 1367.5,1023.7 1369.3,1026 1371.7,1027.6 1373.5,1029.5 1376,1030.5 1378.4,1031.5 1380.6,1032.9 1382.9,1034 1384.8,1036 1387.1,1037.2 1389.5,1038.3 1391.5,1039.9 1393.6,1041.4 1396.3,1042 1398.3,1043.6 1400.2,1045.9 1402.9,1047 1405,1049 1407.2,1050.7 1410.5,1051.3 1413.1,1053.2 1416.1,1054.3 1418.2,1056.5 1421,1057.6 1423.3,1059.6 1427,1062.3"/>
<path d="M1187,903.4 L1189.7,902.7 1192.5,902.1 1194.8,903.5 1197.1,905.2 1199.5,906.5 1202.1,907.5 1204.8,911.6 1201.3,911.4 1198,910.3 1195,909.3 1192.6,907.2 1189.7,906.2 1187,903.4 Z"/>
<path d="M1128.1,950 L1130.6,947.7 1133.9,946.7 1136.4,944.5 1139.2,944.7 1141.8,945.9 1144.6,945.9 1147.2,947.1 1150,947.2 1152.6,948.3 1155.4,948.4 1157.5,950.4 1160.2,951.1 1162.9,951.4 1165.4,952.4 1167.9,953.5 1170.6,954.1 1173,955.2 1175.4,956 1177.9,956.9 1180.4,957.6 1183.1,957.5 1185.7,957.9 1188.1,959 1190.6,959.7 1192.9,961.2 1195.4,961.9 1198,962.3 1200.2,963.5 1202.7,964 1205.2,964.5 1207.6,965.4 1210.1,965.7 1212.7,965.8 1215,967 1217.4,967.6 1220,967.8 1222.5,968.5 1225,969.3 1227.5,970.2 1230,971 1232,972.8 1234.6,973.5 1236,976.4 1238.5,978.5 1235.4,977.8 1232.2,977.9 1229,977.8 1226.2,976.2 1223,975.8 1220,974.6 1217.2,974.3 1214.4,974.3 1211.7,973.5 1209,972.3 1206.2,972.2 1203.6,970.9 1200.6,971.7 1198,970.5 1195.5,969.5 1192.9,969 1190.3,968.8 1187.7,968.3 1185.2,967.7 1182.4,968 1180,967.1 1177.4,966.4 1175,965.1 1172.3,965 1169.6,964.9 1167.1,963.7 1164.4,963.5 1162.1,962.1 1159.4,961.8 1156.9,960.9 1154.3,959.7 1151.5,959.2 1148.7,959.2 1145.8,959.2 1143.2,958.2 1140.5,957.4 1137.8,956.2 1134.8,956.2 1132.2,955.2 1129.5,954.1 1128.1,950 Z"/>
<path d="M989.7,952.8 L992.6,953.2 995.4,952.8 998.3,952.7 1001.1,952.7 1004,952.8 1006.8,952.7 1009.7,952.8 1012.5,953.4 1015.4,953.8 1018.2,953.7 1020.8,954.6 1023.6,954.5 1026.1,955.7 1028.9,955.5 1030.7,960 1029.3,962.6 1026.6,964.3 1025.3,967.1 1021.7,967.6 1018.2,968.9 1014.8,967.5 1011.1,967.1 1008.9,968.5 1006.3,968.7 1004,969.8 1001.5,967.3 998.6,965.3 996.2,963.1 993.3,961.7 991.8,958.9 989.7,956.4 989.7,952.8 Z"/>
<path d="M1238.2,952.8 L1240.4,954.2 1242.5,955.7 1244.5,957.4 1247.1,958.2 1249.6,958.9 1252.2,959.3 1254.6,960.1 1256.9,961.6 1259.5,961.7 1261.8,963.1 1264,964.6 1266.7,965.3 1268.9,966.6 1270.8,968.4 1272.7,970.1 1275.5,970.6 1277.3,972.4 1279.1,976 1276.2,975 1273.3,974.2 1270.2,974.2 1268.4,972.2 1265.7,971.8 1263.6,970.3 1262,968 1259.5,967.1 1256.8,965.9 1254.1,964.7 1251.6,962.9 1248.9,961.7 1246.6,960.1 1244.5,958.3 1242.4,956.5 1240.1,954.9 1238.2,952.8 Z"/>
<path d="M920.3,955.5 L923.9,954.6 927.5,957.3 923.9,959.1 920.3,958.2 920.3,955.5 Z"/>
<path d="M915,1425.3 L917.4,1426.6 919.8,1427.9 922.7,1427.9 925.2,1428.9 927.7,1429.8 930,1431.4 932.5,1432.3 935,1433.4 937.4,1434.6 939.9,1435.5 942.6,1436.1 945.1,1437.1 947.3,1438.8 950,1439.3 952.5,1440.5 955.3,1440.7 957.7,1442.1 960.2,1443 962.6,1444.2 965.2,1445 967.6,1446.3 970.3,1446.7 972.7,1447.9 975.1,1449.3 977.6,1450.3 980.1,1451.3 982.6,1452.3 985.1,1453.3 987.5,1454.5 990,1455.7 992.3,1457 995.3,1457 997.6,1458.4 1000.3,1458.9 1002.6,1460.4 1005.2,1459.7 1007.9,1459.9 1010.5,1460.1 1013.1,1460.4 1015.3,1462.3 1017.4,1464.3 1020.1,1465.6 1022.7,1466.2 1025.1,1467.4 1027.7,1467.7 1030.3,1468.3 1032.8,1469 1035,1470.6 1037.7,1470.9 1040.3,1471.5 1042.6,1473 1044.9,1474.4 1047.7,1474.8 1050.1,1476.1 1052.5,1477.4 1055.2,1477.9 1057.4,1479.1 1059.6,1480.4 1061.5,1482.2 1063.8,1483.3 1066.2,1484.4 1068.1,1486.1 1070.4,1487.3 1072.7,1488.4 1074.7,1490.1 1077,1491.1 1079,1492.8 1081.7,1493.3 1083.7,1494.9 1086.1,1495.8 1088.2,1497.3 1090.2,1498.9 1092.6,1499.9 1094.6,1501.7 1097.1,1502.6 1099.4,1503.8 1102,1504.6 1104.2,1505.9"/>
</g>
<g fill="#000">
<circle cx="973.7" cy="960" r="1.4"/>
<circle cx="1039.6" cy="954.6" r="1.4"/>
<circle cx="1043.1" cy="941.3" r="1.4"/>
<circle cx="963" cy="959.1" r="1.4"/>
</g>
<path d="M1064.5,959.1 L1084.1,956.8" stroke="#000" stroke-width="1.5" fill="none"/>
<g font-family="'Liberation Sans', Arial, sans-serif" font-size="25" fill="#000">
<text transform="translate(1091.2,1029.4) rotate(-12)" x="0" y="9" text-anchor="middle">200</text>
<text transform="translate(1049,1303) rotate(70)" x="0" y="9" text-anchor="middle">500</text>
<text transform="translate(1050,1345) rotate(60)" x="0" y="9" text-anchor="middle">200</text>
</g>
<path d="M1088.4,1095.6 a5.3,5.3 0 1,0 10.6,0 a5.3,5.3 0 1,0 -10.6,0 M1097.6,1089.6 a5.3,5.3 0 1,0 10.6,0 a5.3,5.3 0 1,0 -10.6,0 M1108.2,1088.7 a5.3,5.3 0 1,0 10.6,0 a5.3,5.3 0 1,0 -10.6,0 M1119.1,1089 a5.3,5.3 0 1,0 10.6,0 a5.3,5.3 0 1,0 -10.6,0 M1130,1087.2 a5.3,5.3 0 1,0 10.6,0 a5.3,5.3 0 1,0 -10.6,0 M1140.6,1088.8 a5.3,5.3 0 1,0 10.6,0 a5.3,5.3 0 1,0 -10.6,0 M1151.4,1090.6 a5.3,5.3 0 1,0 10.6,0 a5.3,5.3 0 1,0 -10.6,0 M1162.3,1090 a5.3,5.3 0 1,0 10.6,0 a5.3,5.3 0 1,0 -10.6,0 M1173.1,1087.8 a5.3,5.3 0 1,0 10.6,0 a5.3,5.3 0 1,0 -10.6,0 M1184.1,1086.9 a5.3,5.3 0 1,0 10.6,0 a5.3,5.3 0 1,0 -10.6,0 M1195.1,1086.7 a5.3,5.3 0 1,0 10.6,0 a5.3,5.3 0 1,0 -10.6,0 M1205.8,1084.8 a5.3,5.3 0 1,0 10.6,0 a5.3,5.3 0 1,0 -10.6,0 M1216.2,1081.4 a5.3,5.3 0 1,0 10.6,0 a5.3,5.3 0 1,0 -10.6,0 M1227.1,1080 a5.3,5.3 0 1,0 10.6,0 a5.3,5.3 0 1,0 -10.6,0 M1236.9,1084.5 a5.3,5.3 0 1,0 10.6,0 a5.3,5.3 0 1,0 -10.6,0 M1235.7,1093.1 a5.3,5.3 0 1,0 10.6,0 a5.3,5.3 0 1,0 -10.6,0 M1228.3,1101.1 a5.3,5.3 0 1,0 10.6,0 a5.3,5.3 0 1,0 -10.6,0 M1227.4,1102 a5.3,5.3 0 1,0 10.6,0 a5.3,5.3 0 1,0 -10.6,0 M1222.2,1108.1 a5.3,5.3 0 1,0 10.6,0 a5.3,5.3 0 1,0 -10.6,0 M1217.1,1114.3 a5.3,5.3 0 1,0 10.6,0 a5.3,5.3 0 1,0 -10.6,0 M1212.5,1120.7 a5.3,5.3 0 1,0 10.6,0 a5.3,5.3 0 1,0 -10.6,0 M1208.3,1127.6 a5.3,5.3 0 1,0 10.6,0 a5.3,5.3 0 1,0 -10.6,0 M1203.8,1134.2 a5.3,5.3 0 1,0 10.6,0 a5.3,5.3 0 1,0 -10.6,0 M1199.1,1140.7 a5.3,5.3 0 1,0 10.6,0 a5.3,5.3 0 1,0 -10.6,0 M1195.9,1148 a5.3,5.3 0 1,0 10.6,0 a5.3,5.3 0 1,0 -10.6,0 M1192.2,1155 a5.3,5.3 0 1,0 10.6,0 a5.3,5.3 0 1,0 -10.6,0 M1187.6,1161.6 a5.3,5.3 0 1,0 10.6,0 a5.3,5.3 0 1,0 -10.6,0 M1181.9,1167.2 a5.3,5.3 0 1,0 10.6,0 a5.3,5.3 0 1,0 -10.6,0 M1175.6,1172.1 a5.3,5.3 0 1,0 10.6,0 a5.3,5.3 0 1,0 -10.6,0 M1169.2,1176.9 a5.3,5.3 0 1,0 10.6,0 a5.3,5.3 0 1,0 -10.6,0 M1163.6,1182.6 a5.3,5.3 0 1,0 10.6,0 a5.3,5.3 0 1,0 -10.6,0 M1159.7,1189.4 a5.3,5.3 0 1,0 10.6,0 a5.3,5.3 0 1,0 -10.6,0 M1156.7,1196.8 a5.3,5.3 0 1,0 10.6,0 a5.3,5.3 0 1,0 -10.6,0 M1151.6,1202.8 a5.3,5.3 0 1,0 10.6,0 a5.3,5.3 0 1,0 -10.6,0 M1146.5,1208.9 a5.3,5.3 0 1,0 10.6,0 a5.3,5.3 0 1,0 -10.6,0 M1143.1,1216.1 a5.3,5.3 0 1,0 10.6,0 a5.3,5.3 0 1,0 -10.6,0 M1139.9,1223.5 a5.3,5.3 0 1,0 10.6,0 a5.3,5.3 0 1,0 -10.6,0 M1136.3,1230.6 a5.3,5.3 0 1,0 10.6,0 a5.3,5.3 0 1,0 -10.6,0 M1132.3,1237.5 a5.3,5.3 0 1,0 10.6,0 a5.3,5.3 0 1,0 -10.6,0 M1127.8,1244.2 a5.3,5.3 0 1,0 10.6,0 a5.3,5.3 0 1,0 -10.6,0 M1122.7,1250.2 a5.3,5.3 0 1,0 10.6,0 a5.3,5.3 0 1,0 -10.6,0 M1116.7,1255.6 a5.3,5.3 0 1,0 10.6,0 a5.3,5.3 0 1,0 -10.6,0 M1110.8,1260.9 a5.3,5.3 0 1,0 10.6,0 a5.3,5.3 0 1,0 -10.6,0 M1105.3,1266.8 a5.3,5.3 0 1,0 10.6,0 a5.3,5.3 0 1,0 -10.6,0 M1099.9,1272.6 a5.3,5.3 0 1,0 10.6,0 a5.3,5.3 0 1,0 -10.6,0 M1094.5,1278.5 a5.3,5.3 0 1,0 10.6,0 a5.3,5.3 0 1,0 -10.6,0 M1089.2,1284.6 a5.3,5.3 0 1,0 10.6,0 a5.3,5.3 0 1,0 -10.6,0 M1083.9,1290.6 a5.3,5.3 0 1,0 10.6,0 a5.3,5.3 0 1,0 -10.6,0 M1078.9,1296.8 a5.3,5.3 0 1,0 10.6,0 a5.3,5.3 0 1,0 -10.6,0 M1073.9,1303 a5.3,5.3 0 1,0 10.6,0 a5.3,5.3 0 1,0 -10.6,0 M1068.6,1309 a5.3,5.3 0 1,0 10.6,0 a5.3,5.3 0 1,0 -10.6,0 M1063,1314.7 a5.3,5.3 0 1,0 10.6,0 a5.3,5.3 0 1,0 -10.6,0 M1056.6,1319.2 a5.3,5.3 0 1,0 10.6,0 a5.3,5.3 0 1,0 -10.6,0 M1049.2,1321.8 a5.3,5.3 0 1,0 10.6,0 a5.3,5.3 0 1,0 -10.6,0 M1041.5,1319.5 a5.3,5.3 0 1,0 10.6,0 a5.3,5.3 0 1,0 -10.6,0 M1088.4,1095.6 a5.3,5.3 0 1,0 10.6,0 a5.3,5.3 0 1,0 -10.6,0 M1095.1,1101.7 a5.3,5.3 0 1,0 10.6,0 a5.3,5.3 0 1,0 -10.6,0 M1101.4,1108 a5.3,5.3 0 1,0 10.6,0 a5.3,5.3 0 1,0 -10.6,0 M1105,1116.3 a5.3,5.3 0 1,0 10.6,0 a5.3,5.3 0 1,0 -10.6,0 M1109.3,1124.2 a5.3,5.3 0 1,0 10.6,0 a5.3,5.3 0 1,0 -10.6,0 M1113.7,1132 a5.3,5.3 0 1,0 10.6,0 a5.3,5.3 0 1,0 -10.6,0 M1119,1139.2 a5.3,5.3 0 1,0 10.6,0 a5.3,5.3 0 1,0 -10.6,0 M1125.2,1145.7 a5.3,5.3 0 1,0 10.6,0 a5.3,5.3 0 1,0 -10.6,0 M1131,1152.5 a5.3,5.3 0 1,0 10.6,0 a5.3,5.3 0 1,0 -10.6,0 M1137.6,1158.7 a5.3,5.3 0 1,0 10.6,0 a5.3,5.3 0 1,0 -10.6,0 M1142.3,1166.1 a5.3,5.3 0 1,0 10.6,0 a5.3,5.3 0 1,0 -10.6,0 M1145.9,1174.2 a5.3,5.3 0 1,0 10.6,0 a5.3,5.3 0 1,0 -10.6,0 M1152.7,1180.1 a5.3,5.3 0 1,0 10.6,0 a5.3,5.3 0 1,0 -10.6,0 M1158.8,1186.7 a5.3,5.3 0 1,0 10.6,0 a5.3,5.3 0 1,0 -10.6,0 M1165.1,1193.2 a5.3,5.3 0 1,0 10.6,0 a5.3,5.3 0 1,0 -10.6,0 M1171.5,1199.4 a5.3,5.3 0 1,0 10.6,0 a5.3,5.3 0 1,0 -10.6,0 M1176.7,1206.7 a5.3,5.3 0 1,0 10.6,0 a5.3,5.3 0 1,0 -10.6,0 M1181.9,1214.1 a5.3,5.3 0 1,0 10.6,0 a5.3,5.3 0 1,0 -10.6,0 M1187,1221.5 a5.3,5.3 0 1,0 10.6,0 a5.3,5.3 0 1,0 -10.6,0 M1192,1229 a5.3,5.3 0 1,0 10.6,0 a5.3,5.3 0 1,0 -10.6,0 M1196.9,1236.5 a5.3,5.3 0 1,0 10.6,0 a5.3,5.3 0 1,0 -10.6,0 M1203.7,1242.2 a5.3,5.3 0 1,0 10.6,0 a5.3,5.3 0 1,0 -10.6,0 M1210.8,1247.6 a5.3,5.3 0 1,0 10.6,0 a5.3,5.3 0 1,0 -10.6,0 M1217.2,1253.9 a5.3,5.3 0 1,0 10.6,0 a5.3,5.3 0 1,0 -10.6,0 M1224.3,1259.4 a5.3,5.3 0 1,0 10.6,0 a5.3,5.3 0 1,0 -10.6,0 M1230.7,1265.7 a5.3,5.3 0 1,0 10.6,0 a5.3,5.3 0 1,0 -10.6,0 M1236.2,1272.8 a5.3,5.3 0 1,0 10.6,0 a5.3,5.3 0 1,0 -10.6,0 M1240.8,1280.5 a5.3,5.3 0 1,0 10.6,0 a5.3,5.3 0 1,0 -10.6,0 M1245.5,1288.2 a5.3,5.3 0 1,0 10.6,0 a5.3,5.3 0 1,0 -10.6,0 M1251.2,1295.2 a5.3,5.3 0 1,0 10.6,0 a5.3,5.3 0 1,0 -10.6,0 M1256.6,1302.3 a5.3,5.3 0 1,0 10.6,0 a5.3,5.3 0 1,0 -10.6,0 M1262.2,1309.4 a5.3,5.3 0 1,0 10.6,0 a5.3,5.3 0 1,0 -10.6,0 M1267.1,1316.8 a5.3,5.3 0 1,0 10.6,0 a5.3,5.3 0 1,0 -10.6,0 M1268.7,1294.6 a5.3,5.3 0 1,0 10.6,0 a5.3,5.3 0 1,0 -10.6,0 M1281.7,1292.7 a5.3,5.3 0 1,0 10.6,0 a5.3,5.3 0 1,0 -10.6,0 M1296.6,1298.3 a5.3,5.3 0 1,0 10.6,0 a5.3,5.3 0 1,0 -10.6,0 M1287.3,1307.5 a5.3,5.3 0 1,0 10.6,0 a5.3,5.3 0 1,0 -10.6,0 M1276.2,1313 a5.3,5.3 0 1,0 10.6,0 a5.3,5.3 0 1,0 -10.6,0 M1285.5,1320.5 a5.3,5.3 0 1,0 10.6,0 a5.3,5.3 0 1,0 -10.6,0 M1272.5,1327.8 a5.3,5.3 0 1,0 10.6,0 a5.3,5.3 0 1,0 -10.6,0 M1254.1,1333.4 a5.3,5.3 0 1,0 10.6,0 a5.3,5.3 0 1,0 -10.6,0 M1265.2,1335.2 a5.3,5.3 0 1,0 10.6,0 a5.3,5.3 0 1,0 -10.6,0 M1259.7,1320 a5.3,5.3 0 1,0 10.6,0 a5.3,5.3 0 1,0 -10.6,0 M1277.7,1300 a5.3,5.3 0 1,0 10.6,0 a5.3,5.3 0 1,0 -10.6,0 M1039.7,1319 a5.3,5.3 0 1,0 10.6,0 a5.3,5.3 0 1,0 -10.6,0 M1047.7,1323 a5.3,5.3 0 1,0 10.6,0 a5.3,5.3 0 1,0 -10.6,0 M1057.3,1326 a5.3,5.3 0 1,0 10.6,0 a5.3,5.3 0 1,0 -10.6,0 M1044.7,1315 a5.3,5.3 0 1,0 10.6,0 a5.3,5.3 0 1,0 -10.6,0 M1052.7,1328 a5.3,5.3 0 1,0 10.6,0 a5.3,5.3 0 1,0 -10.6,0" fill="#151515" stroke="#000" stroke-width="0.6"/>
<path d="M1198.1,1177.7 a4.4,4.4 0 1,0 8.8,0 a4.4,4.4 0 1,0 -8.8,0 M1190.7,1179 a4.4,4.4 0 1,0 8.8,0 a4.4,4.4 0 1,0 -8.8,0 M1183.2,1179.1 a4.4,4.4 0 1,0 8.8,0 a4.4,4.4 0 1,0 -8.8,0 M1175.7,1178.9 a4.4,4.4 0 1,0 8.8,0 a4.4,4.4 0 1,0 -8.8,0 M1168.2,1178.4 a4.4,4.4 0 1,0 8.8,0 a4.4,4.4 0 1,0 -8.8,0 M1161.2,1175.9 a4.4,4.4 0 1,0 8.8,0 a4.4,4.4 0 1,0 -8.8,0 M1154.1,1173.4 a4.4,4.4 0 1,0 8.8,0 a4.4,4.4 0 1,0 -8.8,0 M1146.9,1171.5 a4.4,4.4 0 1,0 8.8,0 a4.4,4.4 0 1,0 -8.8,0 M1139.4,1170.9 a4.4,4.4 0 1,0 8.8,0 a4.4,4.4 0 1,0 -8.8,0 M1132,1170.4 a4.4,4.4 0 1,0 8.8,0 a4.4,4.4 0 1,0 -8.8,0 M1124.5,1169.6 a4.4,4.4 0 1,0 8.8,0 a4.4,4.4 0 1,0 -8.8,0 M1117,1168.8 a4.4,4.4 0 1,0 8.8,0 a4.4,4.4 0 1,0 -8.8,0 M1109.6,1168.1 a4.4,4.4 0 1,0 8.8,0 a4.4,4.4 0 1,0 -8.8,0 M1102.1,1168.5 a4.4,4.4 0 1,0 8.8,0 a4.4,4.4 0 1,0 -8.8,0 M1094.6,1168.8 a4.4,4.4 0 1,0 8.8,0 a4.4,4.4 0 1,0 -8.8,0 M1087.1,1169.1 a4.4,4.4 0 1,0 8.8,0 a4.4,4.4 0 1,0 -8.8,0 M1079.6,1169.4 a4.4,4.4 0 1,0 8.8,0 a4.4,4.4 0 1,0 -8.8,0 M1072.2,1170.2 a4.4,4.4 0 1,0 8.8,0 a4.4,4.4 0 1,0 -8.8,0 M1064.7,1171.1 a4.4,4.4 0 1,0 8.8,0 a4.4,4.4 0 1,0 -8.8,0 M1057.3,1172.1 a4.4,4.4 0 1,0 8.8,0 a4.4,4.4 0 1,0 -8.8,0 M1049.8,1173.1 a4.4,4.4 0 1,0 8.8,0 a4.4,4.4 0 1,0 -8.8,0 M1042.4,1174.2 a4.4,4.4 0 1,0 8.8,0 a4.4,4.4 0 1,0 -8.8,0 M1037.9,1177.9 a4.4,4.4 0 1,0 8.8,0 a4.4,4.4 0 1,0 -8.8,0 M1038.3,1185.4 a4.4,4.4 0 1,0 8.8,0 a4.4,4.4 0 1,0 -8.8,0 M1039.5,1192.8 a4.4,4.4 0 1,0 8.8,0 a4.4,4.4 0 1,0 -8.8,0 M1040.9,1200.1 a4.4,4.4 0 1,0 8.8,0 a4.4,4.4 0 1,0 -8.8,0 M1042.4,1207.5 a4.4,4.4 0 1,0 8.8,0 a4.4,4.4 0 1,0 -8.8,0 M1043.8,1214.9 a4.4,4.4 0 1,0 8.8,0 a4.4,4.4 0 1,0 -8.8,0 M1045.2,1222.2 a4.4,4.4 0 1,0 8.8,0 a4.4,4.4 0 1,0 -8.8,0 M1046.5,1229.6 a4.4,4.4 0 1,0 8.8,0 a4.4,4.4 0 1,0 -8.8,0 M1047.9,1237 a4.4,4.4 0 1,0 8.8,0 a4.4,4.4 0 1,0 -8.8,0 M1048.9,1244.4 a4.4,4.4 0 1,0 8.8,0 a4.4,4.4 0 1,0 -8.8,0 M1048.9,1251.9 a4.4,4.4 0 1,0 8.8,0 a4.4,4.4 0 1,0 -8.8,0 M1049.1,1259.4 a4.4,4.4 0 1,0 8.8,0 a4.4,4.4 0 1,0 -8.8,0 M1049.7,1266.9 a4.4,4.4 0 1,0 8.8,0 a4.4,4.4 0 1,0 -8.8,0 M1050.4,1274.3 a4.4,4.4 0 1,0 8.8,0 a4.4,4.4 0 1,0 -8.8,0 M1051.2,1281.8 a4.4,4.4 0 1,0 8.8,0 a4.4,4.4 0 1,0 -8.8,0 M1052.5,1289.2 a4.4,4.4 0 1,0 8.8,0 a4.4,4.4 0 1,0 -8.8,0 M1053.7,1296.6 a4.4,4.4 0 1,0 8.8,0 a4.4,4.4 0 1,0 -8.8,0 M1054.5,1304 a4.4,4.4 0 1,0 8.8,0 a4.4,4.4 0 1,0 -8.8,0 M1059.6,1308 a4.4,4.4 0 1,0 8.8,0 a4.4,4.4 0 1,0 -8.8,0 M1066.7,1309.9 a4.4,4.4 0 1,0 8.8,0 a4.4,4.4 0 1,0 -8.8,0 M1074.2,1309.4 a4.4,4.4 0 1,0 8.8,0 a4.4,4.4 0 1,0 -8.8,0 M1081.3,1308.1 a4.4,4.4 0 1,0 8.8,0 a4.4,4.4 0 1,0 -8.8,0 M1085.8,1302.1 a4.4,4.4 0 1,0 8.8,0 a4.4,4.4 0 1,0 -8.8,0" fill="#F5A3CF" stroke="#C98AAE" stroke-width="0.6"/>
<path d="M1061.3,1312.2 a4.8,4.8 0 1,0 9.6,0 a4.8,4.8 0 1,0 -9.6,0 M1061.4,1306.2 a4.8,4.8 0 1,0 9.6,0 a4.8,4.8 0 1,0 -9.6,0 M1061.4,1300.2 a4.8,4.8 0 1,0 9.6,0 a4.8,4.8 0 1,0 -9.6,0 M1061.5,1294.2 a4.8,4.8 0 1,0 9.6,0 a4.8,4.8 0 1,0 -9.6,0 M1061.5,1288.2 a4.8,4.8 0 1,0 9.6,0 a4.8,4.8 0 1,0 -9.6,0 M1061.6,1282.2 a4.8,4.8 0 1,0 9.6,0 a4.8,4.8 0 1,0 -9.6,0 M1061.6,1276.2 a4.8,4.8 0 1,0 9.6,0 a4.8,4.8 0 1,0 -9.6,0 M1061.7,1270.2 a4.8,4.8 0 1,0 9.6,0 a4.8,4.8 0 1,0 -9.6,0 M1061.8,1264.2 a4.8,4.8 0 1,0 9.6,0 a4.8,4.8 0 1,0 -9.6,0 M1061.9,1258.2 a4.8,4.8 0 1,0 9.6,0 a4.8,4.8 0 1,0 -9.6,0 M1062,1252.2 a4.8,4.8 0 1,0 9.6,0 a4.8,4.8 0 1,0 -9.6,0 M1062.1,1246.2 a4.8,4.8 0 1,0 9.6,0 a4.8,4.8 0 1,0 -9.6,0 M1062.2,1240.2 a4.8,4.8 0 1,0 9.6,0 a4.8,4.8 0 1,0 -9.6,0 M1062.3,1234.2 a4.8,4.8 0 1,0 9.6,0 a4.8,4.8 0 1,0 -9.6,0 M1062.4,1228.2 a4.8,4.8 0 1,0 9.6,0 a4.8,4.8 0 1,0 -9.6,0 M1065.9,1227.7 a4.8,4.8 0 1,0 9.6,0 a4.8,4.8 0 1,0 -9.6,0 M1071.4,1230.2 a4.8,4.8 0 1,0 9.6,0 a4.8,4.8 0 1,0 -9.6,0 M1076.8,1232.8 a4.8,4.8 0 1,0 9.6,0 a4.8,4.8 0 1,0 -9.6,0 M1082.2,1235.5 a4.8,4.8 0 1,0 9.6,0 a4.8,4.8 0 1,0 -9.6,0 M1087.5,1238.2 a4.8,4.8 0 1,0 9.6,0 a4.8,4.8 0 1,0 -9.6,0 M1092.9,1240.9 a4.8,4.8 0 1,0 9.6,0 a4.8,4.8 0 1,0 -9.6,0 M1098.3,1243.5 a4.8,4.8 0 1,0 9.6,0 a4.8,4.8 0 1,0 -9.6,0 M1103.6,1246.2 a4.8,4.8 0 1,0 9.6,0 a4.8,4.8 0 1,0 -9.6,0 M1109,1248.9 a4.8,4.8 0 1,0 9.6,0 a4.8,4.8 0 1,0 -9.6,0 M1114.4,1251.6 a4.8,4.8 0 1,0 9.6,0 a4.8,4.8 0 1,0 -9.6,0 M1119.8,1254.1 a4.8,4.8 0 1,0 9.6,0 a4.8,4.8 0 1,0 -9.6,0 M1125.3,1256.6 a4.8,4.8 0 1,0 9.6,0 a4.8,4.8 0 1,0 -9.6,0 M1130.7,1259.1 a4.8,4.8 0 1,0 9.6,0 a4.8,4.8 0 1,0 -9.6,0 M1132.2,1260 a4.8,4.8 0 1,0 9.6,0 a4.8,4.8 0 1,0 -9.6,0 M1136.9,1251.2 a4.8,4.8 0 1,0 9.6,0 a4.8,4.8 0 1,0 -9.6,0 M1141.9,1242.5 a4.8,4.8 0 1,0 9.6,0 a4.8,4.8 0 1,0 -9.6,0 M1147.4,1234.2 a4.8,4.8 0 1,0 9.6,0 a4.8,4.8 0 1,0 -9.6,0 M1153.2,1226 a4.8,4.8 0 1,0 9.6,0 a4.8,4.8 0 1,0 -9.6,0 M1160.2,1219 a4.8,4.8 0 1,0 9.6,0 a4.8,4.8 0 1,0 -9.6,0 M1167.3,1211.9 a4.8,4.8 0 1,0 9.6,0 a4.8,4.8 0 1,0 -9.6,0 M1174.5,1205 a4.8,4.8 0 1,0 9.6,0 a4.8,4.8 0 1,0 -9.6,0 M1181.9,1198.2 a4.8,4.8 0 1,0 9.6,0 a4.8,4.8 0 1,0 -9.6,0 M1043.7,1346.5 a4.8,4.8 0 1,0 9.6,0 a4.8,4.8 0 1,0 -9.6,0 M1046.6,1343.8 a4.8,4.8 0 1,0 9.6,0 a4.8,4.8 0 1,0 -9.6,0 M1049.6,1341.1 a4.8,4.8 0 1,0 9.6,0 a4.8,4.8 0 1,0 -9.6,0 M1052.5,1338.4 a4.8,4.8 0 1,0 9.6,0 a4.8,4.8 0 1,0 -9.6,0 M1055.5,1335.7 a4.8,4.8 0 1,0 9.6,0 a4.8,4.8 0 1,0 -9.6,0 M1058.4,1332.9 a4.8,4.8 0 1,0 9.6,0 a4.8,4.8 0 1,0 -9.6,0 M1061.4,1330.2 a4.8,4.8 0 1,0 9.6,0 a4.8,4.8 0 1,0 -9.6,0 M1064.3,1327.5 a4.8,4.8 0 1,0 9.6,0 a4.8,4.8 0 1,0 -9.6,0 M1067.2,1324.8 a4.8,4.8 0 1,0 9.6,0 a4.8,4.8 0 1,0 -9.6,0 M1070.2,1322.1 a4.8,4.8 0 1,0 9.6,0 a4.8,4.8 0 1,0 -9.6,0 M1073.1,1319.4 a4.8,4.8 0 1,0 9.6,0 a4.8,4.8 0 1,0 -9.6,0 M1076.1,1316.7 a4.8,4.8 0 1,0 9.6,0 a4.8,4.8 0 1,0 -9.6,0 M1079,1314 a4.8,4.8 0 1,0 9.6,0 a4.8,4.8 0 1,0 -9.6,0 M1081.9,1311.3 a4.8,4.8 0 1,0 9.6,0 a4.8,4.8 0 1,0 -9.6,0 M1084.9,1308.6 a4.8,4.8 0 1,0 9.6,0 a4.8,4.8 0 1,0 -9.6,0 M1087.8,1305.8 a4.8,4.8 0 1,0 9.6,0 a4.8,4.8 0 1,0 -9.6,0 M1090.8,1303.1 a4.8,4.8 0 1,0 9.6,0 a4.8,4.8 0 1,0 -9.6,0 M1093.7,1300.4 a4.8,4.8 0 1,0 9.6,0 a4.8,4.8 0 1,0 -9.6,0 M1096.7,1297.7 a4.8,4.8 0 1,0 9.6,0 a4.8,4.8 0 1,0 -9.6,0 M1099.6,1295 a4.8,4.8 0 1,0 9.6,0 a4.8,4.8 0 1,0 -9.6,0 M1102.5,1292.3 a4.8,4.8 0 1,0 9.6,0 a4.8,4.8 0 1,0 -9.6,0 M1105.5,1289.6 a4.8,4.8 0 1,0 9.6,0 a4.8,4.8 0 1,0 -9.6,0 M1108.4,1286.9 a4.8,4.8 0 1,0 9.6,0 a4.8,4.8 0 1,0 -9.6,0 M1111.4,1284.2 a4.8,4.8 0 1,0 9.6,0 a4.8,4.8 0 1,0 -9.6,0 M1114.3,1281.5 a4.8,4.8 0 1,0 9.6,0 a4.8,4.8 0 1,0 -9.6,0 M1117.2,1278.7 a4.8,4.8 0 1,0 9.6,0 a4.8,4.8 0 1,0 -9.6,0 M1120.2,1276 a4.8,4.8 0 1,0 9.6,0 a4.8,4.8 0 1,0 -9.6,0 M1123.1,1273.3 a4.8,4.8 0 1,0 9.6,0 a4.8,4.8 0 1,0 -9.6,0 M1126.1,1270.6 a4.8,4.8 0 1,0 9.6,0 a4.8,4.8 0 1,0 -9.6,0 M1129,1267.9 a4.8,4.8 0 1,0 9.6,0 a4.8,4.8 0 1,0 -9.6,0 M1132,1265.2 a4.8,4.8 0 1,0 9.6,0 a4.8,4.8 0 1,0 -9.6,0 M1134.8,1262.4 a4.8,4.8 0 1,0 9.6,0 a4.8,4.8 0 1,0 -9.6,0 M1137.6,1259.5 a4.8,4.8 0 1,0 9.6,0 a4.8,4.8 0 1,0 -9.6,0 M1140.4,1256.7 a4.8,4.8 0 1,0 9.6,0 a4.8,4.8 0 1,0 -9.6,0 M1143.2,1253.8 a4.8,4.8 0 1,0 9.6,0 a4.8,4.8 0 1,0 -9.6,0 M1146,1251 a4.8,4.8 0 1,0 9.6,0 a4.8,4.8 0 1,0 -9.6,0 M1148.8,1248.1 a4.8,4.8 0 1,0 9.6,0 a4.8,4.8 0 1,0 -9.6,0 M1151.6,1245.2 a4.8,4.8 0 1,0 9.6,0 a4.8,4.8 0 1,0 -9.6,0 M1154.4,1242.4 a4.8,4.8 0 1,0 9.6,0 a4.8,4.8 0 1,0 -9.6,0 M1157.2,1239.5 a4.8,4.8 0 1,0 9.6,0 a4.8,4.8 0 1,0 -9.6,0 M1160,1236.7 a4.8,4.8 0 1,0 9.6,0 a4.8,4.8 0 1,0 -9.6,0 M1162.8,1233.8 a4.8,4.8 0 1,0 9.6,0 a4.8,4.8 0 1,0 -9.6,0 M1165.6,1231 a4.8,4.8 0 1,0 9.6,0 a4.8,4.8 0 1,0 -9.6,0 M1168.4,1228.1 a4.8,4.8 0 1,0 9.6,0 a4.8,4.8 0 1,0 -9.6,0 M1171.2,1225.3 a4.8,4.8 0 1,0 9.6,0 a4.8,4.8 0 1,0 -9.6,0 M1174,1222.4 a4.8,4.8 0 1,0 9.6,0 a4.8,4.8 0 1,0 -9.6,0 M1176.8,1219.6 a4.8,4.8 0 1,0 9.6,0 a4.8,4.8 0 1,0 -9.6,0 M1179.6,1216.7 a4.8,4.8 0 1,0 9.6,0 a4.8,4.8 0 1,0 -9.6,0 M1182.4,1213.9 a4.8,4.8 0 1,0 9.6,0 a4.8,4.8 0 1,0 -9.6,0 M1185.2,1211 a4.8,4.8 0 1,0 9.6,0 a4.8,4.8 0 1,0 -9.6,0 M1187.9,1208.1 a4.8,4.8 0 1,0 9.6,0 a4.8,4.8 0 1,0 -9.6,0 M1190,1204.6 a4.8,4.8 0 1,0 9.6,0 a4.8,4.8 0 1,0 -9.6,0 M1192,1201.2 a4.8,4.8 0 1,0 9.6,0 a4.8,4.8 0 1,0 -9.6,0 M1194,1197.7 a4.8,4.8 0 1,0 9.6,0 a4.8,4.8 0 1,0 -9.6,0 M1196,1194.2 a4.8,4.8 0 1,0 9.6,0 a4.8,4.8 0 1,0 -9.6,0 M1198,1190.8 a4.8,4.8 0 1,0 9.6,0 a4.8,4.8 0 1,0 -9.6,0 M1200,1187.3 a4.8,4.8 0 1,0 9.6,0 a4.8,4.8 0 1,0 -9.6,0 M1202,1183.9 a4.8,4.8 0 1,0 9.6,0 a4.8,4.8 0 1,0 -9.6,0 M1204,1180.4 a4.8,4.8 0 1,0 9.6,0 a4.8,4.8 0 1,0 -9.6,0 M1206,1176.9 a4.8,4.8 0 1,0 9.6,0 a4.8,4.8 0 1,0 -9.6,0 M1208,1173.5 a4.8,4.8 0 1,0 9.6,0 a4.8,4.8 0 1,0 -9.6,0 M1210,1170 a4.8,4.8 0 1,0 9.6,0 a4.8,4.8 0 1,0 -9.6,0 M1048.7,1351.5 a4.8,4.8 0 1,0 9.6,0 a4.8,4.8 0 1,0 -9.6,0 M1051.6,1348.8 a4.8,4.8 0 1,0 9.6,0 a4.8,4.8 0 1,0 -9.6,0 M1054.6,1346.1 a4.8,4.8 0 1,0 9.6,0 a4.8,4.8 0 1,0 -9.6,0 M1057.5,1343.4 a4.8,4.8 0 1,0 9.6,0 a4.8,4.8 0 1,0 -9.6,0 M1060.5,1340.7 a4.8,4.8 0 1,0 9.6,0 a4.8,4.8 0 1,0 -9.6,0 M1063.4,1337.9 a4.8,4.8 0 1,0 9.6,0 a4.8,4.8 0 1,0 -9.6,0 M1066.4,1335.2 a4.8,4.8 0 1,0 9.6,0 a4.8,4.8 0 1,0 -9.6,0 M1069.3,1332.5 a4.8,4.8 0 1,0 9.6,0 a4.8,4.8 0 1,0 -9.6,0 M1072.2,1329.8 a4.8,4.8 0 1,0 9.6,0 a4.8,4.8 0 1,0 -9.6,0 M1075.2,1327.1 a4.8,4.8 0 1,0 9.6,0 a4.8,4.8 0 1,0 -9.6,0 M1078.1,1324.4 a4.8,4.8 0 1,0 9.6,0 a4.8,4.8 0 1,0 -9.6,0 M1081.1,1321.7 a4.8,4.8 0 1,0 9.6,0 a4.8,4.8 0 1,0 -9.6,0 M1084,1319 a4.8,4.8 0 1,0 9.6,0 a4.8,4.8 0 1,0 -9.6,0 M1086.9,1316.3 a4.8,4.8 0 1,0 9.6,0 a4.8,4.8 0 1,0 -9.6,0 M1089.9,1313.6 a4.8,4.8 0 1,0 9.6,0 a4.8,4.8 0 1,0 -9.6,0 M1092.8,1310.8 a4.8,4.8 0 1,0 9.6,0 a4.8,4.8 0 1,0 -9.6,0 M1095.8,1308.1 a4.8,4.8 0 1,0 9.6,0 a4.8,4.8 0 1,0 -9.6,0 M1098.7,1305.4 a4.8,4.8 0 1,0 9.6,0 a4.8,4.8 0 1,0 -9.6,0 M1101.7,1302.7 a4.8,4.8 0 1,0 9.6,0 a4.8,4.8 0 1,0 -9.6,0 M1104.6,1300 a4.8,4.8 0 1,0 9.6,0 a4.8,4.8 0 1,0 -9.6,0 M1107.5,1297.3 a4.8,4.8 0 1,0 9.6,0 a4.8,4.8 0 1,0 -9.6,0 M1110.5,1294.6 a4.8,4.8 0 1,0 9.6,0 a4.8,4.8 0 1,0 -9.6,0 M1113.4,1291.9 a4.8,4.8 0 1,0 9.6,0 a4.8,4.8 0 1,0 -9.6,0 M1116.4,1289.2 a4.8,4.8 0 1,0 9.6,0 a4.8,4.8 0 1,0 -9.6,0 M1119.3,1286.5 a4.8,4.8 0 1,0 9.6,0 a4.8,4.8 0 1,0 -9.6,0 M1122.2,1283.7 a4.8,4.8 0 1,0 9.6,0 a4.8,4.8 0 1,0 -9.6,0 M1125.2,1281 a4.8,4.8 0 1,0 9.6,0 a4.8,4.8 0 1,0 -9.6,0 M1128.1,1278.3 a4.8,4.8 0 1,0 9.6,0 a4.8,4.8 0 1,0 -9.6,0 M1131.1,1275.6 a4.8,4.8 0 1,0 9.6,0 a4.8,4.8 0 1,0 -9.6,0 M1134,1272.9 a4.8,4.8 0 1,0 9.6,0 a4.8,4.8 0 1,0 -9.6,0 M1137,1270.2 a4.8,4.8 0 1,0 9.6,0 a4.8,4.8 0 1,0 -9.6,0 M1139.8,1267.4 a4.8,4.8 0 1,0 9.6,0 a4.8,4.8 0 1,0 -9.6,0 M1142.6,1264.5 a4.8,4.8 0 1,0 9.6,0 a4.8,4.8 0 1,0 -9.6,0 M1145.4,1261.7 a4.8,4.8 0 1,0 9.6,0 a4.8,4.8 0 1,0 -9.6,0 M1148.2,1258.8 a4.8,4.8 0 1,0 9.6,0 a4.8,4.8 0 1,0 -9.6,0 M1151,1256 a4.8,4.8 0 1,0 9.6,0 a4.8,4.8 0 1,0 -9.6,0 M1153.8,1253.1 a4.8,4.8 0 1,0 9.6,0 a4.8,4.8 0 1,0 -9.6,0 M1156.6,1250.2 a4.8,4.8 0 1,0 9.6,0 a4.8,4.8 0 1,0 -9.6,0 M1159.4,1247.4 a4.8,4.8 0 1,0 9.6,0 a4.8,4.8 0 1,0 -9.6,0 M1162.2,1244.5 a4.8,4.8 0 1,0 9.6,0 a4.8,4.8 0 1,0 -9.6,0 M1165,1241.7 a4.8,4.8 0 1,0 9.6,0 a4.8,4.8 0 1,0 -9.6,0 M1167.8,1238.8 a4.8,4.8 0 1,0 9.6,0 a4.8,4.8 0 1,0 -9.6,0 M1170.6,1236 a4.8,4.8 0 1,0 9.6,0 a4.8,4.8 0 1,0 -9.6,0 M1173.4,1233.1 a4.8,4.8 0 1,0 9.6,0 a4.8,4.8 0 1,0 -9.6,0 M1176.2,1230.3 a4.8,4.8 0 1,0 9.6,0 a4.8,4.8 0 1,0 -9.6,0 M1179,1227.4 a4.8,4.8 0 1,0 9.6,0 a4.8,4.8 0 1,0 -9.6,0 M1181.8,1224.6 a4.8,4.8 0 1,0 9.6,0 a4.8,4.8 0 1,0 -9.6,0 M1184.6,1221.7 a4.8,4.8 0 1,0 9.6,0 a4.8,4.8 0 1,0 -9.6,0 M1187.4,1218.9 a4.8,4.8 0 1,0 9.6,0 a4.8,4.8 0 1,0 -9.6,0 M1190.2,1216 a4.8,4.8 0 1,0 9.6,0 a4.8,4.8 0 1,0 -9.6,0 M1192.9,1213.1 a4.8,4.8 0 1,0 9.6,0 a4.8,4.8 0 1,0 -9.6,0 M1195,1209.6 a4.8,4.8 0 1,0 9.6,0 a4.8,4.8 0 1,0 -9.6,0 M1197,1206.2 a4.8,4.8 0 1,0 9.6,0 a4.8,4.8 0 1,0 -9.6,0 M1199,1202.7 a4.8,4.8 0 1,0 9.6,0 a4.8,4.8 0 1,0 -9.6,0 M1201,1199.2 a4.8,4.8 0 1,0 9.6,0 a4.8,4.8 0 1,0 -9.6,0 M1203,1195.8 a4.8,4.8 0 1,0 9.6,0 a4.8,4.8 0 1,0 -9.6,0 M1205,1192.3 a4.8,4.8 0 1,0 9.6,0 a4.8,4.8 0 1,0 -9.6,0 M1207,1188.9 a4.8,4.8 0 1,0 9.6,0 a4.8,4.8 0 1,0 -9.6,0 M1209,1185.4 a4.8,4.8 0 1,0 9.6,0 a4.8,4.8 0 1,0 -9.6,0 M1211,1181.9 a4.8,4.8 0 1,0 9.6,0 a4.8,4.8 0 1,0 -9.6,0 M1213,1178.5 a4.8,4.8 0 1,0 9.6,0 a4.8,4.8 0 1,0 -9.6,0 M1215,1175 a4.8,4.8 0 1,0 9.6,0 a4.8,4.8 0 1,0 -9.6,0" fill="#0505FA" stroke="#00009A" stroke-width="0.6"/>
<path d="M1060.3,1332.5 a2.2,2.2 0 1,0 4.4,0 a2.2,2.2 0 1,0 -4.4,0 M1062.1,1330.7 a2.2,2.2 0 1,0 4.4,0 a2.2,2.2 0 1,0 -4.4,0 M1063.8,1329 a2.2,2.2 0 1,0 4.4,0 a2.2,2.2 0 1,0 -4.4,0 M1065.6,1327.2 a2.2,2.2 0 1,0 4.4,0 a2.2,2.2 0 1,0 -4.4,0 M1067.4,1325.4 a2.2,2.2 0 1,0 4.4,0 a2.2,2.2 0 1,0 -4.4,0 M1069.1,1323.7 a2.2,2.2 0 1,0 4.4,0 a2.2,2.2 0 1,0 -4.4,0 M1070.9,1321.9 a2.2,2.2 0 1,0 4.4,0 a2.2,2.2 0 1,0 -4.4,0 M1072.7,1320.1 a2.2,2.2 0 1,0 4.4,0 a2.2,2.2 0 1,0 -4.4,0 M1074.4,1318.4 a2.2,2.2 0 1,0 4.4,0 a2.2,2.2 0 1,0 -4.4,0 M1076.2,1316.6 a2.2,2.2 0 1,0 4.4,0 a2.2,2.2 0 1,0 -4.4,0 M1078,1314.8 a2.2,2.2 0 1,0 4.4,0 a2.2,2.2 0 1,0 -4.4,0 M1079.7,1313.1 a2.2,2.2 0 1,0 4.4,0 a2.2,2.2 0 1,0 -4.4,0 M1081.5,1311.3 a2.2,2.2 0 1,0 4.4,0 a2.2,2.2 0 1,0 -4.4,0 M1083.3,1309.5 a2.2,2.2 0 1,0 4.4,0 a2.2,2.2 0 1,0 -4.4,0 M1085,1307.8 a2.2,2.2 0 1,0 4.4,0 a2.2,2.2 0 1,0 -4.4,0 M1086.8,1306 a2.2,2.2 0 1,0 4.4,0 a2.2,2.2 0 1,0 -4.4,0 M1088.6,1304.2 a2.2,2.2 0 1,0 4.4,0 a2.2,2.2 0 1,0 -4.4,0 M1090.4,1302.4 a2.2,2.2 0 1,0 4.4,0 a2.2,2.2 0 1,0 -4.4,0 M1092.1,1300.7 a2.2,2.2 0 1,0 4.4,0 a2.2,2.2 0 1,0 -4.4,0 M1093.9,1298.9 a2.2,2.2 0 1,0 4.4,0 a2.2,2.2 0 1,0 -4.4,0 M1095.7,1297.1 a2.2,2.2 0 1,0 4.4,0 a2.2,2.2 0 1,0 -4.4,0 M1097.4,1295.4 a2.2,2.2 0 1,0 4.4,0 a2.2,2.2 0 1,0 -4.4,0 M1099.2,1293.6 a2.2,2.2 0 1,0 4.4,0 a2.2,2.2 0 1,0 -4.4,0 M1101,1291.8 a2.2,2.2 0 1,0 4.4,0 a2.2,2.2 0 1,0 -4.4,0 M1102.7,1290.1 a2.2,2.2 0 1,0 4.4,0 a2.2,2.2 0 1,0 -4.4,0 M1104.5,1288.3 a2.2,2.2 0 1,0 4.4,0 a2.2,2.2 0 1,0 -4.4,0 M1106.3,1286.5 a2.2,2.2 0 1,0 4.4,0 a2.2,2.2 0 1,0 -4.4,0 M1108,1284.8 a2.2,2.2 0 1,0 4.4,0 a2.2,2.2 0 1,0 -4.4,0 M1109.8,1283 a2.2,2.2 0 1,0 4.4,0 a2.2,2.2 0 1,0 -4.4,0 M1111.6,1281.2 a2.2,2.2 0 1,0 4.4,0 a2.2,2.2 0 1,0 -4.4,0 M1113.3,1279.5 a2.2,2.2 0 1,0 4.4,0 a2.2,2.2 0 1,0 -4.4,0 M1115.1,1277.7 a2.2,2.2 0 1,0 4.4,0 a2.2,2.2 0 1,0 -4.4,0 M1116.9,1275.9 a2.2,2.2 0 1,0 4.4,0 a2.2,2.2 0 1,0 -4.4,0 M1118.6,1274.2 a2.2,2.2 0 1,0 4.4,0 a2.2,2.2 0 1,0 -4.4,0 M1120.4,1272.4 a2.2,2.2 0 1,0 4.4,0 a2.2,2.2 0 1,0 -4.4,0 M1122.2,1270.6 a2.2,2.2 0 1,0 4.4,0 a2.2,2.2 0 1,0 -4.4,0 M1123.9,1268.9 a2.2,2.2 0 1,0 4.4,0 a2.2,2.2 0 1,0 -4.4,0 M1125.7,1267.1 a2.2,2.2 0 1,0 4.4,0 a2.2,2.2 0 1,0 -4.4,0 M1127.5,1265.3 a2.2,2.2 0 1,0 4.4,0 a2.2,2.2 0 1,0 -4.4,0 M1129.2,1263.6 a2.2,2.2 0 1,0 4.4,0 a2.2,2.2 0 1,0 -4.4,0 M1131,1261.8 a2.2,2.2 0 1,0 4.4,0 a2.2,2.2 0 1,0 -4.4,0 M1132.8,1260 a2.2,2.2 0 1,0 4.4,0 a2.2,2.2 0 1,0 -4.4,0 M1134.5,1258.3 a2.2,2.2 0 1,0 4.4,0 a2.2,2.2 0 1,0 -4.4,0 M1136.3,1256.5 a2.2,2.2 0 1,0 4.4,0 a2.2,2.2 0 1,0 -4.4,0 M1138.1,1254.7 a2.2,2.2 0 1,0 4.4,0 a2.2,2.2 0 1,0 -4.4,0 M1139.8,1253 a2.2,2.2 0 1,0 4.4,0 a2.2,2.2 0 1,0 -4.4,0 M1141.6,1251.2 a2.2,2.2 0 1,0 4.4,0 a2.2,2.2 0 1,0 -4.4,0 M1143.4,1249.4 a2.2,2.2 0 1,0 4.4,0 a2.2,2.2 0 1,0 -4.4,0 M1145.2,1247.6 a2.2,2.2 0 1,0 4.4,0 a2.2,2.2 0 1,0 -4.4,0 M1146.9,1245.9 a2.2,2.2 0 1,0 4.4,0 a2.2,2.2 0 1,0 -4.4,0 M1148.7,1244.1 a2.2,2.2 0 1,0 4.4,0 a2.2,2.2 0 1,0 -4.4,0 M1150.5,1242.3 a2.2,2.2 0 1,0 4.4,0 a2.2,2.2 0 1,0 -4.4,0 M1152.2,1240.6 a2.2,2.2 0 1,0 4.4,0 a2.2,2.2 0 1,0 -4.4,0 M1154,1238.8 a2.2,2.2 0 1,0 4.4,0 a2.2,2.2 0 1,0 -4.4,0 M1155.8,1237 a2.2,2.2 0 1,0 4.4,0 a2.2,2.2 0 1,0 -4.4,0 M1157.5,1235.3 a2.2,2.2 0 1,0 4.4,0 a2.2,2.2 0 1,0 -4.4,0 M1159.3,1233.5 a2.2,2.2 0 1,0 4.4,0 a2.2,2.2 0 1,0 -4.4,0 M1161.1,1231.7 a2.2,2.2 0 1,0 4.4,0 a2.2,2.2 0 1,0 -4.4,0 M1162.8,1230 a2.2,2.2 0 1,0 4.4,0 a2.2,2.2 0 1,0 -4.4,0 M1164.6,1228.2 a2.2,2.2 0 1,0 4.4,0 a2.2,2.2 0 1,0 -4.4,0 M1166.4,1226.4 a2.2,2.2 0 1,0 4.4,0 a2.2,2.2 0 1,0 -4.4,0 M1168.1,1224.7 a2.2,2.2 0 1,0 4.4,0 a2.2,2.2 0 1,0 -4.4,0 M1169.9,1222.9 a2.2,2.2 0 1,0 4.4,0 a2.2,2.2 0 1,0 -4.4,0 M1171.7,1221.1 a2.2,2.2 0 1,0 4.4,0 a2.2,2.2 0 1,0 -4.4,0 M1173.4,1219.4 a2.2,2.2 0 1,0 4.4,0 a2.2,2.2 0 1,0 -4.4,0 M1175.2,1217.6 a2.2,2.2 0 1,0 4.4,0 a2.2,2.2 0 1,0 -4.4,0 M1177,1215.8 a2.2,2.2 0 1,0 4.4,0 a2.2,2.2 0 1,0 -4.4,0 M1178.7,1214.1 a2.2,2.2 0 1,0 4.4,0 a2.2,2.2 0 1,0 -4.4,0 M1180.5,1212.3 a2.2,2.2 0 1,0 4.4,0 a2.2,2.2 0 1,0 -4.4,0 M1182.3,1210.5 a2.2,2.2 0 1,0 4.4,0 a2.2,2.2 0 1,0 -4.4,0 M1184,1208.8 a2.2,2.2 0 1,0 4.4,0 a2.2,2.2 0 1,0 -4.4,0 M1185.8,1207 a2.2,2.2 0 1,0 4.4,0 a2.2,2.2 0 1,0 -4.4,0 M1187.6,1205.2 a2.2,2.2 0 1,0 4.4,0 a2.2,2.2 0 1,0 -4.4,0 M1189.3,1203.5 a2.2,2.2 0 1,0 4.4,0 a2.2,2.2 0 1,0 -4.4,0 M1191.1,1201.7 a2.2,2.2 0 1,0 4.4,0 a2.2,2.2 0 1,0 -4.4,0 M1192.9,1199.9 a2.2,2.2 0 1,0 4.4,0 a2.2,2.2 0 1,0 -4.4,0 M1194.7,1198.1 a2.2,2.2 0 1,0 4.4,0 a2.2,2.2 0 1,0 -4.4,0" fill="#9400E8" stroke="#7000B0" stroke-width="0.2"/>
<path d="M1194.6,1198 a3.4,3.4 0 1,0 6.8,0 a3.4,3.4 0 1,0 -6.8,0 M1196.4,1196.3 a3.4,3.4 0 1,0 6.8,0 a3.4,3.4 0 1,0 -6.8,0 M1198.3,1194.6 a3.4,3.4 0 1,0 6.8,0 a3.4,3.4 0 1,0 -6.8,0 M1200.1,1192.9 a3.4,3.4 0 1,0 6.8,0 a3.4,3.4 0 1,0 -6.8,0 M1201.9,1191.2 a3.4,3.4 0 1,0 6.8,0 a3.4,3.4 0 1,0 -6.8,0 M1203.7,1189.5 a3.4,3.4 0 1,0 6.8,0 a3.4,3.4 0 1,0 -6.8,0 M1205.6,1187.8 a3.4,3.4 0 1,0 6.8,0 a3.4,3.4 0 1,0 -6.8,0 M1207.4,1186 a3.4,3.4 0 1,0 6.8,0 a3.4,3.4 0 1,0 -6.8,0 M1209.2,1184.3 a3.4,3.4 0 1,0 6.8,0 a3.4,3.4 0 1,0 -6.8,0 M1211,1182.6 a3.4,3.4 0 1,0 6.8,0 a3.4,3.4 0 1,0 -6.8,0 M1212.9,1180.9 a3.4,3.4 0 1,0 6.8,0 a3.4,3.4 0 1,0 -6.8,0 M1214.7,1179.2 a3.4,3.4 0 1,0 6.8,0 a3.4,3.4 0 1,0 -6.8,0 M1216.5,1177.5 a3.4,3.4 0 1,0 6.8,0 a3.4,3.4 0 1,0 -6.8,0 M1218.3,1175.8 a3.4,3.4 0 1,0 6.8,0 a3.4,3.4 0 1,0 -6.8,0 M1220.2,1174.1 a3.4,3.4 0 1,0 6.8,0 a3.4,3.4 0 1,0 -6.8,0 M1222,1172.4 a3.4,3.4 0 1,0 6.8,0 a3.4,3.4 0 1,0 -6.8,0 M1223.8,1170.7 a3.4,3.4 0 1,0 6.8,0 a3.4,3.4 0 1,0 -6.8,0 M1225.6,1169 a3.4,3.4 0 1,0 6.8,0 a3.4,3.4 0 1,0 -6.8,0 M1227.4,1167.2 a3.4,3.4 0 1,0 6.8,0 a3.4,3.4 0 1,0 -6.8,0 M1229.1,1165.4 a3.4,3.4 0 1,0 6.8,0 a3.4,3.4 0 1,0 -6.8,0 M1230.8,1163.5 a3.4,3.4 0 1,0 6.8,0 a3.4,3.4 0 1,0 -6.8,0 M1232.5,1161.7 a3.4,3.4 0 1,0 6.8,0 a3.4,3.4 0 1,0 -6.8,0 M1234.3,1159.9 a3.4,3.4 0 1,0 6.8,0 a3.4,3.4 0 1,0 -6.8,0 M1236,1158.1 a3.4,3.4 0 1,0 6.8,0 a3.4,3.4 0 1,0 -6.8,0 M1237.7,1156.3 a3.4,3.4 0 1,0 6.8,0 a3.4,3.4 0 1,0 -6.8,0 M1239.5,1154.5 a3.4,3.4 0 1,0 6.8,0 a3.4,3.4 0 1,0 -6.8,0 M1241.2,1152.7 a3.4,3.4 0 1,0 6.8,0 a3.4,3.4 0 1,0 -6.8,0 M1242.9,1150.9 a3.4,3.4 0 1,0 6.8,0 a3.4,3.4 0 1,0 -6.8,0 M1244.6,1149.1 a3.4,3.4 0 1,0 6.8,0 a3.4,3.4 0 1,0 -6.8,0 M1246.4,1147.3 a3.4,3.4 0 1,0 6.8,0 a3.4,3.4 0 1,0 -6.8,0 M1248.1,1145.5 a3.4,3.4 0 1,0 6.8,0 a3.4,3.4 0 1,0 -6.8,0 M1249.8,1143.7 a3.4,3.4 0 1,0 6.8,0 a3.4,3.4 0 1,0 -6.8,0 M1251.6,1141.9 a3.4,3.4 0 1,0 6.8,0 a3.4,3.4 0 1,0 -6.8,0 M1253.3,1140.1 a3.4,3.4 0 1,0 6.8,0 a3.4,3.4 0 1,0 -6.8,0 M1255,1138.3 a3.4,3.4 0 1,0 6.8,0 a3.4,3.4 0 1,0 -6.8,0 M1256.7,1136.4 a3.4,3.4 0 1,0 6.8,0 a3.4,3.4 0 1,0 -6.8,0 M1258.5,1134.6 a3.4,3.4 0 1,0 6.8,0 a3.4,3.4 0 1,0 -6.8,0 M1260.2,1132.8 a3.4,3.4 0 1,0 6.8,0 a3.4,3.4 0 1,0 -6.8,0 M1261.9,1131 a3.4,3.4 0 1,0 6.8,0 a3.4,3.4 0 1,0 -6.8,0 M1263.7,1129.2 a3.4,3.4 0 1,0 6.8,0 a3.4,3.4 0 1,0 -6.8,0 M1265.4,1127.4 a3.4,3.4 0 1,0 6.8,0 a3.4,3.4 0 1,0 -6.8,0 M1267.1,1125.6 a3.4,3.4 0 1,0 6.8,0 a3.4,3.4 0 1,0 -6.8,0 M1268.8,1123.8 a3.4,3.4 0 1,0 6.8,0 a3.4,3.4 0 1,0 -6.8,0 M1270.7,1122.1 a3.4,3.4 0 1,0 6.8,0 a3.4,3.4 0 1,0 -6.8,0 M1272.6,1120.5 a3.4,3.4 0 1,0 6.8,0 a3.4,3.4 0 1,0 -6.8,0 M1274.5,1119 a3.4,3.4 0 1,0 6.8,0 a3.4,3.4 0 1,0 -6.8,0 M1276.5,1117.4 a3.4,3.4 0 1,0 6.8,0 a3.4,3.4 0 1,0 -6.8,0 M1278.4,1115.8 a3.4,3.4 0 1,0 6.8,0 a3.4,3.4 0 1,0 -6.8,0 M1280.4,1114.2 a3.4,3.4 0 1,0 6.8,0 a3.4,3.4 0 1,0 -6.8,0 M1282.3,1112.6 a3.4,3.4 0 1,0 6.8,0 a3.4,3.4 0 1,0 -6.8,0 M1284.2,1111 a3.4,3.4 0 1,0 6.8,0 a3.4,3.4 0 1,0 -6.8,0 M1286.2,1109.5 a3.4,3.4 0 1,0 6.8,0 a3.4,3.4 0 1,0 -6.8,0 M1288.1,1107.9 a3.4,3.4 0 1,0 6.8,0 a3.4,3.4 0 1,0 -6.8,0 M1290,1106.3 a3.4,3.4 0 1,0 6.8,0 a3.4,3.4 0 1,0 -6.8,0" fill="#9400E8" stroke="#7000B0" stroke-width="0.2"/>
<path d="M1062,1356 a4,4 0 1,0 8,0 a4,4 0 1,0 -8,0 M1065,1352 a4,4 0 1,0 8,0 a4,4 0 1,0 -8,0 M1067.9,1348 a4,4 0 1,0 8,0 a4,4 0 1,0 -8,0 M1071,1344 a4,4 0 1,0 8,0 a4,4 0 1,0 -8,0 M1074.3,1340.2 a4,4 0 1,0 8,0 a4,4 0 1,0 -8,0 M1077.5,1336.4 a4,4 0 1,0 8,0 a4,4 0 1,0 -8,0 M1080.8,1332.7 a4,4 0 1,0 8,0 a4,4 0 1,0 -8,0 M1084.1,1328.9 a4,4 0 1,0 8,0 a4,4 0 1,0 -8,0 M1217,1181 a4,4 0 1,0 8,0 a4,4 0 1,0 -8,0 M1221,1176.6 a4,4 0 1,0 8,0 a4,4 0 1,0 -8,0 M1225.1,1172.1 a4,4 0 1,0 8,0 a4,4 0 1,0 -8,0 M1229.1,1167.7 a4,4 0 1,0 8,0 a4,4 0 1,0 -8,0 M1233.1,1163.2 a4,4 0 1,0 8,0 a4,4 0 1,0 -8,0 M1237.2,1158.8 a4,4 0 1,0 8,0 a4,4 0 1,0 -8,0 M1241.2,1154.3 a4,4 0 1,0 8,0 a4,4 0 1,0 -8,0 M1245.2,1149.9 a4,4 0 1,0 8,0 a4,4 0 1,0 -8,0 M1249.2,1145.4 a4,4 0 1,0 8,0 a4,4 0 1,0 -8,0 M1253.3,1141 a4,4 0 1,0 8,0 a4,4 0 1,0 -8,0 M1257.3,1136.5 a4,4 0 1,0 8,0 a4,4 0 1,0 -8,0 M1261.3,1132.1 a4,4 0 1,0 8,0 a4,4 0 1,0 -8,0 M1265.4,1127.7 a4,4 0 1,0 8,0 a4,4 0 1,0 -8,0 M1270.1,1124 a4,4 0 1,0 8,0 a4,4 0 1,0 -8,0 M1274.9,1120.3 a4,4 0 1,0 8,0 a4,4 0 1,0 -8,0 M1279.7,1116.9 a4,4 0 1,0 8,0 a4,4 0 1,0 -8,0 M1285.1,1114.2 a4,4 0 1,0 8,0 a4,4 0 1,0 -8,0 M1290.5,1111.5 a4,4 0 1,0 8,0 a4,4 0 1,0 -8,0 M1305.5,1112.5 a4,4 0 1,0 8,0 a4,4 0 1,0 -8,0 M1301.3,1118.1 a4,4 0 1,0 8,0 a4,4 0 1,0 -8,0 M1297.1,1123.7 a4,4 0 1,0 8,0 a4,4 0 1,0 -8,0 M1293.2,1129.5 a4,4 0 1,0 8,0 a4,4 0 1,0 -8,0 M1288.9,1135 a4,4 0 1,0 8,0 a4,4 0 1,0 -8,0 M1283.6,1139.6 a4,4 0 1,0 8,0 a4,4 0 1,0 -8,0 M1317.5,1093.1 a4,4 0 1,0 8,0 a4,4 0 1,0 -8,0 M1311,1098 a4,4 0 1,0 8,0 a4,4 0 1,0 -8,0" fill="#FFFF00" stroke="#C8C000" stroke-width="0.6"/>
<path d="M1090.4,1339 a4.6,4.6 0 1,0 9.2,0 a4.6,4.6 0 1,0 -9.2,0 M1093.4,1335.6 a4.6,4.6 0 1,0 9.2,0 a4.6,4.6 0 1,0 -9.2,0 M1096.4,1332.3 a4.6,4.6 0 1,0 9.2,0 a4.6,4.6 0 1,0 -9.2,0 M1099.3,1328.9 a4.6,4.6 0 1,0 9.2,0 a4.6,4.6 0 1,0 -9.2,0 M1102.3,1325.5 a4.6,4.6 0 1,0 9.2,0 a4.6,4.6 0 1,0 -9.2,0 M1105.3,1322.1 a4.6,4.6 0 1,0 9.2,0 a4.6,4.6 0 1,0 -9.2,0 M1108.3,1318.8 a4.6,4.6 0 1,0 9.2,0 a4.6,4.6 0 1,0 -9.2,0 M1111.3,1315.4 a4.6,4.6 0 1,0 9.2,0 a4.6,4.6 0 1,0 -9.2,0 M1114.2,1312 a4.6,4.6 0 1,0 9.2,0 a4.6,4.6 0 1,0 -9.2,0 M1117.2,1308.7 a4.6,4.6 0 1,0 9.2,0 a4.6,4.6 0 1,0 -9.2,0 M1120.2,1305.3 a4.6,4.6 0 1,0 9.2,0 a4.6,4.6 0 1,0 -9.2,0 M1123.2,1301.9 a4.6,4.6 0 1,0 9.2,0 a4.6,4.6 0 1,0 -9.2,0 M1126.2,1298.5 a4.6,4.6 0 1,0 9.2,0 a4.6,4.6 0 1,0 -9.2,0 M1129.1,1295.2 a4.6,4.6 0 1,0 9.2,0 a4.6,4.6 0 1,0 -9.2,0 M1132.1,1291.8 a4.6,4.6 0 1,0 9.2,0 a4.6,4.6 0 1,0 -9.2,0 M1135.1,1288.4 a4.6,4.6 0 1,0 9.2,0 a4.6,4.6 0 1,0 -9.2,0 M1138.1,1285.1 a4.6,4.6 0 1,0 9.2,0 a4.6,4.6 0 1,0 -9.2,0 M1141.1,1281.7 a4.6,4.6 0 1,0 9.2,0 a4.6,4.6 0 1,0 -9.2,0 M1144,1278.3 a4.6,4.6 0 1,0 9.2,0 a4.6,4.6 0 1,0 -9.2,0 M1147,1274.9 a4.6,4.6 0 1,0 9.2,0 a4.6,4.6 0 1,0 -9.2,0 M1150,1271.6 a4.6,4.6 0 1,0 9.2,0 a4.6,4.6 0 1,0 -9.2,0 M1153,1268.2 a4.6,4.6 0 1,0 9.2,0 a4.6,4.6 0 1,0 -9.2,0 M1156,1264.8 a4.6,4.6 0 1,0 9.2,0 a4.6,4.6 0 1,0 -9.2,0 M1158.9,1261.5 a4.6,4.6 0 1,0 9.2,0 a4.6,4.6 0 1,0 -9.2,0 M1161.9,1258.1 a4.6,4.6 0 1,0 9.2,0 a4.6,4.6 0 1,0 -9.2,0 M1164.9,1254.7 a4.6,4.6 0 1,0 9.2,0 a4.6,4.6 0 1,0 -9.2,0 M1167.9,1251.3 a4.6,4.6 0 1,0 9.2,0 a4.6,4.6 0 1,0 -9.2,0 M1170.9,1248 a4.6,4.6 0 1,0 9.2,0 a4.6,4.6 0 1,0 -9.2,0 M1173.8,1244.6 a4.6,4.6 0 1,0 9.2,0 a4.6,4.6 0 1,0 -9.2,0 M1176.8,1241.2 a4.6,4.6 0 1,0 9.2,0 a4.6,4.6 0 1,0 -9.2,0 M1179.8,1237.9 a4.6,4.6 0 1,0 9.2,0 a4.6,4.6 0 1,0 -9.2,0 M1182.8,1234.5 a4.6,4.6 0 1,0 9.2,0 a4.6,4.6 0 1,0 -9.2,0 M1185.8,1231.1 a4.6,4.6 0 1,0 9.2,0 a4.6,4.6 0 1,0 -9.2,0 M1188.7,1227.7 a4.6,4.6 0 1,0 9.2,0 a4.6,4.6 0 1,0 -9.2,0 M1191.7,1224.3 a4.6,4.6 0 1,0 9.2,0 a4.6,4.6 0 1,0 -9.2,0 M1194.5,1220.8 a4.6,4.6 0 1,0 9.2,0 a4.6,4.6 0 1,0 -9.2,0 M1197.4,1217.4 a4.6,4.6 0 1,0 9.2,0 a4.6,4.6 0 1,0 -9.2,0 M1200.3,1213.9 a4.6,4.6 0 1,0 9.2,0 a4.6,4.6 0 1,0 -9.2,0 M1203.2,1210.5 a4.6,4.6 0 1,0 9.2,0 a4.6,4.6 0 1,0 -9.2,0 M1206.1,1207 a4.6,4.6 0 1,0 9.2,0 a4.6,4.6 0 1,0 -9.2,0 M1208.9,1203.6 a4.6,4.6 0 1,0 9.2,0 a4.6,4.6 0 1,0 -9.2,0 M1211.8,1200.1 a4.6,4.6 0 1,0 9.2,0 a4.6,4.6 0 1,0 -9.2,0 M1214.7,1196.6 a4.6,4.6 0 1,0 9.2,0 a4.6,4.6 0 1,0 -9.2,0 M1217.6,1193.2 a4.6,4.6 0 1,0 9.2,0 a4.6,4.6 0 1,0 -9.2,0 M1220.5,1189.7 a4.6,4.6 0 1,0 9.2,0 a4.6,4.6 0 1,0 -9.2,0 M1223.4,1186.3 a4.6,4.6 0 1,0 9.2,0 a4.6,4.6 0 1,0 -9.2,0 M1226.4,1182.9 a4.6,4.6 0 1,0 9.2,0 a4.6,4.6 0 1,0 -9.2,0 M1229.3,1179.5 a4.6,4.6 0 1,0 9.2,0 a4.6,4.6 0 1,0 -9.2,0 M1232.2,1176.1 a4.6,4.6 0 1,0 9.2,0 a4.6,4.6 0 1,0 -9.2,0 M1235.2,1172.7 a4.6,4.6 0 1,0 9.2,0 a4.6,4.6 0 1,0 -9.2,0 M1238.1,1169.3 a4.6,4.6 0 1,0 9.2,0 a4.6,4.6 0 1,0 -9.2,0 M1241,1165.9 a4.6,4.6 0 1,0 9.2,0 a4.6,4.6 0 1,0 -9.2,0 M1244,1162.5 a4.6,4.6 0 1,0 9.2,0 a4.6,4.6 0 1,0 -9.2,0 M1246.9,1159.1 a4.6,4.6 0 1,0 9.2,0 a4.6,4.6 0 1,0 -9.2,0 M1249.8,1155.6 a4.6,4.6 0 1,0 9.2,0 a4.6,4.6 0 1,0 -9.2,0 M1252.9,1152.4 a4.6,4.6 0 1,0 9.2,0 a4.6,4.6 0 1,0 -9.2,0 M1256.1,1149.1 a4.6,4.6 0 1,0 9.2,0 a4.6,4.6 0 1,0 -9.2,0 M1259.2,1145.9 a4.6,4.6 0 1,0 9.2,0 a4.6,4.6 0 1,0 -9.2,0 M1262.3,1142.7 a4.6,4.6 0 1,0 9.2,0 a4.6,4.6 0 1,0 -9.2,0 M1265.4,1139.4 a4.6,4.6 0 1,0 9.2,0 a4.6,4.6 0 1,0 -9.2,0 M1268.6,1136.2 a4.6,4.6 0 1,0 9.2,0 a4.6,4.6 0 1,0 -9.2,0 M1271.7,1133 a4.6,4.6 0 1,0 9.2,0 a4.6,4.6 0 1,0 -9.2,0 M1274.8,1129.7 a4.6,4.6 0 1,0 9.2,0 a4.6,4.6 0 1,0 -9.2,0 M1278,1126.5 a4.6,4.6 0 1,0 9.2,0 a4.6,4.6 0 1,0 -9.2,0" fill="#FF0505" stroke="#A00000" stroke-width="0.6"/>
<path d="M1107.3,1340 a4.7,4.7 0 1,0 9.4,0 a4.7,4.7 0 1,0 -9.4,0 M1113.7,1335.2 a4.7,4.7 0 1,0 9.4,0 a4.7,4.7 0 1,0 -9.4,0 M1120.2,1330.5 a4.7,4.7 0 1,0 9.4,0 a4.7,4.7 0 1,0 -9.4,0 M1126.6,1325.7 a4.7,4.7 0 1,0 9.4,0 a4.7,4.7 0 1,0 -9.4,0 M1133,1321 a4.7,4.7 0 1,0 9.4,0 a4.7,4.7 0 1,0 -9.4,0 M1139.5,1316.2 a4.7,4.7 0 1,0 9.4,0 a4.7,4.7 0 1,0 -9.4,0 M1145.9,1311.5 a4.7,4.7 0 1,0 9.4,0 a4.7,4.7 0 1,0 -9.4,0 M1152.3,1306.7 a4.7,4.7 0 1,0 9.4,0 a4.7,4.7 0 1,0 -9.4,0 M1157.9,1301 a4.7,4.7 0 1,0 9.4,0 a4.7,4.7 0 1,0 -9.4,0 M1163.3,1295.1 a4.7,4.7 0 1,0 9.4,0 a4.7,4.7 0 1,0 -9.4,0 M1168.7,1289.2 a4.7,4.7 0 1,0 9.4,0 a4.7,4.7 0 1,0 -9.4,0 M1174.2,1283.3 a4.7,4.7 0 1,0 9.4,0 a4.7,4.7 0 1,0 -9.4,0 M1178.9,1276.9 a4.7,4.7 0 1,0 9.4,0 a4.7,4.7 0 1,0 -9.4,0 M1183.1,1270.1 a4.7,4.7 0 1,0 9.4,0 a4.7,4.7 0 1,0 -9.4,0 M1187.4,1263.4 a4.7,4.7 0 1,0 9.4,0 a4.7,4.7 0 1,0 -9.4,0 M1191.6,1256.6 a4.7,4.7 0 1,0 9.4,0 a4.7,4.7 0 1,0 -9.4,0 M1195.9,1249.8 a4.7,4.7 0 1,0 9.4,0 a4.7,4.7 0 1,0 -9.4,0 M1200.4,1243.2 a4.7,4.7 0 1,0 9.4,0 a4.7,4.7 0 1,0 -9.4,0 M1204.9,1236.6 a4.7,4.7 0 1,0 9.4,0 a4.7,4.7 0 1,0 -9.4,0 M1209.4,1230 a4.7,4.7 0 1,0 9.4,0 a4.7,4.7 0 1,0 -9.4,0 M1214.3,1223.7 a4.7,4.7 0 1,0 9.4,0 a4.7,4.7 0 1,0 -9.4,0 M1219.6,1217.7 a4.7,4.7 0 1,0 9.4,0 a4.7,4.7 0 1,0 -9.4,0 M1225,1211.7 a4.7,4.7 0 1,0 9.4,0 a4.7,4.7 0 1,0 -9.4,0 M1230.3,1205.8 a4.7,4.7 0 1,0 9.4,0 a4.7,4.7 0 1,0 -9.4,0 M1235.6,1199.8 a4.7,4.7 0 1,0 9.4,0 a4.7,4.7 0 1,0 -9.4,0 M1240.9,1193.8 a4.7,4.7 0 1,0 9.4,0 a4.7,4.7 0 1,0 -9.4,0 M1246.3,1187.9 a4.7,4.7 0 1,0 9.4,0 a4.7,4.7 0 1,0 -9.4,0 M1251.8,1182 a4.7,4.7 0 1,0 9.4,0 a4.7,4.7 0 1,0 -9.4,0 M1257.2,1176.2 a4.7,4.7 0 1,0 9.4,0 a4.7,4.7 0 1,0 -9.4,0 M1262.7,1170.3 a4.7,4.7 0 1,0 9.4,0 a4.7,4.7 0 1,0 -9.4,0 M1268.1,1164.5 a4.7,4.7 0 1,0 9.4,0 a4.7,4.7 0 1,0 -9.4,0 M1109.3,1334 a4.7,4.7 0 1,0 9.4,0 a4.7,4.7 0 1,0 -9.4,0 M1116.2,1328.3 a4.7,4.7 0 1,0 9.4,0 a4.7,4.7 0 1,0 -9.4,0 M1123.2,1322.6 a4.7,4.7 0 1,0 9.4,0 a4.7,4.7 0 1,0 -9.4,0 M1130.1,1316.8 a4.7,4.7 0 1,0 9.4,0 a4.7,4.7 0 1,0 -9.4,0 M1137.1,1311.1 a4.7,4.7 0 1,0 9.4,0 a4.7,4.7 0 1,0 -9.4,0 M1144,1305.4 a4.7,4.7 0 1,0 9.4,0 a4.7,4.7 0 1,0 -9.4,0 M1150.7,1299.4 a4.7,4.7 0 1,0 9.4,0 a4.7,4.7 0 1,0 -9.4,0 M1156.8,1292.8 a4.7,4.7 0 1,0 9.4,0 a4.7,4.7 0 1,0 -9.4,0 M1162.9,1286.2 a4.7,4.7 0 1,0 9.4,0 a4.7,4.7 0 1,0 -9.4,0 M1169,1279.5 a4.7,4.7 0 1,0 9.4,0 a4.7,4.7 0 1,0 -9.4,0 M1174.8,1272.6 a4.7,4.7 0 1,0 9.4,0 a4.7,4.7 0 1,0 -9.4,0 M1180.3,1265.5 a4.7,4.7 0 1,0 9.4,0 a4.7,4.7 0 1,0 -9.4,0 M1185.8,1258.4 a4.7,4.7 0 1,0 9.4,0 a4.7,4.7 0 1,0 -9.4,0 M1191.4,1251.3 a4.7,4.7 0 1,0 9.4,0 a4.7,4.7 0 1,0 -9.4,0 M1217.8,1165.5 a4.7,4.7 0 1,0 9.4,0 a4.7,4.7 0 1,0 -9.4,0 M1216.1,1157.7 a4.7,4.7 0 1,0 9.4,0 a4.7,4.7 0 1,0 -9.4,0 M1215.2,1149.7 a4.7,4.7 0 1,0 9.4,0 a4.7,4.7 0 1,0 -9.4,0 M1217.1,1143 a4.7,4.7 0 1,0 9.4,0 a4.7,4.7 0 1,0 -9.4,0 M1223.8,1138.6 a4.7,4.7 0 1,0 9.4,0 a4.7,4.7 0 1,0 -9.4,0 M1231.2,1135.8 a4.7,4.7 0 1,0 9.4,0 a4.7,4.7 0 1,0 -9.4,0 M1238.8,1133.7 a4.7,4.7 0 1,0 9.4,0 a4.7,4.7 0 1,0 -9.4,0 M1245.7,1129.5 a4.7,4.7 0 1,0 9.4,0 a4.7,4.7 0 1,0 -9.4,0 M1252.5,1125.3 a4.7,4.7 0 1,0 9.4,0 a4.7,4.7 0 1,0 -9.4,0 M1259,1120.6 a4.7,4.7 0 1,0 9.4,0 a4.7,4.7 0 1,0 -9.4,0 M1265.4,1115.8 a4.7,4.7 0 1,0 9.4,0 a4.7,4.7 0 1,0 -9.4,0 M1271.8,1111 a4.7,4.7 0 1,0 9.4,0 a4.7,4.7 0 1,0 -9.4,0 M1278.2,1106.2 a4.7,4.7 0 1,0 9.4,0 a4.7,4.7 0 1,0 -9.4,0 M1284.5,1101.3 a4.7,4.7 0 1,0 9.4,0 a4.7,4.7 0 1,0 -9.4,0 M1291,1096.7 a4.7,4.7 0 1,0 9.4,0 a4.7,4.7 0 1,0 -9.4,0 M1297.7,1092.3 a4.7,4.7 0 1,0 9.4,0 a4.7,4.7 0 1,0 -9.4,0 M1305.1,1089.4 a4.7,4.7 0 1,0 9.4,0 a4.7,4.7 0 1,0 -9.4,0 M1312.9,1088 a4.7,4.7 0 1,0 9.4,0 a4.7,4.7 0 1,0 -9.4,0 M1243.3,1138 a4.7,4.7 0 1,0 9.4,0 a4.7,4.7 0 1,0 -9.4,0 M1250,1133.6 a4.7,4.7 0 1,0 9.4,0 a4.7,4.7 0 1,0 -9.4,0 M1256.7,1129.2 a4.7,4.7 0 1,0 9.4,0 a4.7,4.7 0 1,0 -9.4,0 M1262.9,1124.3 a4.7,4.7 0 1,0 9.4,0 a4.7,4.7 0 1,0 -9.4,0 M1269.1,1119.2 a4.7,4.7 0 1,0 9.4,0 a4.7,4.7 0 1,0 -9.4,0 M1275.5,1114.4 a4.7,4.7 0 1,0 9.4,0 a4.7,4.7 0 1,0 -9.4,0 M1281.9,1109.5 a4.7,4.7 0 1,0 9.4,0 a4.7,4.7 0 1,0 -9.4,0 M1288.2,1104.6 a4.7,4.7 0 1,0 9.4,0 a4.7,4.7 0 1,0 -9.4,0 M1294.5,1099.7 a4.7,4.7 0 1,0 9.4,0 a4.7,4.7 0 1,0 -9.4,0" fill="#FF6505" stroke="#B04A00" stroke-width="0.6"/>
<path d="M1097.8,1335 a4.2,4.2 0 1,0 8.4,0 a4.2,4.2 0 1,0 -8.4,0 M1105,1327.3 a4.2,4.2 0 1,0 8.4,0 a4.2,4.2 0 1,0 -8.4,0 M1112.2,1319.7 a4.2,4.2 0 1,0 8.4,0 a4.2,4.2 0 1,0 -8.4,0 M1119.3,1312 a4.2,4.2 0 1,0 8.4,0 a4.2,4.2 0 1,0 -8.4,0 M1126.5,1304.4 a4.2,4.2 0 1,0 8.4,0 a4.2,4.2 0 1,0 -8.4,0 M1133.7,1296.7 a4.2,4.2 0 1,0 8.4,0 a4.2,4.2 0 1,0 -8.4,0 M1140.9,1289 a4.2,4.2 0 1,0 8.4,0 a4.2,4.2 0 1,0 -8.4,0 M1148.1,1281.4 a4.2,4.2 0 1,0 8.4,0 a4.2,4.2 0 1,0 -8.4,0 M1155.3,1273.7 a4.2,4.2 0 1,0 8.4,0 a4.2,4.2 0 1,0 -8.4,0 M1162.4,1266.1 a4.2,4.2 0 1,0 8.4,0 a4.2,4.2 0 1,0 -8.4,0 M1169.6,1258.4 a4.2,4.2 0 1,0 8.4,0 a4.2,4.2 0 1,0 -8.4,0 M1176.6,1250.6 a4.2,4.2 0 1,0 8.4,0 a4.2,4.2 0 1,0 -8.4,0 M1183.3,1242.5 a4.2,4.2 0 1,0 8.4,0 a4.2,4.2 0 1,0 -8.4,0 M1190,1234.4 a4.2,4.2 0 1,0 8.4,0 a4.2,4.2 0 1,0 -8.4,0 M1197.1,1226.7 a4.2,4.2 0 1,0 8.4,0 a4.2,4.2 0 1,0 -8.4,0 M1204.5,1219.3 a4.2,4.2 0 1,0 8.4,0 a4.2,4.2 0 1,0 -8.4,0 M1212,1211.8 a4.2,4.2 0 1,0 8.4,0 a4.2,4.2 0 1,0 -8.4,0 M1219.4,1204.4 a4.2,4.2 0 1,0 8.4,0 a4.2,4.2 0 1,0 -8.4,0 M1226.8,1197 a4.2,4.2 0 1,0 8.4,0 a4.2,4.2 0 1,0 -8.4,0 M1234.2,1189.6 a4.2,4.2 0 1,0 8.4,0 a4.2,4.2 0 1,0 -8.4,0 M1241.5,1181.9 a4.2,4.2 0 1,0 8.4,0 a4.2,4.2 0 1,0 -8.4,0 M1248.5,1174.2 a4.2,4.2 0 1,0 8.4,0 a4.2,4.2 0 1,0 -8.4,0 M1255.6,1166.4 a4.2,4.2 0 1,0 8.4,0 a4.2,4.2 0 1,0 -8.4,0 M1262.7,1158.7 a4.2,4.2 0 1,0 8.4,0 a4.2,4.2 0 1,0 -8.4,0 M1269.7,1150.9 a4.2,4.2 0 1,0 8.4,0 a4.2,4.2 0 1,0 -8.4,0 M1276.8,1143.1 a4.2,4.2 0 1,0 8.4,0 a4.2,4.2 0 1,0 -8.4,0 M1282.9,1134.6 a4.2,4.2 0 1,0 8.4,0 a4.2,4.2 0 1,0 -8.4,0 M1288.7,1125.9 a4.2,4.2 0 1,0 8.4,0 a4.2,4.2 0 1,0 -8.4,0 M1295.7,1118.1 a4.2,4.2 0 1,0 8.4,0 a4.2,4.2 0 1,0 -8.4,0 M1303.1,1110.7 a4.2,4.2 0 1,0 8.4,0 a4.2,4.2 0 1,0 -8.4,0 M1309.7,1102.5 a4.2,4.2 0 1,0 8.4,0 a4.2,4.2 0 1,0 -8.4,0 M1315.4,1093.7 a4.2,4.2 0 1,0 8.4,0 a4.2,4.2 0 1,0 -8.4,0 M1097.8,1345 a4.2,4.2 0 1,0 8.4,0 a4.2,4.2 0 1,0 -8.4,0 M1105,1337.3 a4.2,4.2 0 1,0 8.4,0 a4.2,4.2 0 1,0 -8.4,0 M1112.1,1329.6 a4.2,4.2 0 1,0 8.4,0 a4.2,4.2 0 1,0 -8.4,0 M1119.3,1322 a4.2,4.2 0 1,0 8.4,0 a4.2,4.2 0 1,0 -8.4,0 M1126.5,1314.3 a4.2,4.2 0 1,0 8.4,0 a4.2,4.2 0 1,0 -8.4,0 M1133.6,1306.6 a4.2,4.2 0 1,0 8.4,0 a4.2,4.2 0 1,0 -8.4,0 M1140.8,1298.9 a4.2,4.2 0 1,0 8.4,0 a4.2,4.2 0 1,0 -8.4,0 M1147.9,1291.3 a4.2,4.2 0 1,0 8.4,0 a4.2,4.2 0 1,0 -8.4,0 M1155.1,1283.6 a4.2,4.2 0 1,0 8.4,0 a4.2,4.2 0 1,0 -8.4,0 M1162.3,1275.9 a4.2,4.2 0 1,0 8.4,0 a4.2,4.2 0 1,0 -8.4,0 M1169.4,1268.2 a4.2,4.2 0 1,0 8.4,0 a4.2,4.2 0 1,0 -8.4,0 M1176.6,1260.5 a4.2,4.2 0 1,0 8.4,0 a4.2,4.2 0 1,0 -8.4,0 M1183.8,1252.9 a4.2,4.2 0 1,0 8.4,0 a4.2,4.2 0 1,0 -8.4,0 M1191.1,1245.4 a4.2,4.2 0 1,0 8.4,0 a4.2,4.2 0 1,0 -8.4,0 M1198.4,1237.8 a4.2,4.2 0 1,0 8.4,0 a4.2,4.2 0 1,0 -8.4,0 M1205.7,1230.3 a4.2,4.2 0 1,0 8.4,0 a4.2,4.2 0 1,0 -8.4,0 M1213,1222.7 a4.2,4.2 0 1,0 8.4,0 a4.2,4.2 0 1,0 -8.4,0 M1220.1,1215 a4.2,4.2 0 1,0 8.4,0 a4.2,4.2 0 1,0 -8.4,0 M1227.2,1207.2 a4.2,4.2 0 1,0 8.4,0 a4.2,4.2 0 1,0 -8.4,0 M1234.3,1199.5 a4.2,4.2 0 1,0 8.4,0 a4.2,4.2 0 1,0 -8.4,0 M1241.3,1191.7 a4.2,4.2 0 1,0 8.4,0 a4.2,4.2 0 1,0 -8.4,0 M1248.6,1184.2 a4.2,4.2 0 1,0 8.4,0 a4.2,4.2 0 1,0 -8.4,0 M1256.1,1176.7 a4.2,4.2 0 1,0 8.4,0 a4.2,4.2 0 1,0 -8.4,0 M1095.8,1350 a4.2,4.2 0 1,0 8.4,0 a4.2,4.2 0 1,0 -8.4,0 M1092.8,1345 a4.2,4.2 0 1,0 8.4,0 a4.2,4.2 0 1,0 -8.4,0" fill="#05FBFB" stroke="#0A9A9A" stroke-width="0.6"/>
<path d="M1080.8,1330 a4.2,4.2 0 1,0 8.4,0 a4.2,4.2 0 1,0 -8.4,0 M1088.6,1322.2 a4.2,4.2 0 1,0 8.4,0 a4.2,4.2 0 1,0 -8.4,0 M1096.4,1314.4 a4.2,4.2 0 1,0 8.4,0 a4.2,4.2 0 1,0 -8.4,0 M1104.1,1306.7 a4.2,4.2 0 1,0 8.4,0 a4.2,4.2 0 1,0 -8.4,0 M1111.9,1298.9 a4.2,4.2 0 1,0 8.4,0 a4.2,4.2 0 1,0 -8.4,0 M1119.7,1291.1 a4.2,4.2 0 1,0 8.4,0 a4.2,4.2 0 1,0 -8.4,0 M1127.5,1283.3 a4.2,4.2 0 1,0 8.4,0 a4.2,4.2 0 1,0 -8.4,0 M1135.2,1275.6 a4.2,4.2 0 1,0 8.4,0 a4.2,4.2 0 1,0 -8.4,0 M1143,1267.8 a4.2,4.2 0 1,0 8.4,0 a4.2,4.2 0 1,0 -8.4,0 M1150.8,1260 a4.2,4.2 0 1,0 8.4,0 a4.2,4.2 0 1,0 -8.4,0 M1158.6,1252.2 a4.2,4.2 0 1,0 8.4,0 a4.2,4.2 0 1,0 -8.4,0 M1166.4,1244.4 a4.2,4.2 0 1,0 8.4,0 a4.2,4.2 0 1,0 -8.4,0 M1174.1,1236.7 a4.2,4.2 0 1,0 8.4,0 a4.2,4.2 0 1,0 -8.4,0 M1181.9,1228.9 a4.2,4.2 0 1,0 8.4,0 a4.2,4.2 0 1,0 -8.4,0 M1189.7,1221.1 a4.2,4.2 0 1,0 8.4,0 a4.2,4.2 0 1,0 -8.4,0 M1197.5,1213.3 a4.2,4.2 0 1,0 8.4,0 a4.2,4.2 0 1,0 -8.4,0 M1205.3,1205.5 a4.2,4.2 0 1,0 8.4,0 a4.2,4.2 0 1,0 -8.4,0 M1213,1197.8 a4.2,4.2 0 1,0 8.4,0 a4.2,4.2 0 1,0 -8.4,0 M1220.8,1190 a4.2,4.2 0 1,0 8.4,0 a4.2,4.2 0 1,0 -8.4,0 M1228.6,1182.2 a4.2,4.2 0 1,0 8.4,0 a4.2,4.2 0 1,0 -8.4,0 M1236.4,1174.4 a4.2,4.2 0 1,0 8.4,0 a4.2,4.2 0 1,0 -8.4,0 M1244.1,1166.7 a4.2,4.2 0 1,0 8.4,0 a4.2,4.2 0 1,0 -8.4,0 M1251.9,1158.9 a4.2,4.2 0 1,0 8.4,0 a4.2,4.2 0 1,0 -8.4,0 M1259.7,1151.1 a4.2,4.2 0 1,0 8.4,0 a4.2,4.2 0 1,0 -8.4,0 M1267.5,1143.3 a4.2,4.2 0 1,0 8.4,0 a4.2,4.2 0 1,0 -8.4,0 M1275.3,1135.5 a4.2,4.2 0 1,0 8.4,0 a4.2,4.2 0 1,0 -8.4,0 M1283,1127.8 a4.2,4.2 0 1,0 8.4,0 a4.2,4.2 0 1,0 -8.4,0 M1290.8,1120 a4.2,4.2 0 1,0 8.4,0 a4.2,4.2 0 1,0 -8.4,0 M1298.6,1112.2 a4.2,4.2 0 1,0 8.4,0 a4.2,4.2 0 1,0 -8.4,0 M1306.4,1104.4 a4.2,4.2 0 1,0 8.4,0 a4.2,4.2 0 1,0 -8.4,0 M1314.1,1096.7 a4.2,4.2 0 1,0 8.4,0 a4.2,4.2 0 1,0 -8.4,0 M1312.8,1095 a4.2,4.2 0 1,0 8.4,0 a4.2,4.2 0 1,0 -8.4,0 M1318.1,1104.1 a4.2,4.2 0 1,0 8.4,0 a4.2,4.2 0 1,0 -8.4,0 M1322.9,1113.4 a4.2,4.2 0 1,0 8.4,0 a4.2,4.2 0 1,0 -8.4,0 M1326.6,1123.1 a4.2,4.2 0 1,0 8.4,0 a4.2,4.2 0 1,0 -8.4,0 M1329.4,1133.2 a4.2,4.2 0 1,0 8.4,0 a4.2,4.2 0 1,0 -8.4,0 M1333.4,1142.9 a4.2,4.2 0 1,0 8.4,0 a4.2,4.2 0 1,0 -8.4,0 M1338.9,1151.9 a4.2,4.2 0 1,0 8.4,0 a4.2,4.2 0 1,0 -8.4,0 M1344.1,1161 a4.2,4.2 0 1,0 8.4,0 a4.2,4.2 0 1,0 -8.4,0 M1347.5,1170.6 a4.2,4.2 0 1,0 8.4,0 a4.2,4.2 0 1,0 -8.4,0 M1348.2,1180.9 a4.2,4.2 0 1,0 8.4,0 a4.2,4.2 0 1,0 -8.4,0 M1354.1,1189.5 a4.2,4.2 0 1,0 8.4,0 a4.2,4.2 0 1,0 -8.4,0 M1358.2,1199.2 a4.2,4.2 0 1,0 8.4,0 a4.2,4.2 0 1,0 -8.4,0 M1361.2,1209.2 a4.2,4.2 0 1,0 8.4,0 a4.2,4.2 0 1,0 -8.4,0 M1363.9,1219.4 a4.2,4.2 0 1,0 8.4,0 a4.2,4.2 0 1,0 -8.4,0 M1365.6,1229.7 a4.2,4.2 0 1,0 8.4,0 a4.2,4.2 0 1,0 -8.4,0 M1368.6,1239.5 a4.2,4.2 0 1,0 8.4,0 a4.2,4.2 0 1,0 -8.4,0 M1373.6,1248.7 a4.2,4.2 0 1,0 8.4,0 a4.2,4.2 0 1,0 -8.4,0 M1378.9,1257.6 a4.2,4.2 0 1,0 8.4,0 a4.2,4.2 0 1,0 -8.4,0 M1370.2,1263.5 a4.2,4.2 0 1,0 8.4,0 a4.2,4.2 0 1,0 -8.4,0 M1363.3,1271.2 a4.2,4.2 0 1,0 8.4,0 a4.2,4.2 0 1,0 -8.4,0 M1357.7,1280.1 a4.2,4.2 0 1,0 8.4,0 a4.2,4.2 0 1,0 -8.4,0 M1350.6,1287.8 a4.2,4.2 0 1,0 8.4,0 a4.2,4.2 0 1,0 -8.4,0 M1343.2,1295.3 a4.2,4.2 0 1,0 8.4,0 a4.2,4.2 0 1,0 -8.4,0 M1335.8,1302.7 a4.2,4.2 0 1,0 8.4,0 a4.2,4.2 0 1,0 -8.4,0 M1328.4,1310.1 a4.2,4.2 0 1,0 8.4,0 a4.2,4.2 0 1,0 -8.4,0 M1320.9,1317.5 a4.2,4.2 0 1,0 8.4,0 a4.2,4.2 0 1,0 -8.4,0 M1312.8,1324.2 a4.2,4.2 0 1,0 8.4,0 a4.2,4.2 0 1,0 -8.4,0 M1306.7,1332.5 a4.2,4.2 0 1,0 8.4,0 a4.2,4.2 0 1,0 -8.4,0 M1300.6,1341.1 a4.2,4.2 0 1,0 8.4,0 a4.2,4.2 0 1,0 -8.4,0 M1299.5,1342.6 a4.2,4.2 0 1,0 8.4,0 a4.2,4.2 0 1,0 -8.4,0 M1285,1342.5 a4.2,4.2 0 1,0 8.4,0 a4.2,4.2 0 1,0 -8.4,0 M1270.5,1341.6 a4.2,4.2 0 1,0 8.4,0 a4.2,4.2 0 1,0 -8.4,0 M1256.1,1340.9 a4.2,4.2 0 1,0 8.4,0 a4.2,4.2 0 1,0 -8.4,0 M1241.6,1342.3 a4.2,4.2 0 1,0 8.4,0 a4.2,4.2 0 1,0 -8.4,0 M1227.1,1342.4 a4.2,4.2 0 1,0 8.4,0 a4.2,4.2 0 1,0 -8.4,0 M1212.8,1340.4 a4.2,4.2 0 1,0 8.4,0 a4.2,4.2 0 1,0 -8.4,0 M1198.4,1342 a4.2,4.2 0 1,0 8.4,0 a4.2,4.2 0 1,0 -8.4,0 M1184,1343.6 a4.2,4.2 0 1,0 8.4,0 a4.2,4.2 0 1,0 -8.4,0 M1169.5,1343.6 a4.2,4.2 0 1,0 8.4,0 a4.2,4.2 0 1,0 -8.4,0 M1157.2,1342.6 a4.2,4.2 0 1,0 8.4,0 a4.2,4.2 0 1,0 -8.4,0 M1149.8,1341.7 a4.2,4.2 0 1,0 8.4,0 a4.2,4.2 0 1,0 -8.4,0 M1142.8,1341 a4.2,4.2 0 1,0 8.4,0 a4.2,4.2 0 1,0 -8.4,0 M1137.5,1340 a4.2,4.2 0 1,0 8.4,0 a4.2,4.2 0 1,0 -8.4,0 M1145.8,1341 a4.2,4.2 0 1,0 8.4,0 a4.2,4.2 0 1,0 -8.4,0 M1153.8,1342 a4.2,4.2 0 1,0 8.4,0 a4.2,4.2 0 1,0 -8.4,0 M1277.3,1350 a4.2,4.2 0 1,0 8.4,0 a4.2,4.2 0 1,0 -8.4,0 M1286.6,1350 a4.2,4.2 0 1,0 8.4,0 a4.2,4.2 0 1,0 -8.4,0 M1295.8,1350 a4.2,4.2 0 1,0 8.4,0 a4.2,4.2 0 1,0 -8.4,0 M1299.5,1354.6 a4.2,4.2 0 1,0 8.4,0 a4.2,4.2 0 1,0 -8.4,0 M1270,1359.3 a4.2,4.2 0 1,0 8.4,0 a4.2,4.2 0 1,0 -8.4,0 M1257,1367.6 a4.2,4.2 0 1,0 8.4,0 a4.2,4.2 0 1,0 -8.4,0 M1292.8,1333 a4.2,4.2 0 1,0 8.4,0 a4.2,4.2 0 1,0 -8.4,0 M1305.8,1330 a4.2,4.2 0 1,0 8.4,0 a4.2,4.2 0 1,0 -8.4,0 M1290.8,1340 a4.2,4.2 0 1,0 8.4,0 a4.2,4.2 0 1,0 -8.4,0 M1282.8,1345 a4.2,4.2 0 1,0 8.4,0 a4.2,4.2 0 1,0 -8.4,0" fill="#0B6B35" stroke="#053D1C" stroke-width="0.6"/>
<path d="M1224.5,1099 L1227.7,1107.6 1236.9,1108 1229.7,1113.7 1232.1,1122.5 1224.5,1117.5 1216.9,1122.5 1219.3,1113.7 1212.1,1108 1221.3,1107.6 Z" fill="#4a4a4a" stroke="#333" stroke-width="0.5"/>
<circle cx="1224.5" cy="1112.5" r="0.9" fill="#2a6aa0"/>
<rect x="1288.2" y="1324.3" width="18" height="18" fill="none" stroke="#0F2030" stroke-width="3"/></g>
<rect x="90" y="27.8" width="723" height="813" fill="none" stroke="#000" stroke-width="3.8" stroke-linejoin="round"/>
<rect x="963.2" y="34" width="404.8" height="793.3" fill="none" stroke="#000" stroke-width="3.3" stroke-linejoin="round"/>
<rect x="158.2" y="887.6" width="510.4" height="619.6" fill="none" stroke="#000" stroke-width="4" stroke-linejoin="round"/>
<rect x="915.5" y="887.8" width="510.5" height="619.2" fill="none" stroke="#000" stroke-width="4" stroke-linejoin="round"/>
<path d="M149,887.6 H158.2 M149,990.9 H158.2 M149,1094.1 H158.2 M149,1197.4 H158.2 M149,1300.7 H158.2 M149,1403.9 H158.2 M149,1507.2 H158.2 M158.2,1507.2 V1516.5 M243.3,1507.2 V1516.5 M328.3,1507.2 V1516.5 M413.4,1507.2 V1516.5 M498.5,1507.2 V1516.5 M583.5,1507.2 V1516.5 M668.6,1507.2 V1516.5 M906.5,887.8 H915.5 M906.5,1042.6 H915.5 M906.5,1197.4 H915.5 M906.5,1352.2 H915.5 M906.5,1507 H915.5 M915.5,1507 V1516.5 M1043.1,1507 V1516.5 M1170.8,1507 V1516.5 M1298.4,1507 V1516.5 M1426,1507 V1516.5" stroke="#000" stroke-width="3.6" stroke-linecap="round" fill="none"/>
<g font-family="'Liberation Sans', Arial, sans-serif" font-weight="bold" font-size="28" fill="#000"><text x="142.5" y="897.3" text-anchor="end">43.5</text><text x="142.5" y="1000.6" text-anchor="end">43.0</text><text x="142.5" y="1103.8" text-anchor="end">42.5</text><text x="142.5" y="1207.1" text-anchor="end">42.0</text><text x="142.5" y="1310.4" text-anchor="end">41.5</text><text x="142.5" y="1413.6" text-anchor="end">41.0</text><text x="142.5" y="1516.9" text-anchor="end">40.5</text><text x="158.2" y="1550.5" text-anchor="middle">16.0</text><text x="243.3" y="1550.5" text-anchor="middle">16.5</text><text x="328.3" y="1550.5" text-anchor="middle">17.0</text><text x="413.4" y="1550.5" text-anchor="middle">17.5</text><text x="498.5" y="1550.5" text-anchor="middle">18.0</text><text x="583.5" y="1550.5" text-anchor="middle">18.5</text><text x="668.6" y="1550.5" text-anchor="middle">19.0</text><text x="898" y="897.5" text-anchor="end">43.0</text><text x="898" y="1052.3" text-anchor="end">42.5</text><text x="898" y="1207.1" text-anchor="end">42.0</text><text x="898" y="1361.9" text-anchor="end">41.5</text><text x="898" y="1516.7" text-anchor="end">41.0</text><text x="915.5" y="1550.5" text-anchor="middle">16.5</text><text x="1043.1" y="1550.5" text-anchor="middle">17.0</text><text x="1170.8" y="1550.5" text-anchor="middle">17.5</text><text x="1298.4" y="1550.5" text-anchor="middle">18.0</text><text x="1426" y="1550.5" text-anchor="middle">18.5</text></g>
<g font-family="'Liberation Sans', Arial, sans-serif" font-weight="bold" fill="#000">
<text x="414" y="1597.8" font-size="30" text-anchor="middle">Longitude, °E</text>
<text x="1170.7" y="1597.8" font-size="30" text-anchor="middle">Longitude, °E</text>
<text transform="translate(57.8,1197) rotate(-90)" font-size="34.5" text-anchor="middle">Latitude, °N</text>
<text transform="translate(815,1197) rotate(-90)" font-size="34.5" text-anchor="middle">Latitude, °N</text>
<text x="-1.2" y="23.8" font-size="31">A</text>
<text x="-0.9" y="891.4" font-size="31">B</text>
<text x="769.2" y="892" font-size="31">C</text>
</g>
<g font-family="'Liberation Sans', Arial, sans-serif" font-weight="bold" font-size="26" fill="#000"><path d="M1027.8,63.1 L1040.8,76.1 L1027.8,89.1 L1014.8,76.1 Z" fill="#19F0F0" stroke="#888" stroke-width="0.6"/>
<text x="1065.6" y="87.1">WMO 6903178</text>
<path d="M1027.8,112.4 L1040.8,125.4 L1027.8,138.4 L1014.8,125.4 Z" fill="#F01010" stroke="#888" stroke-width="0.6"/>
<text x="1065.6" y="135.8">WMO 6903250</text>
<path d="M1027.8,168 L1040.8,181 L1027.8,194 L1014.8,181 Z" fill="#1010E8" stroke="#888" stroke-width="0.6"/>
<text x="1066.8" y="191.1">WMO 6901865</text>
<path d="M1027.8,216.7 L1040.8,229.7 L1027.8,242.7 L1014.8,229.7 Z" fill="#10E010" stroke="#888" stroke-width="0.6"/>
<text x="1066.8" y="240.4">WMO 6903197</text>
<path d="M1027.8,265.4 L1032,275.6 1043,276.5 1034.6,283.6 1037.2,294.3 1027.8,288.6 1018.4,294.3 1021,283.6 1012.6,276.5 1023.6,275.6 Z" fill="#000" stroke="none" stroke-width="0.5"/>
<text x="1065.8" y="291.3">P-1200 L-Term station</text>
<path d="M1023.4,310.7 L1032.2,310.7 1032.2,323.4 1044.9,323.4 1044.9,332.2 1032.2,332.2 1032.2,344.9 1023.4,344.9 1023.4,332.2 1010.7,332.2 1010.7,323.4 1023.4,323.4 Z" fill="#FFFF00" stroke="#D8C800" stroke-width="1.0"/>
<text x="1067.7" y="337.9">Oceanographic cruises</text>
<rect x="1018.5" y="367.5" width="20.8" height="20.8" fill="#fff" stroke="#000" stroke-width="6.6"/>
<text x="1067.3" y="387">E2M3A</text>
<circle cx="1027.8" cy="419.8" r="12.8" fill="#000000" stroke="#000" stroke-width="0.6"/>
<text x="1068.8" y="429.4" font-size="25.6">Convex 14</text>
<circle cx="1027.8" cy="461.4" r="12.8" fill="#FFFF00" stroke="#666" stroke-width="0.6"/>
<text x="1068" y="470.5" font-size="25.6">Preconvex 16</text>
<circle cx="1027.8" cy="500.6" r="12.8" fill="#F595C5" stroke="#666" stroke-width="0.6"/>
<text x="1068.8" y="509.6" font-size="25.6">Convex 16</text>
<circle cx="1027.8" cy="540.8" r="12.8" fill="#0A0AF0" stroke="#666" stroke-width="0.6"/>
<text x="1068" y="549.9" font-size="25.6">Preconvex 17</text>
<circle cx="1027.8" cy="581.6" r="12.6" fill="#fff" stroke="#bbb" stroke-width="1" stroke-dasharray="2,1.5"/>
<text x="1068.8" y="591" font-size="25.6">Convex 17</text>
<circle cx="1027.8" cy="621.5" r="12.8" fill="#8B0FD8" stroke="#666" stroke-width="0.6"/>
<text x="1068.8" y="630.5" font-size="25.6">Convex 18</text>
<circle cx="1027.8" cy="661.7" r="12.8" fill="#10F5F0" stroke="#666" stroke-width="0.6"/>
<text x="1068" y="670.2" font-size="25.6">Preconvex 19</text>
<circle cx="1027.8" cy="702.3" r="12.8" fill="#F5650A" stroke="#666" stroke-width="0.6"/>
<text x="1068.8" y="710.5" font-size="25.6">Convex 19</text>
<circle cx="1027.8" cy="742.5" r="12.8" fill="#F50A0A" stroke="#666" stroke-width="0.6"/>
<text x="1068" y="751" font-size="25.6">Preconvex 20</text>
<circle cx="1027.8" cy="785" r="12.8" fill="#0A6A35" stroke="#666" stroke-width="0.6"/>
<text x="1068.8" y="793.1" font-size="25.6">Convex 20</text></g>
</svg>
</body></html>
